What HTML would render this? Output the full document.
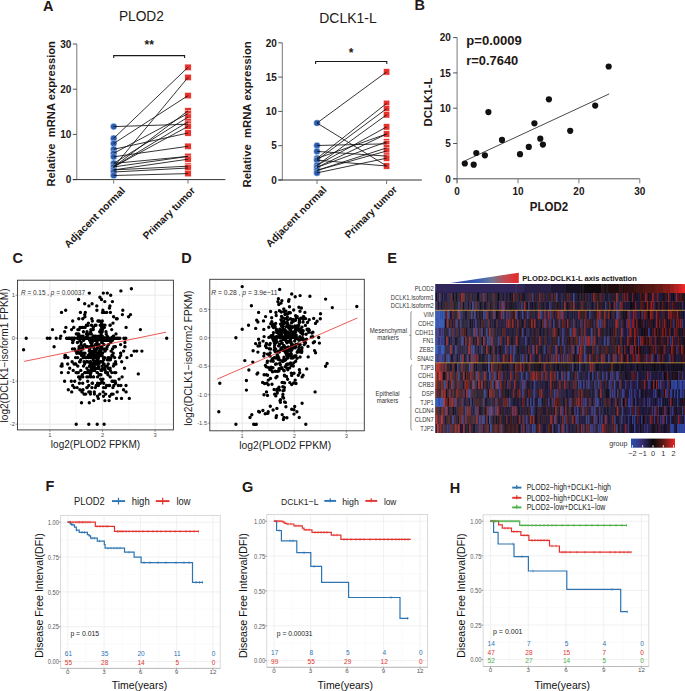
<!DOCTYPE html><html><head><meta charset="utf-8"><style>html,body{margin:0;padding:0;background:#fff;}svg{display:block;font-family:"Liberation Sans",sans-serif;}</style></head><body><svg width="685" height="691" viewBox="0 0 685 691" fill="#231815"><text x="42.9" y="10.6" font-size="14.5" font-weight="bold">A</text><text x="414.5" y="9.7" font-size="14.5" font-weight="bold">B</text><text x="12.6" y="262.6" font-size="14.5" font-weight="bold">C</text><text x="181.3" y="262.5" font-size="14.5" font-weight="bold">D</text><text x="387.2" y="262.5" font-size="14.5" font-weight="bold">E</text><text x="45.4" y="491.3" font-size="14.5" font-weight="bold">F</text><text x="242" y="492.4" font-size="14.5" font-weight="bold">G</text><text x="449.8" y="492.8" font-size="14.5" font-weight="bold">H</text><text x="141.4" y="21.2" font-size="15" text-anchor="middle" textLength="45" lengthAdjust="spacingAndGlyphs">PLOD2</text><line x1="76.8" y1="44" x2="76.8" y2="179.6" stroke="#777" stroke-width="1"/><line x1="72.8" y1="179.6" x2="76.8" y2="179.6" stroke="#555" stroke-width="1"/><text x="71.3" y="183.3" font-size="10" font-weight="bold" text-anchor="end">0</text><line x1="72.8" y1="134.4" x2="76.8" y2="134.4" stroke="#555" stroke-width="1"/><text x="71.3" y="138.1" font-size="10" font-weight="bold" text-anchor="end">10</text><line x1="72.8" y1="89.2" x2="76.8" y2="89.2" stroke="#555" stroke-width="1"/><text x="71.3" y="92.9" font-size="10" font-weight="bold" text-anchor="end">20</text><line x1="72.8" y1="44" x2="76.8" y2="44" stroke="#555" stroke-width="1"/><text x="71.3" y="47.7" font-size="10" font-weight="bold" text-anchor="end">30</text><line x1="72.8" y1="179.6" x2="225.4" y2="179.6" stroke="#333" stroke-width="1"/><line x1="113.7" y1="179.6" x2="113.7" y2="183.6" stroke="#777" stroke-width="1"/><line x1="188" y1="179.6" x2="188" y2="183.6" stroke="#777" stroke-width="1"/><text x="54.6" y="113.8" font-size="11.3" font-weight="bold" text-anchor="middle" textLength="145.5" lengthAdjust="spacingAndGlyphs" transform="rotate(-90 54.6 113.8)">Relative&#160;&#160;mRNA expression</text><path d="M113.7 58.1V55.6H184.6V58.1" fill="none" stroke="#1a1a1a" stroke-width="1.1"/><text x="149.2" y="49.3" font-size="12" font-weight="bold" text-anchor="middle">**</text><circle cx="113.7" cy="126.6" r="3.3" fill="#2a5db0" stroke="#fff" stroke-width="0.4"/><circle cx="113.7" cy="138.4" r="3.3" fill="#2a5db0" stroke="#fff" stroke-width="0.4"/><circle cx="113.7" cy="143.5" r="3.3" fill="#2a5db0" stroke="#fff" stroke-width="0.4"/><circle cx="113.7" cy="149.3" r="3.3" fill="#2a5db0" stroke="#fff" stroke-width="0.4"/><circle cx="113.7" cy="153.3" r="3.3" fill="#2a5db0" stroke="#fff" stroke-width="0.4"/><circle cx="113.7" cy="156.8" r="3.3" fill="#2a5db0" stroke="#fff" stroke-width="0.4"/><circle cx="113.7" cy="163.4" r="3.3" fill="#2a5db0" stroke="#fff" stroke-width="0.4"/><circle cx="113.7" cy="166.9" r="3.3" fill="#2a5db0" stroke="#fff" stroke-width="0.4"/><circle cx="113.7" cy="169.9" r="3.3" fill="#2a5db0" stroke="#fff" stroke-width="0.4"/><circle cx="113.7" cy="172" r="3.3" fill="#2a5db0" stroke="#fff" stroke-width="0.4"/><circle cx="113.7" cy="175.5" r="3.3" fill="#2a5db0" stroke="#fff" stroke-width="0.4"/><rect x="184.8" y="64.1" width="6.4" height="6.4" fill="#e8322c" stroke="#fff" stroke-width="0.5"/><rect x="184.8" y="74.2" width="6.4" height="6.4" fill="#e8322c" stroke="#fff" stroke-width="0.5"/><rect x="184.8" y="92.4" width="6.4" height="6.4" fill="#e8322c" stroke="#fff" stroke-width="0.5"/><rect x="184.8" y="107.6" width="6.4" height="6.4" fill="#e8322c" stroke="#fff" stroke-width="0.5"/><rect x="184.8" y="110.4" width="6.4" height="6.4" fill="#e8322c" stroke="#fff" stroke-width="0.5"/><rect x="184.8" y="113.9" width="6.4" height="6.4" fill="#e8322c" stroke="#fff" stroke-width="0.5"/><rect x="184.8" y="118.6" width="6.4" height="6.4" fill="#e8322c" stroke="#fff" stroke-width="0.5"/><rect x="184.8" y="121" width="6.4" height="6.4" fill="#e8322c" stroke="#fff" stroke-width="0.5"/><rect x="184.8" y="123.2" width="6.4" height="6.4" fill="#e8322c" stroke="#fff" stroke-width="0.5"/><rect x="184.8" y="129.8" width="6.4" height="6.4" fill="#e8322c" stroke="#fff" stroke-width="0.5"/><rect x="184.8" y="143.1" width="6.4" height="6.4" fill="#e8322c" stroke="#fff" stroke-width="0.5"/><rect x="184.8" y="153.2" width="6.4" height="6.4" fill="#e8322c" stroke="#fff" stroke-width="0.5"/><rect x="184.8" y="156" width="6.4" height="6.4" fill="#e8322c" stroke="#fff" stroke-width="0.5"/><rect x="184.8" y="163" width="6.4" height="6.4" fill="#e8322c" stroke="#fff" stroke-width="0.5"/><rect x="184.8" y="164.8" width="6.4" height="6.4" fill="#e8322c" stroke="#fff" stroke-width="0.5"/><rect x="184.8" y="170.4" width="6.4" height="6.4" fill="#e8322c" stroke="#fff" stroke-width="0.5"/><line x1="113.7" y1="126.6" x2="188" y2="124.2" stroke="#111" stroke-width="0.85"/><line x1="113.7" y1="138.4" x2="188" y2="67.3" stroke="#111" stroke-width="0.85"/><line x1="113.7" y1="143.5" x2="188" y2="95.6" stroke="#111" stroke-width="0.85"/><line x1="113.7" y1="149.3" x2="188" y2="133" stroke="#111" stroke-width="0.85"/><line x1="113.7" y1="153.3" x2="188" y2="113.6" stroke="#111" stroke-width="0.85"/><line x1="113.7" y1="156.8" x2="188" y2="146.3" stroke="#111" stroke-width="0.85"/><line x1="113.7" y1="163.4" x2="188" y2="117.1" stroke="#111" stroke-width="0.85"/><line x1="113.7" y1="166.9" x2="188" y2="77.4" stroke="#111" stroke-width="0.85"/><line x1="113.7" y1="166.9" x2="188" y2="110.8" stroke="#111" stroke-width="0.85"/><line x1="113.7" y1="166.9" x2="188" y2="121.8" stroke="#111" stroke-width="0.85"/><line x1="113.7" y1="166.9" x2="188" y2="126.4" stroke="#111" stroke-width="0.85"/><line x1="113.7" y1="166.9" x2="188" y2="156.4" stroke="#111" stroke-width="0.85"/><line x1="113.7" y1="169.9" x2="188" y2="159.2" stroke="#111" stroke-width="0.85"/><line x1="113.7" y1="169.9" x2="188" y2="166.2" stroke="#111" stroke-width="0.85"/><line x1="113.7" y1="172" x2="188" y2="168" stroke="#111" stroke-width="0.85"/><line x1="113.7" y1="175.5" x2="188" y2="173.6" stroke="#111" stroke-width="0.85"/><line x1="113.7" y1="163.4" x2="188" y2="156.4" stroke="#111" stroke-width="0.85"/><text x="68.6" y="248.4" font-size="10.3" font-weight="bold" textLength="81" lengthAdjust="spacingAndGlyphs" transform="rotate(-45 68.6 248.4)">Adjacent normal</text><text x="147.1" y="240.1" font-size="10.3" font-weight="bold" textLength="69" lengthAdjust="spacingAndGlyphs" transform="rotate(-45 147.1 240.1)">Primary tumor</text><text x="348" y="23.1" font-size="15" text-anchor="middle" textLength="57.5" lengthAdjust="spacingAndGlyphs">DCLK1-L</text><line x1="282.3" y1="42.8" x2="282.3" y2="180" stroke="#777" stroke-width="1"/><line x1="278.3" y1="180" x2="282.3" y2="180" stroke="#555" stroke-width="1"/><text x="276.8" y="183.7" font-size="10" font-weight="bold" text-anchor="end">0</text><line x1="278.3" y1="145.7" x2="282.3" y2="145.7" stroke="#555" stroke-width="1"/><text x="276.8" y="149.4" font-size="10" font-weight="bold" text-anchor="end">5</text><line x1="278.3" y1="111.4" x2="282.3" y2="111.4" stroke="#555" stroke-width="1"/><text x="276.8" y="115.1" font-size="10" font-weight="bold" text-anchor="end">10</text><line x1="278.3" y1="77.1" x2="282.3" y2="77.1" stroke="#555" stroke-width="1"/><text x="276.8" y="80.8" font-size="10" font-weight="bold" text-anchor="end">15</text><line x1="278.3" y1="42.8" x2="282.3" y2="42.8" stroke="#555" stroke-width="1"/><text x="276.8" y="46.5" font-size="10" font-weight="bold" text-anchor="end">20</text><line x1="278.3" y1="180" x2="421.8" y2="180" stroke="#333" stroke-width="1"/><line x1="317" y1="180" x2="317" y2="184" stroke="#777" stroke-width="1"/><line x1="386.6" y1="180" x2="386.6" y2="184" stroke="#777" stroke-width="1"/><text x="251.5" y="114.4" font-size="11.3" font-weight="bold" text-anchor="middle" textLength="146.2" lengthAdjust="spacingAndGlyphs" transform="rotate(-90 251.5 114.4)">Relative&#160;&#160;mRNA expression</text><path d="M315.6 64V61.5H386.8V64" fill="none" stroke="#1a1a1a" stroke-width="1.1"/><text x="351.2" y="57" font-size="12" font-weight="bold" text-anchor="middle">*</text><circle cx="317" cy="123" r="3.3" fill="#2a5db0" stroke="#fff" stroke-width="0.4"/><circle cx="317" cy="145.5" r="3.3" fill="#2a5db0" stroke="#fff" stroke-width="0.4"/><circle cx="317" cy="151.4" r="3.3" fill="#2a5db0" stroke="#fff" stroke-width="0.4"/><circle cx="317" cy="158.4" r="3.3" fill="#2a5db0" stroke="#fff" stroke-width="0.4"/><circle cx="317" cy="160.2" r="3.3" fill="#2a5db0" stroke="#fff" stroke-width="0.4"/><circle cx="317" cy="165.3" r="3.3" fill="#2a5db0" stroke="#fff" stroke-width="0.4"/><circle cx="317" cy="167.4" r="3.3" fill="#2a5db0" stroke="#fff" stroke-width="0.4"/><circle cx="317" cy="170.4" r="3.3" fill="#2a5db0" stroke="#fff" stroke-width="0.4"/><circle cx="317" cy="172.9" r="3.3" fill="#2a5db0" stroke="#fff" stroke-width="0.4"/><rect x="383.4" y="68.7" width="6.4" height="6.4" fill="#e8322c" stroke="#fff" stroke-width="0.5"/><rect x="383.4" y="100.2" width="6.4" height="6.4" fill="#e8322c" stroke="#fff" stroke-width="0.5"/><rect x="383.4" y="105.5" width="6.4" height="6.4" fill="#e8322c" stroke="#fff" stroke-width="0.5"/><rect x="383.4" y="111.6" width="6.4" height="6.4" fill="#e8322c" stroke="#fff" stroke-width="0.5"/><rect x="383.4" y="123.7" width="6.4" height="6.4" fill="#e8322c" stroke="#fff" stroke-width="0.5"/><rect x="383.4" y="130.8" width="6.4" height="6.4" fill="#e8322c" stroke="#fff" stroke-width="0.5"/><rect x="383.4" y="138.6" width="6.4" height="6.4" fill="#e8322c" stroke="#fff" stroke-width="0.5"/><rect x="383.4" y="140.6" width="6.4" height="6.4" fill="#e8322c" stroke="#fff" stroke-width="0.5"/><rect x="383.4" y="144.7" width="6.4" height="6.4" fill="#e8322c" stroke="#fff" stroke-width="0.5"/><rect x="383.4" y="147.8" width="6.4" height="6.4" fill="#e8322c" stroke="#fff" stroke-width="0.5"/><rect x="383.4" y="152.9" width="6.4" height="6.4" fill="#e8322c" stroke="#fff" stroke-width="0.5"/><rect x="383.4" y="155" width="6.4" height="6.4" fill="#e8322c" stroke="#fff" stroke-width="0.5"/><rect x="383.4" y="162.8" width="6.4" height="6.4" fill="#e8322c" stroke="#fff" stroke-width="0.5"/><line x1="317" y1="123" x2="386.6" y2="71.9" stroke="#111" stroke-width="0.85"/><line x1="317" y1="123" x2="386.6" y2="166" stroke="#111" stroke-width="0.85"/><line x1="317" y1="145.5" x2="386.6" y2="143.8" stroke="#111" stroke-width="0.85"/><line x1="317" y1="151.4" x2="386.6" y2="156.1" stroke="#111" stroke-width="0.85"/><line x1="317" y1="158.4" x2="386.6" y2="103.4" stroke="#111" stroke-width="0.85"/><line x1="317" y1="160.2" x2="386.6" y2="108.7" stroke="#111" stroke-width="0.85"/><line x1="317" y1="165.3" x2="386.6" y2="114.8" stroke="#111" stroke-width="0.85"/><line x1="317" y1="165.3" x2="386.6" y2="126.9" stroke="#111" stroke-width="0.85"/><line x1="317" y1="167.4" x2="386.6" y2="134" stroke="#111" stroke-width="0.85"/><line x1="317" y1="167.4" x2="386.6" y2="141.8" stroke="#111" stroke-width="0.85"/><line x1="317" y1="170.4" x2="386.6" y2="147.9" stroke="#111" stroke-width="0.85"/><line x1="317" y1="170.4" x2="386.6" y2="151" stroke="#111" stroke-width="0.85"/><line x1="317" y1="172.9" x2="386.6" y2="158.2" stroke="#111" stroke-width="0.85"/><line x1="317" y1="158.4" x2="386.6" y2="134" stroke="#111" stroke-width="0.85"/><line x1="317" y1="160.2" x2="386.6" y2="166" stroke="#111" stroke-width="0.85"/><text x="269.9" y="247.8" font-size="10.3" font-weight="bold" textLength="81" lengthAdjust="spacingAndGlyphs" transform="rotate(-45 269.9 247.8)">Adjacent normal</text><text x="348.9" y="239" font-size="10.3" font-weight="bold" textLength="69" lengthAdjust="spacingAndGlyphs" transform="rotate(-45 348.9 239)">Primary tumor</text><line x1="457.1" y1="37.6" x2="457.1" y2="183.3" stroke="#777" stroke-width="1"/><line x1="453.1" y1="178.8" x2="639.8" y2="178.8" stroke="#555" stroke-width="1"/><line x1="453.1" y1="178.8" x2="457.1" y2="178.8" stroke="#555" stroke-width="1"/><text x="450.8" y="182.5" font-size="10" font-weight="bold" text-anchor="end">0</text><line x1="453.1" y1="143.5" x2="457.1" y2="143.5" stroke="#555" stroke-width="1"/><text x="450.8" y="147.2" font-size="10" font-weight="bold" text-anchor="end">5</text><line x1="453.1" y1="108.2" x2="457.1" y2="108.2" stroke="#555" stroke-width="1"/><text x="450.8" y="111.9" font-size="10" font-weight="bold" text-anchor="end">10</text><line x1="453.1" y1="72.9" x2="457.1" y2="72.9" stroke="#555" stroke-width="1"/><text x="450.8" y="76.6" font-size="10" font-weight="bold" text-anchor="end">15</text><line x1="453.1" y1="37.6" x2="457.1" y2="37.6" stroke="#555" stroke-width="1"/><text x="450.8" y="41.3" font-size="10" font-weight="bold" text-anchor="end">20</text><line x1="457.1" y1="178.8" x2="457.1" y2="183.3" stroke="#777" stroke-width="1"/><text x="457.1" y="195" font-size="10" font-weight="bold" text-anchor="middle">0</text><line x1="518" y1="178.8" x2="518" y2="183.3" stroke="#777" stroke-width="1"/><text x="518" y="195" font-size="10" font-weight="bold" text-anchor="middle">10</text><line x1="578.9" y1="178.8" x2="578.9" y2="183.3" stroke="#777" stroke-width="1"/><text x="578.9" y="195" font-size="10" font-weight="bold" text-anchor="middle">20</text><line x1="639.8" y1="178.8" x2="639.8" y2="183.3" stroke="#777" stroke-width="1"/><text x="639.8" y="195" font-size="10" font-weight="bold" text-anchor="middle">30</text><text x="549" y="211.4" font-size="12" font-weight="bold" text-anchor="middle" textLength="38.3" lengthAdjust="spacingAndGlyphs">PLOD2</text><text x="431.9" y="102" font-size="11.6" font-weight="bold" text-anchor="middle" textLength="48.8" lengthAdjust="spacingAndGlyphs" transform="rotate(-90 431.9 102)">DCLK1-L</text><text x="466.3" y="44.7" font-size="13" font-weight="bold" textLength="55.6" lengthAdjust="spacingAndGlyphs">p=0.0009</text><text x="466.3" y="65.4" font-size="13" font-weight="bold" textLength="52" lengthAdjust="spacingAndGlyphs">r=0.7640</text><line x1="464.8" y1="160.9" x2="609.2" y2="93.9" stroke="#333" stroke-width="0.9"/><circle cx="464.8" cy="163.5" r="3.1" fill="#111"/><circle cx="473.7" cy="164.7" r="3.1" fill="#111"/><circle cx="476.3" cy="153" r="3.1" fill="#111"/><circle cx="484.9" cy="155.3" r="3.1" fill="#111"/><circle cx="488.4" cy="112.1" r="3.1" fill="#111"/><circle cx="502" cy="139.9" r="3.1" fill="#111"/><circle cx="520" cy="154.2" r="3.1" fill="#111"/><circle cx="528.8" cy="146.9" r="3.1" fill="#111"/><circle cx="534.4" cy="123.3" r="3.1" fill="#111"/><circle cx="540.3" cy="138.7" r="3.1" fill="#111"/><circle cx="542.9" cy="144.6" r="3.1" fill="#111"/><circle cx="548.9" cy="99.3" r="3.1" fill="#111"/><circle cx="570.2" cy="130.8" r="3.1" fill="#111"/><circle cx="595.2" cy="105.6" r="3.1" fill="#111"/><circle cx="608.7" cy="66.5" r="3.1" fill="#111"/><rect x="17.5" y="280.2" width="155.9" height="149.7" fill="#fff"/><line x1="23.6" y1="280.2" x2="23.6" y2="429.9" stroke="#f2f2f2" stroke-width="0.6"/><line x1="76.2" y1="280.2" x2="76.2" y2="429.9" stroke="#f2f2f2" stroke-width="0.6"/><line x1="128.8" y1="280.2" x2="128.8" y2="429.9" stroke="#f2f2f2" stroke-width="0.6"/><line x1="17.5" y1="316.7" x2="173.4" y2="316.7" stroke="#f2f2f2" stroke-width="0.6"/><line x1="17.5" y1="359.7" x2="173.4" y2="359.7" stroke="#f2f2f2" stroke-width="0.6"/><line x1="17.5" y1="402.7" x2="173.4" y2="402.7" stroke="#f2f2f2" stroke-width="0.6"/><line x1="49.9" y1="280.2" x2="49.9" y2="429.9" stroke="#e6e6e6" stroke-width="0.9"/><line x1="102.5" y1="280.2" x2="102.5" y2="429.9" stroke="#e6e6e6" stroke-width="0.9"/><line x1="155.1" y1="280.2" x2="155.1" y2="429.9" stroke="#e6e6e6" stroke-width="0.9"/><line x1="17.5" y1="295.2" x2="173.4" y2="295.2" stroke="#e6e6e6" stroke-width="0.9"/><line x1="17.5" y1="338.2" x2="173.4" y2="338.2" stroke="#e6e6e6" stroke-width="0.9"/><line x1="17.5" y1="381.2" x2="173.4" y2="381.2" stroke="#e6e6e6" stroke-width="0.9"/><line x1="17.5" y1="424.2" x2="173.4" y2="424.2" stroke="#e6e6e6" stroke-width="0.9"/><line x1="15.5" y1="295.2" x2="17.5" y2="295.2" stroke="#555" stroke-width="0.6"/><text x="14.9" y="297.3" font-size="5.8" text-anchor="end" fill="#4d4d4d">1</text><line x1="15.5" y1="338.2" x2="17.5" y2="338.2" stroke="#555" stroke-width="0.6"/><text x="14.9" y="340.3" font-size="5.8" text-anchor="end" fill="#4d4d4d">0</text><line x1="15.5" y1="381.2" x2="17.5" y2="381.2" stroke="#555" stroke-width="0.6"/><text x="14.9" y="383.3" font-size="5.8" text-anchor="end" fill="#4d4d4d">-1</text><line x1="15.5" y1="424.2" x2="17.5" y2="424.2" stroke="#555" stroke-width="0.6"/><text x="14.9" y="426.3" font-size="5.8" text-anchor="end" fill="#4d4d4d">-2</text><line x1="49.9" y1="429.9" x2="49.9" y2="431.9" stroke="#555" stroke-width="0.6"/><text x="49.9" y="436.6" font-size="5.8" text-anchor="middle" fill="#4d4d4d">1</text><line x1="102.5" y1="429.9" x2="102.5" y2="431.9" stroke="#555" stroke-width="0.6"/><text x="102.5" y="436.6" font-size="5.8" text-anchor="middle" fill="#4d4d4d">2</text><line x1="155.1" y1="429.9" x2="155.1" y2="431.9" stroke="#555" stroke-width="0.6"/><text x="155.1" y="436.6" font-size="5.8" text-anchor="middle" fill="#4d4d4d">3</text><path d="M77.8 366.1h0M100.5 361.8h0M90.4 374.8h0M76.8 353.2h0M101 348.9h0M134.1 351.1h0M105.6 387.6h0M112.5 348.9h0M99 338.2h0M80.2 361.8h0M98.6 364h0M86.9 368.3h0M94.4 348.9h0M106.8 348.9h0M80.8 370.4h0M121.7 361.8h0M102.9 310.2h0M90.7 342.5h0M98.5 336.1h0M101.8 342.5h0M103 340.3h0M118.7 338.2h0M80.7 359.7h0M94.3 391.9h0M87.7 346.8h0M106.1 340.3h0M85.3 312.4h0M107.5 372.6h0M104.9 351.1h0M96.9 368.3h0M100.7 346.8h0M96 325.3h0M60.8 336.1h0M69.7 368.3h0M112.7 381.2h0M120.7 353.2h0M61.5 312.4h0M86.1 346.8h0M97.6 383.3h0M92.1 355.4h0M84.6 338.2h0M115.4 346.8h0M113.2 353.2h0M93.3 329.6h0M101.2 333.9h0M104.3 327.4h0M105 348.9h0M88.4 357.6h0M126.1 327.4h0M98.6 366.1h0M82.8 376.9h0M100.8 351.1h0M92.6 346.8h0M64.7 331.8h0M82.2 336.1h0M112.5 340.3h0M67.7 364h0M85.3 357.6h0M91.5 325.3h0M111.8 372.6h0M93.4 376.9h0M98.3 398.4h0M90.1 364h0M97.9 321h0M104.7 357.6h0M88.4 323.1h0M110.1 368.3h0M122.1 376.9h0M90.4 361.8h0M106 372.6h0M65.6 355.4h0M102.2 331.8h0M71.6 329.6h0M93.7 340.3h0M93.6 338.2h0M83.5 366.1h0M116.5 398.4h0M98.3 398.4h0M96.8 357.6h0M92.1 383.3h0M96 325.3h0M101 370.4h0M80 327.4h0M91.3 364h0M96 348.9h0M93.1 364h0M82.7 327.4h0M77.2 372.6h0M103.2 391.9h0M115.9 364h0M76.1 372.6h0M100.9 325.3h0M77.7 366.1h0M89.5 338.2h0M87.3 346.8h0M102.1 327.4h0M124.8 346.8h0M83.1 336.1h0M91.7 344.6h0M72.1 361.8h0M120.6 344.6h0M97.8 361.8h0M97 361.8h0M72.5 348.9h0M92.8 364h0M100.9 353.2h0M83.5 353.2h0M93.2 338.2h0M80 379.1h0M113.8 385.5h0M117.2 391.9h0M86.6 357.6h0M75.8 351.1h0M111.9 355.4h0M100.9 374.8h0M93.2 357.6h0M64.6 381.2h0M113.5 336.1h0M106 331.8h0M82.9 348.9h0M71.3 381.2h0M95.7 355.4h0M98.2 321h0M90.3 391.9h0M90.6 351.1h0M104.6 368.3h0M100.5 361.8h0M93.6 370.4h0M80.3 336.1h0M79.4 383.3h0M93.6 376.9h0M69.3 338.2h0M90.5 333.9h0M102.1 381.2h0M103 340.3h0M82.2 391.9h0M77.4 333.9h0M101.7 327.4h0M115.6 383.3h0M94.3 355.4h0M86.7 346.8h0M97.6 376.9h0M93.4 346.8h0M103.9 325.3h0M100.8 355.4h0M110.2 376.9h0M90.4 370.4h0M93.7 400.6h0M86.8 387.6h0M72.8 342.5h0M98 340.3h0M125 346.8h0M98 353.2h0M79.3 336.1h0M120.7 355.4h0M115 338.2h0M82.7 318.8h0M77.4 342.5h0M76.3 333.9h0M86.4 333.9h0M82.7 383.3h0M111.1 351.1h0M84.2 327.4h0M81.3 353.2h0M92.2 342.5h0M98.2 344.6h0M94.8 355.4h0M97.8 357.6h0M99.7 331.8h0M85.1 327.4h0M91.4 353.2h0M97.2 357.6h0M95.4 387.6h0M90.8 340.3h0M109.7 396.2h0M109.1 357.6h0M84.1 361.8h0M84.9 372.6h0M92.7 366.1h0M95.3 344.6h0M95.5 344.6h0M92.7 368.3h0M62.1 366.1h0M90.2 338.2h0M89.5 366.1h0M90.9 329.6h0M100.7 379.1h0M102.5 353.2h0M113.8 346.8h0M77.9 329.6h0M94.1 366.1h0M114.6 372.6h0M79.6 361.8h0M78.3 372.6h0M77.5 351.1h0M100 348.9h0M77.4 338.2h0M89.8 353.2h0M87.1 372.6h0M79.1 346.8h0M107.8 338.2h0M101.5 353.2h0M98.4 385.5h0M85.4 372.6h0M100.2 325.3h0M87 331.8h0M111.1 357.6h0M99.8 394.1h0M111 338.2h0M90.4 394.1h0M84.1 355.4h0M90.1 355.4h0M73.5 340.3h0M105.6 372.6h0M111.7 329.6h0M124.5 368.3h0M78.6 376.9h0M89.2 333.9h0M108.2 364h0M105.5 366.1h0M103.7 383.3h0M85.2 338.2h0M79.5 348.9h0M65.9 327.4h0M97.5 396.2h0M79.9 340.3h0M111.6 394.1h0M102.1 355.4h0M64.8 357.6h0M89.2 351.1h0M95.4 361.8h0M105.2 370.4h0M75.6 364h0M126.9 357.6h0M73.2 370.4h0M104.8 340.3h0M76.5 333.9h0M114.7 357.6h0M88.8 385.5h0M88.1 325.3h0M99 344.6h0M103.5 364h0M131.4 355.4h0M101.7 342.5h0M97.3 344.6h0M68.3 372.6h0M102.2 342.5h0M99.7 336.1h0M95.7 368.3h0M101.8 370.4h0M119.1 379.1h0M61.1 366.1h0M96 340.3h0M99.6 374.8h0M93.9 370.4h0M97.5 346.8h0M88.6 357.6h0M90.3 361.8h0M105 325.3h0M93.3 327.4h0M95.2 336.1h0M94.4 394.1h0M92.3 321h0M102.7 368.3h0M85.7 394.1h0M99.6 361.8h0M86.9 376.9h0M93.8 336.1h0M100.7 355.4h0M82 391.9h0M82.7 338.2h0M104.9 400.6h0M79.1 329.6h0M80.7 359.7h0M120.6 353.2h0M86.4 361.8h0M83.6 355.4h0M78.7 333.9h0M102.3 321h0M74.1 364h0M98 359.7h0M112.9 387.6h0M107.1 338.2h0M78.9 348.9h0M103.3 357.6h0M98.2 368.3h0M74.7 338.2h0M93.6 361.8h0M107.9 374.8h0M108 340.3h0M84.7 372.6h0M88.8 391.9h0M106.5 385.5h0M93.7 355.4h0M108.3 359.7h0M115.5 361.8h0M95.1 325.3h0M72.7 385.5h0M92.9 353.2h0M97 342.5h0M75.7 364h0M107.3 359.7h0M122.4 314.6h0M77.6 357.6h0M92.3 338.2h0M126.1 391.9h0M100.4 383.3h0M84.7 344.6h0M87.2 346.8h0M96.8 305.9h0M92.4 366.1h0M74.7 381.2h0M81.1 344.6h0M110.3 370.4h0M107.2 366.1h0M93.8 364h0M112.8 355.4h0M88.2 355.4h0M80.8 348.9h0M97.9 344.6h0M99.2 374.8h0M102.5 361.8h0M80.2 376.9h0M92.8 357.6h0M65 355.4h0M95.3 368.3h0M101.8 346.8h0M80.9 351.1h0M89.2 372.6h0M90.2 333.9h0M123.6 351.1h0M108.2 368.3h0M98.6 357.6h0M85.7 394.1h0M97.1 359.7h0M95.6 351.1h0M91.3 333.9h0M115.8 372.6h0M83.4 331.8h0M124.9 342.5h0M62 364h0M95.5 364h0M126 385.5h0M102.1 366.1h0M108.9 385.5h0M120.9 385.5h0M98.5 355.4h0M93.3 336.1h0M83 389.8h0M84 394.1h0M104 344.6h0M92.8 364h0M97.1 372.6h0M116 333.9h0M86.5 357.6h0M114 364h0M91.2 368.3h0M90.4 357.6h0M94.3 353.2h0M105.7 394.1h0M86.4 325.3h0M92.4 383.3h0M100.8 329.6h0M87.9 376.9h0M88.1 370.4h0M74.3 387.6h0M94.2 361.8h0M103.5 387.6h0M92.5 383.3h0M72.4 340.3h0M104.1 364h0M95.8 355.4h0M95.2 357.6h0M77.1 387.6h0M96.7 348.9h0M81.1 342.5h0M96.8 357.6h0M89.9 346.8h0M85 353.2h0M99 368.3h0M83.2 357.6h0M91.9 387.6h0M94.9 338.2h0M103.5 396.2h0M83.7 340.3h0M99.2 351.1h0M72.6 342.5h0M96.9 310.2h0M90.7 331.8h0M105.2 351.1h0M113.1 394.1h0M103 379.1h0M129.3 398.4h0M78.3 336.1h0M83 355.4h0M113.4 366.1h0M73.8 327.4h0M97.1 364h0M102.4 329.6h0M98 338.2h0M89.6 348.9h0M109.6 385.5h0M91 372.6h0M98.8 338.2h0M96.2 385.5h0M115.2 381.2h0M89.9 372.6h0M101.4 346.8h0M97.5 353.2h0M90.7 376.9h0M99.1 361.8h0M108.5 344.6h0M103 348.9h0M107.2 346.8h0M87.7 381.2h0M93 351.1h0M100.9 340.3h0M91.8 370.4h0M101.9 361.8h0M89.6 340.3h0M114.9 346.8h0M109.1 400.6h0M79.9 389.8h0M87.3 336.1h0M75.6 357.6h0M90.6 355.4h0M98.3 361.8h0M109.8 340.3h0M107.2 336.1h0M113.3 336.1h0M102.3 336.1h0M110.4 359.7h0M94.2 355.4h0M91.8 346.8h0M110.8 342.5h0M82.8 346.8h0M108.1 357.6h0M97.1 357.6h0M87.2 387.6h0M71.7 391.9h0M79.5 353.2h0M84.5 364h0M90.8 372.6h0M121.5 398.4h0M106.2 333.9h0M81.5 355.4h0M74.6 348.9h0M82.2 327.4h0M82.3 374.8h0M119.5 357.6h0M73.7 327.4h0M98.9 364h0M87.7 361.8h0M103.7 359.7h0M96 336.1h0M102.6 329.6h0M100.1 348.9h0M93.2 359.7h0M97.4 372.6h0M114.3 381.2h0M94.7 370.4h0M112 381.2h0M92.4 368.3h0M96.7 357.6h0M67.9 357.6h0M78.6 299.5h0M102.5 312.4h0M92.1 303.8h0M101.1 325.3h0M109.9 305.9h0M84.7 303.8h0M80.4 312.4h0M110.7 295.2h0M104.8 301.6h0M99.5 321h0M112.4 301.6h0M103.3 293.1h0M110.2 325.3h0M109.5 308.1h0M84.7 314.6h0M101.5 299.5h0M106.7 312.4h0M88.9 305.9h0M104.2 312.4h0M72.7 321h0M91.8 318.8h0M128.6 316.7h0M122.8 310.2h0M110 325.3h0M109.4 308.1h0M113.6 316.7h0M117.2 318.8h0M84.9 316.7h0M101.6 323.1h0M130.5 314.6h0M113 323.1h0M107.3 293.1h0M116.4 318.8h0M106.8 338.2h0M81.2 338.2h0M70 338.2h0M109.2 338.2h0M90.3 338.2h0M97.9 338.2h0M72.7 338.2h0M87.4 338.2h0M85.5 338.2h0M85.7 338.2h0M123.9 338.2h0M82.8 338.2h0M111.7 338.2h0M94 338.2h0M107.3 338.2h0M72.7 338.2h0M96.3 338.2h0M97.9 338.2h0M98.5 338.2h0M101.5 338.2h0M107.9 338.2h0M101.3 338.2h0M94.9 338.2h0M81 338.2h0M92.3 338.2h0M94.4 338.2h0M104.5 338.2h0M113.9 338.2h0M95.9 338.2h0M104.9 338.2h0M68.6 338.2h0M93.2 338.2h0M78.7 338.2h0M104.3 338.2h0M66.6 338.2h0M99.7 338.2h0M125.8 338.2h0M117.5 338.2h0M74.5 338.2h0M108.8 338.2h0M94.5 338.2h0M115.1 338.2h0M97.7 338.2h0M96.8 338.2h0M110.1 338.2h0M78.9 338.2h0M111.5 338.2h0M100.2 338.2h0M80.7 338.2h0M85.1 338.2h0M83.4 338.2h0M88.4 338.2h0M91.6 338.2h0M100.9 338.2h0M81.4 338.2h0M117 338.2h0M100.9 338.2h0M119.9 338.2h0M71.8 338.2h0M87.8 338.2h0M97.9 338.2h0M101.3 338.2h0M103.7 338.2h0M106.1 338.2h0M92.6 338.2h0M95.5 338.2h0M78.6 338.2h0M94.4 338.2h0M86.1 338.2h0M112.3 338.2h0M104.8 338.2h0M91.5 338.2h0M104.8 338.2h0M85.1 338.2h0M94.8 338.2h0M87.1 338.2h0M111.3 338.2h0M93.3 338.2h0M105.4 338.2h0M92 338.2h0M73.9 338.2h0M108.1 338.2h0M100.1 338.2h0M105.9 338.2h0M77.7 338.2h0M60.2 338.2h0M23.6 349.8h0M26.2 338.2h0M47.3 338.2h0M49.9 338.2h0M56.2 338.2h0M54.1 346.8h0M52.5 329.6h0M166.7 338.2h0M140.4 329.6h0M138.3 373.9h0M120.9 290.9h0M131.4 288.8h0M99.9 297.3h0M65.7 310.2h0M72 338.2h0M78.8 318.8h0M89.3 293.1h0M110.4 312.4h0M141.9 351.1h0M136.7 351.1h0M76.2 424.2h0M88.8 424.2h0M97.2 424.2h0M104.1 424.2h0M68.3 389.8h0M118.3 385.5h0M123.5 389.8h0M89.3 402.7h0M81.5 402.7h0M61.5 372.6h0" stroke="#000" stroke-width="3.4" stroke-linecap="round" fill="none"/><line x1="24.2" y1="361.4" x2="166" y2="332.2" stroke="#e8302a" stroke-width="0.8"/><text x="21" y="295.1" font-size="7" fill="#333" textLength="64" lengthAdjust="spacingAndGlyphs"><tspan font-style="italic">R</tspan> = 0.15 , <tspan font-style="italic">p</tspan> = 0.00037</text><rect x="17.5" y="280.2" width="155.9" height="149.7" fill="none" stroke="#333" stroke-width="0.9"/><text x="7.6" y="355.5" font-size="10" text-anchor="middle" fill="#1a1a1a" textLength="134" lengthAdjust="spacingAndGlyphs" transform="rotate(-90 7.6 355.5)">log2(DCLK1&#8722;isoform1 FPKM)</text><text x="95.5" y="447.6" font-size="10" text-anchor="middle" fill="#1a1a1a" textLength="89.3" lengthAdjust="spacingAndGlyphs">log2(PLOD2 FPKM)</text><rect x="209.8" y="279.3" width="154.5" height="151.5" fill="#fff"/><line x1="216.1" y1="279.3" x2="216.1" y2="430.8" stroke="#f2f2f2" stroke-width="0.6"/><line x1="268.2" y1="279.3" x2="268.2" y2="430.8" stroke="#f2f2f2" stroke-width="0.6"/><line x1="320.4" y1="279.3" x2="320.4" y2="430.8" stroke="#f2f2f2" stroke-width="0.6"/><line x1="209.8" y1="295.1" x2="364.3" y2="295.1" stroke="#f2f2f2" stroke-width="0.6"/><line x1="209.8" y1="323.6" x2="364.3" y2="323.6" stroke="#f2f2f2" stroke-width="0.6"/><line x1="209.8" y1="352" x2="364.3" y2="352" stroke="#f2f2f2" stroke-width="0.6"/><line x1="209.8" y1="380.5" x2="364.3" y2="380.5" stroke="#f2f2f2" stroke-width="0.6"/><line x1="209.8" y1="408.9" x2="364.3" y2="408.9" stroke="#f2f2f2" stroke-width="0.6"/><line x1="242.2" y1="279.3" x2="242.2" y2="430.8" stroke="#e6e6e6" stroke-width="0.9"/><line x1="294.3" y1="279.3" x2="294.3" y2="430.8" stroke="#e6e6e6" stroke-width="0.9"/><line x1="346.4" y1="279.3" x2="346.4" y2="430.8" stroke="#e6e6e6" stroke-width="0.9"/><line x1="209.8" y1="309.4" x2="364.3" y2="309.4" stroke="#e6e6e6" stroke-width="0.9"/><line x1="209.8" y1="337.8" x2="364.3" y2="337.8" stroke="#e6e6e6" stroke-width="0.9"/><line x1="209.8" y1="366.2" x2="364.3" y2="366.2" stroke="#e6e6e6" stroke-width="0.9"/><line x1="209.8" y1="394.7" x2="364.3" y2="394.7" stroke="#e6e6e6" stroke-width="0.9"/><line x1="209.8" y1="423.1" x2="364.3" y2="423.1" stroke="#e6e6e6" stroke-width="0.9"/><line x1="207.8" y1="309.4" x2="209.8" y2="309.4" stroke="#555" stroke-width="0.6"/><text x="207.2" y="311.5" font-size="5.8" text-anchor="end" fill="#4d4d4d">0.5</text><line x1="207.8" y1="337.8" x2="209.8" y2="337.8" stroke="#555" stroke-width="0.6"/><text x="207.2" y="339.9" font-size="5.8" text-anchor="end" fill="#4d4d4d">0.0</text><line x1="207.8" y1="366.2" x2="209.8" y2="366.2" stroke="#555" stroke-width="0.6"/><text x="207.2" y="368.4" font-size="5.8" text-anchor="end" fill="#4d4d4d">-0.5</text><line x1="207.8" y1="394.7" x2="209.8" y2="394.7" stroke="#555" stroke-width="0.6"/><text x="207.2" y="396.8" font-size="5.8" text-anchor="end" fill="#4d4d4d">-1.0</text><line x1="207.8" y1="423.1" x2="209.8" y2="423.1" stroke="#555" stroke-width="0.6"/><text x="207.2" y="425.2" font-size="5.8" text-anchor="end" fill="#4d4d4d">-1.5</text><line x1="242.2" y1="430.8" x2="242.2" y2="432.8" stroke="#555" stroke-width="0.6"/><text x="242.2" y="437.5" font-size="5.8" text-anchor="middle" fill="#4d4d4d">1</text><line x1="294.3" y1="430.8" x2="294.3" y2="432.8" stroke="#555" stroke-width="0.6"/><text x="294.3" y="437.5" font-size="5.8" text-anchor="middle" fill="#4d4d4d">2</text><line x1="346.4" y1="430.8" x2="346.4" y2="432.8" stroke="#555" stroke-width="0.6"/><text x="346.4" y="437.5" font-size="5.8" text-anchor="middle" fill="#4d4d4d">3</text><path d="M271.1 367.2h0M295.2 380.1h0M284.6 382.9h0M300.8 332.8h0M304.2 344.6h0M291.7 344.7h0M276.9 341.7h0M270.1 353h0M295.6 337.2h0M281.1 303.1h0M287.2 351.7h0M288.6 350.1h0M281.5 349.2h0M312.9 332.2h0M288.8 328.2h0M312.8 336.7h0M278.4 298.8h0M267.5 354.1h0M295.2 296.8h0M274.1 389.5h0M295.1 347.9h0M281.4 334.5h0M289.4 335h0M280.9 319.6h0M306.1 334.2h0M280.6 329.8h0M292.7 358.1h0M280.5 324.1h0M285.2 347.6h0M289.3 340.9h0M286.5 376.4h0M309.3 330.1h0M275.1 327.1h0M290.5 339.6h0M300.1 295.6h0M293.7 310h0M314.6 350.6h0M279.7 329.3h0M264.2 353.4h0M303.3 316.7h0M294 373.3h0M317.1 321.2h0M296.5 328.9h0M264.1 374.7h0M270.6 311.5h0M275.7 349.2h0M283.2 331.9h0M293 334.2h0M288.7 335.6h0M302.5 337.8h0M278.5 336.4h0M266.2 366.8h0M273.4 340.3h0M313.7 318.4h0M301.4 332h0M290.1 348.2h0M282.8 386.7h0M270.8 369.8h0M297.4 325.6h0M301.4 308h0M282.5 323.3h0M312 333h0M300.6 339.6h0M265.5 345.9h0M275.8 342.7h0M280.5 337.4h0M258.6 312.4h0M304.2 341.8h0M274.6 345h0M295.3 330.6h0M291.7 375.4h0M271.8 321.6h0M289.6 367.9h0M275.2 371.3h0M273.2 324.1h0M283.6 321.6h0M289 368.1h0M277.9 301.7h0M276.4 363.9h0M302.8 334.2h0M286.4 314.1h0M263.1 341.1h0M272.5 371.8h0M275.7 323.4h0M284.6 375.9h0M271.7 317.7h0M300.1 357h0M318.7 337.5h0M270.6 349h0M298.9 307.2h0M300.2 344.7h0M279 370.8h0M285.5 352.6h0M289.7 363.7h0M279.6 359.9h0M270.5 368.5h0M272.9 367.7h0M294.1 336.9h0M268.9 337.4h0M290.3 312.8h0M283.9 346h0M277.3 341.9h0M293.1 335.8h0M283.1 331.8h0M287.7 336.2h0M274 341.4h0M273.2 361.3h0M288.6 301.3h0M299.8 336.8h0M284.1 323.6h0M304.9 312.4h0M284 338.5h0M282.1 348h0M275.1 349.6h0M257.8 372.9h0M292.2 356.6h0M293.7 362.9h0M281.6 335.5h0M272.7 359h0M319.4 343.1h0M277.1 355h0M286.9 341.6h0M299.6 322.2h0M281.1 349.6h0M267.6 375.3h0M276.6 330.8h0M288.1 325.7h0M299 340.2h0M314.5 341.8h0M278.2 351.9h0M301.6 338.8h0M276.6 336.4h0M301.6 338.4h0M283.1 322.1h0M299.6 319.3h0M276.3 339.3h0M291.3 373.1h0M302.5 334.1h0M281.9 300.6h0M288.4 354h0M285.6 331h0M297.3 338.7h0M275 358h0M275.6 364.3h0M286.2 350.4h0M287.2 356.3h0M275 348.4h0M281.8 321.3h0M274.5 341.3h0M285.9 365.7h0M296.2 334.9h0M258.6 339.2h0M299 351.9h0M309 330.9h0M271.2 335.8h0M281.7 367.7h0M258 346h0M276.7 332.4h0M291.6 349.2h0M279.4 310.7h0M309.2 319.8h0M281.8 361h0M281.3 312h0M292.6 344.6h0M270.2 343.4h0M274.8 344.8h0M296.3 318.1h0M288.3 346.9h0M289.5 306.8h0M291.5 365.5h0M307.1 329.8h0M285.2 347.1h0M291.5 350.3h0M266.9 383.2h0M284.8 351.3h0M278.8 304.5h0M297 317.6h0M279.9 337.8h0M283.7 345.9h0M296.4 326.8h0M290.5 337.2h0M267.4 361.1h0M291.5 346.3h0M276.2 338h0M274.3 357.6h0M298.2 344h0M305.4 325.4h0M297.2 316.8h0M257.9 352.1h0M269.4 355.4h0M285.1 318.7h0M285.9 311.1h0M279.5 344.5h0M287.7 323.4h0M285.8 352.8h0M282.1 368.5h0M303.1 322h0M292.1 334.3h0M278.5 351.3h0M297.2 352.3h0M276.2 315.5h0M307.1 329.1h0M293.5 335.5h0M305.3 343.2h0M287.6 331.9h0M305.5 339.6h0M289.6 349.2h0M277.9 356.1h0M287.6 324.5h0M277.4 355.2h0M281.2 336.5h0M295.7 361.2h0M291.1 358h0M295.9 355.8h0M272.3 358.9h0M285.7 359.7h0M289.3 337.6h0M287.6 335.9h0M297.9 350.8h0M286.5 341.7h0M259.6 342.9h0M276.4 357.7h0M280.7 341.3h0M290.8 330.9h0M277.4 331.4h0M292 346.6h0M286.2 326.6h0M292.1 326.6h0M287.9 320h0M315.5 323.4h0M265.6 316.6h0M279 368.8h0M255.6 343.6h0M300.8 318.3h0M281.5 316.5h0M285.5 352.3h0M287.4 337h0M287.1 333.7h0M257.9 322h0M279.1 331.8h0M276.1 341.7h0M284.2 370.8h0M291.5 328h0M272 384.2h0M278.1 359.3h0M287.9 341.1h0M307.5 322.5h0M283.1 339.4h0M248.9 370h0M274.5 347.2h0M290.6 336h0M298.7 349.8h0M290.5 342.3h0M286.7 335.3h0M282.8 338.6h0M286 322.7h0M285 336.1h0M320.3 318.8h0M293.2 319.4h0M273.4 332.6h0M296.2 330h0M299.2 322.8h0M302 347.8h0M292.1 349.3h0M302.6 333.5h0M269.6 344.7h0M273.5 327.6h0M282.1 382.4h0M281.4 324.3h0M290.8 351.3h0M294.9 328h0M305.6 318.6h0M291.3 353.9h0M290.2 334.5h0M286.7 333.5h0M271.1 335.9h0M286.6 334.7h0M285.2 347.1h0M289.8 325.9h0M282.3 336.7h0M276.6 336.9h0M286.7 364.3h0M301.6 352.4h0M287.5 364.6h0M264.1 336.6h0M268.3 384.7h0M283.7 370.2h0M283.8 309h0M281.4 336.4h0M293.7 334.4h0M284.9 314.5h0M285.4 335.1h0M287.9 363.9h0M290.6 338.9h0M294.9 326h0M306.7 368.9h0M279.3 352.1h0M275.3 337.4h0M285.5 339h0M265.4 365.4h0M285.6 349.6h0M278.6 345.9h0M282.9 361.5h0M308 346.4h0M294.9 327.7h0M298.9 347.4h0M273.6 337.5h0M289.8 382.6h0M252.8 362.1h0M281.5 347.7h0M291.8 356.9h0M320.5 313.8h0M303.2 330.8h0M259.7 345.7h0M279.4 335.6h0M285 329.7h0M275.2 351.5h0M286.6 354.7h0M280.6 332.1h0M311.3 336.9h0M297.1 358.2h0M280.6 337.2h0M293.9 357.2h0M294.2 336.1h0M303.3 318.9h0M293.5 346h0M289.8 355.5h0M275.9 377.8h0M269.8 369.5h0M285.2 339.8h0M269.2 348.7h0M291.6 322.9h0M285.2 337.7h0M281.6 326.3h0M266.4 343.5h0M256.7 320.3h0M298.3 375.2h0M279.7 368.8h0M263.8 356.1h0M275.1 326.4h0M279.7 363.4h0M285.4 334.4h0M296.9 328.9h0M267.2 362.4h0M284 357.2h0M295.9 344.4h0M285.4 348.4h0M286.9 368.2h0M313.3 342.8h0M277 376.4h0M285.2 366.6h0M290.5 318.7h0M294.1 346.9h0M302.6 339.6h0M285.7 340.6h0M280.2 336h0M270.5 378.5h0M301.7 349.7h0M281.8 337.1h0M280.3 364.7h0M283.8 359.3h0M293.3 347.2h0M283 328.9h0M266.5 374.7h0M295.6 315.8h0M287.4 353.8h0M302 327.1h0M299.4 369.7h0M284.6 360.6h0M272.2 335.8h0M295.6 346.9h0M283.1 318h0M294.7 341h0M292.8 337.4h0M270.1 356.1h0M289.9 329.3h0M270.9 361h0M278.8 371.1h0M300.4 328.8h0M303.1 375.2h0M275.9 312.4h0M268.3 380.1h0M289.1 312.5h0M294.5 356h0M293.4 331.9h0M289.7 333.5h0M296.9 317.3h0M303.8 316.7h0M284.4 375.3h0M293.3 366.1h0M315.5 352.7h0M262.6 382.4h0M291.3 334.5h0M294.6 333.7h0M276.3 330.2h0M277.4 371.4h0M297.9 328.2h0M274.3 350h0M299.5 320.4h0M272.6 326.2h0M253.1 350.8h0M291.2 342h0M287.8 369.8h0M284.6 333.1h0M274.4 342.9h0M284.2 382.6h0M278.5 333.6h0M266.4 347.6h0M290.6 363h0M283.1 326.5h0M295.6 356.2h0M299.4 331.1h0M288 313.8h0M295.8 331.7h0M298.7 325.4h0M302.7 338.1h0M263.5 320.9h0M296.7 328.5h0M287 342.8h0M287.7 358h0M296.3 336.6h0M274.1 340.6h0M282.2 343.2h0M272.7 338.5h0M295.5 330.7h0M305.5 342.8h0M282.2 342.9h0M268.8 327.3h0M270.5 336.7h0M301.8 351.3h0M284.2 345.7h0M308.6 329.3h0M263.8 329.4h0M299.7 372.8h0M251.4 305.8h0M287.6 379.2h0M300 311.3h0M255.7 328.4h0M295.6 338.7h0M277.4 337.3h0M276 341.8h0M283.1 350.4h0M293.5 321.3h0M297.9 329.5h0M308.2 356.9h0M287.3 337.6h0M302.1 376.9h0M280.8 348.8h0M289 299.6h0M289.5 342h0M292 321.7h0M284.2 311.6h0M270.8 323.8h0M295.6 320.3h0M306.5 339.1h0M291.8 334.7h0M278.7 357.6h0M276.4 329.3h0M257 374.1h0M287.4 317.3h0M285.1 318.9h0M285.7 351.2h0M266.3 344.5h0M308.8 332.3h0M273 335.1h0M268.7 367.7h0M300.9 329.1h0M294.7 406.5h0M283.4 419.5h0M274.7 394.2h0M296 383.5h0M266.5 391.9h0M293.7 383h0M265.2 413.7h0M285.4 402.4h0M277.1 391h0M264.5 383.5h0M276.9 408.4h0M251.8 414.8h0M270.3 406.3h0M259.5 412h0M280.4 402.2h0M285.9 406.7h0M282.2 414.6h0M291.7 409.3h0M277.2 389.1h0M279 387.3h0M267.5 395.4h0M262.9 410.5h0M293.9 409.8h0M291.7 384.6h0M267.9 413.3h0M283 390.8h0M283.6 398h0M284.4 387.5h0M280 400.6h0M282.8 396.9h0M276.5 415.6h0M275.8 395.9h0M258.6 411.5h0M286.9 417.8h0M277.3 393.1h0M284.6 402h0M282.9 394.5h0M299.2 417.5h0M264 394.7h0M284.1 390.3h0M273.1 410h0M279.5 390.1h0M280.5 399.8h0M294 414.1h0M218.8 411.8h0M235.9 424.3h0M235.9 337.8h0M242.2 286.6h0M219.8 383.3h0M242.2 329.3h0M244.8 360.6h0M246.4 380.5h0M246.4 390.1h0M250 417.5h0M253.7 424.3h0M256.3 424.3h0M248.5 325.3h0M279.7 289.4h0M291.7 294h0M356.8 306.5h0M332.3 307.6h0M325.6 299.1h0M309.9 296.3h0M327.1 363.4h0M325.6 366.2h0M315.1 391.9h0M305.8 424.3h0M302.1 403.2h0M296.9 411.8h0M283.9 417.5h0M276.1 417.5h0M268.2 411.8h0" stroke="#000" stroke-width="3.4" stroke-linecap="round" fill="none"/><line x1="217.1" y1="379.2" x2="357.3" y2="318" stroke="#e8302a" stroke-width="0.8"/><text x="211.2" y="294.9" font-size="7" fill="#333" textLength="66.4" lengthAdjust="spacingAndGlyphs"><tspan font-style="italic">R</tspan> = 0.28 , <tspan font-style="italic">p</tspan> = 3.9e&#8722;11</text><rect x="209.8" y="279.3" width="154.5" height="151.5" fill="none" stroke="#333" stroke-width="0.9"/><text x="192.2" y="358.2" font-size="10" text-anchor="middle" fill="#1a1a1a" textLength="135.3" lengthAdjust="spacingAndGlyphs" transform="rotate(-90 192.2 358.2)">log2(DCLK1&#8722;isoform2 FPKM)</text><text x="285.2" y="448.6" font-size="10" text-anchor="middle" fill="#1a1a1a" textLength="92" lengthAdjust="spacingAndGlyphs">log2(PLOD2 FPKM)</text><path d="M435.2 284.1h80.2v9h-80.2zM516.1 284.1h7.3v9h-7.3zM451.2 292.8h1.3v9h-1.3zM466.2 292.8h1.3v9h-1.3zM499.1 292.8h1.3v9h-1.3zM504.1 292.8h1.3v9h-1.3zM561.1 292.8h2.3v9h-2.3zM617.1 292.8h1.3v9h-1.3zM626 292.8h1.3v9h-1.3zM670 292.8h1.3v9h-1.3zM675 292.8h1.3v9h-1.3zM436.2 301.6h1.3v9h-1.3zM504.1 301.6h1.3v9h-1.3zM519.1 301.6h1.3v9h-1.3zM544.1 301.6h1.3v9h-1.3zM551.1 301.6h1.3v9h-1.3zM594.1 301.6h1.3v9h-1.3zM619.1 301.6h1.3v9h-1.3zM654 301.6h1.3v9h-1.3zM670 301.6h1.3v9h-1.3zM461.2 310.3h1.3v9h-1.3zM529.1 310.3h1.3v9h-1.3zM541.1 310.3h1.3v9h-1.3zM545.1 310.3h1.3v9h-1.3zM573.1 310.3h1.3v9h-1.3zM606.1 310.3h1.3v9h-1.3zM618.1 310.3h1.3v9h-1.3zM669 310.3h1.3v9h-1.3zM684 310.3h1.3v9h-1.3zM446.2 319.1h1.3v9h-1.3zM468.2 319.1h1.3v9h-1.3zM484.2 319.1h2.3v9h-2.3zM515.1 319.1h1.3v9h-1.3zM594.1 319.1h1.3v9h-1.3zM621.1 319.1h1.3v9h-1.3zM646 319.1h1.3v9h-1.3zM443.2 327.8h1.3v9h-1.3zM454.2 327.8h2.3v9h-2.3zM460.2 327.8h1.3v9h-1.3zM492.2 327.8h1.3v9h-1.3zM526.1 327.8h1.3v9h-1.3zM528.1 327.8h1.3v9h-1.3zM545.1 327.8h1.3v9h-1.3zM553.1 327.8h1.3v9h-1.3zM563.1 327.8h1.3v9h-1.3zM569.1 327.8h1.3v9h-1.3zM575.1 327.8h1.3v9h-1.3zM599.1 327.8h1.3v9h-1.3zM608.1 327.8h1.3v9h-1.3zM649 327.8h1.3v9h-1.3zM670 327.8h1.3v9h-1.3zM447.2 336.6h1.3v9h-1.3zM452.2 336.6h1.3v9h-1.3zM504.1 336.6h1.3v9h-1.3zM510.1 336.6h1.3v9h-1.3zM546.1 336.6h1.3v9h-1.3zM592.1 336.6h1.3v9h-1.3zM641 336.6h1.3v9h-1.3zM449.2 345.3h1.3v9h-1.3zM451.2 345.3h1.3v9h-1.3zM457.2 345.3h2.3v9h-2.3zM463.2 345.3h1.3v9h-1.3zM465.2 345.3h1.3v9h-1.3zM476.2 345.3h1.3v9h-1.3zM507.1 345.3h1.3v9h-1.3zM542.1 345.3h1.3v9h-1.3zM547.1 345.3h1.3v9h-1.3zM568.1 345.3h1.3v9h-1.3zM596.1 345.3h1.3v9h-1.3zM677 345.3h1.3v9h-1.3zM447.2 354.1h1.3v9h-1.3zM454.2 354.1h1.3v9h-1.3zM498.1 354.1h1.3v9h-1.3zM502.1 354.1h1.3v9h-1.3zM533.1 354.1h1.3v9h-1.3zM549.1 354.1h1.3v9h-1.3zM604.1 354.1h1.3v9h-1.3zM616.1 354.1h1.3v9h-1.3zM619.1 354.1h1.3v9h-1.3zM630 354.1h1.3v9h-1.3zM650 354.1h1.3v9h-1.3zM658 354.1h1.3v9h-1.3zM668 354.1h1.3v9h-1.3zM673 354.1h1.3v9h-1.3zM510.1 362.8h1.3v9h-1.3zM594.1 362.8h1.3v9h-1.3zM635 362.8h1.3v9h-1.3zM512.1 371.6h1.3v9h-1.3zM525.1 371.6h1.3v9h-1.3zM542.1 371.6h1.3v9h-1.3zM582.1 371.6h1.3v9h-1.3zM632 371.6h1.3v9h-1.3zM520.1 380.3h1.3v9h-1.3zM530.1 380.3h1.3v9h-1.3zM533.1 380.3h1.3v9h-1.3zM596.1 380.3h1.3v9h-1.3zM631 380.3h1.3v9h-1.3zM663 380.3h1.3v9h-1.3zM478.2 389.1h1.3v9h-1.3zM494.2 389.1h1.3v9h-1.3zM509.1 389.1h1.3v9h-1.3zM523.1 389.1h1.3v9h-1.3zM552.1 389.1h1.3v9h-1.3zM560.1 389.1h1.3v9h-1.3zM591.1 389.1h1.3v9h-1.3zM609.1 389.1h1.3v9h-1.3zM620.1 389.1h1.3v9h-1.3zM624 389.1h1.3v9h-1.3zM635 389.1h1.3v9h-1.3zM644 389.1h1.3v9h-1.3zM662 389.1h1.3v9h-1.3zM456.2 397.8h1.3v9h-1.3zM462.2 397.8h1.3v9h-1.3zM491.2 397.8h1.3v9h-1.3zM496.2 397.8h1.3v9h-1.3zM590.1 397.8h1.3v9h-1.3zM598.1 397.8h1.3v9h-1.3zM601.1 397.8h1.3v9h-1.3zM603.1 397.8h1.3v9h-1.3zM619.1 397.8h1.3v9h-1.3zM630 397.8h1.3v9h-1.3zM632 397.8h1.3v9h-1.3zM643 397.8h1.3v9h-1.3zM652 397.8h1.3v9h-1.3zM668 397.8h1.3v9h-1.3zM673 397.8h1.3v9h-1.3zM514.1 406.6h1.3v9h-1.3zM570.1 406.6h1.3v9h-1.3zM602.1 406.6h1.3v9h-1.3zM647 406.6h1.3v9h-1.3zM453.2 415.3h1.3v9h-1.3zM481.2 415.3h1.3v9h-1.3zM595.1 415.3h1.3v9h-1.3zM606.1 415.3h1.3v9h-1.3zM624 415.3h1.3v9h-1.3zM645 415.3h1.3v9h-1.3zM658 415.3h1.3v9h-1.3zM452.2 424.1h1.3v9h-1.3zM485.2 424.1h1.3v9h-1.3zM559.1 424.1h1.3v9h-1.3zM591.1 424.1h1.3v9h-1.3zM620.1 424.1h1.3v9h-1.3zM624 424.1h1.3v9h-1.3zM627 424.1h1.3v9h-1.3zM639 424.1h1.3v9h-1.3zM646 424.1h1.3v9h-1.3zM649 424.1h1.3v9h-1.3zM658 424.1h1.3v9h-1.3z" fill="rgb(48, 38, 89)"/><path d="M515.1 284.1h1.3v9h-1.3zM523.1 284.1h27.3v9h-27.3zM437.2 292.8h1.3v9h-1.3zM443.2 292.8h4.3v9h-4.3zM448.2 292.8h1.3v9h-1.3zM454.2 292.8h1.3v9h-1.3zM458.2 292.8h1.3v9h-1.3zM471.2 292.8h2.3v9h-2.3zM475.2 292.8h1.3v9h-1.3zM480.2 292.8h1.3v9h-1.3zM482.2 292.8h1.3v9h-1.3zM485.2 292.8h1.3v9h-1.3zM492.2 292.8h1.3v9h-1.3zM501.1 292.8h1.3v9h-1.3zM508.1 292.8h1.3v9h-1.3zM515.1 292.8h1.3v9h-1.3zM517.1 292.8h1.3v9h-1.3zM526.1 292.8h1.3v9h-1.3zM528.1 292.8h1.3v9h-1.3zM530.1 292.8h1.3v9h-1.3zM537.1 292.8h2.3v9h-2.3zM541.1 292.8h1.3v9h-1.3zM546.1 292.8h2.3v9h-2.3zM552.1 292.8h1.3v9h-1.3zM564.1 292.8h1.3v9h-1.3zM569.1 292.8h2.3v9h-2.3zM580.1 292.8h1.3v9h-1.3zM582.1 292.8h1.3v9h-1.3zM585.1 292.8h1.3v9h-1.3zM588.1 292.8h1.3v9h-1.3zM591.1 292.8h1.3v9h-1.3zM599.1 292.8h1.3v9h-1.3zM603.1 292.8h1.3v9h-1.3zM608.1 292.8h1.3v9h-1.3zM623 292.8h1.3v9h-1.3zM638 292.8h1.3v9h-1.3zM644 292.8h1.3v9h-1.3zM647 292.8h1.3v9h-1.3zM655 292.8h2.3v9h-2.3zM658 292.8h1.3v9h-1.3zM660 292.8h1.3v9h-1.3zM666 292.8h1.3v9h-1.3zM674 292.8h1.3v9h-1.3zM681 292.8h1.3v9h-1.3zM435.2 301.6h1.3v9h-1.3zM439.2 301.6h1.3v9h-1.3zM445.2 301.6h1.3v9h-1.3zM448.2 301.6h1.3v9h-1.3zM460.2 301.6h1.3v9h-1.3zM464.2 301.6h1.3v9h-1.3zM466.2 301.6h1.3v9h-1.3zM469.2 301.6h1.3v9h-1.3zM473.2 301.6h1.3v9h-1.3zM477.2 301.6h1.3v9h-1.3zM482.2 301.6h1.3v9h-1.3zM494.2 301.6h1.3v9h-1.3zM517.1 301.6h1.3v9h-1.3zM522.1 301.6h1.3v9h-1.3zM533.1 301.6h1.3v9h-1.3zM537.1 301.6h1.3v9h-1.3zM540.1 301.6h1.3v9h-1.3zM555.1 301.6h1.3v9h-1.3zM561.1 301.6h1.3v9h-1.3zM565.1 301.6h1.3v9h-1.3zM571.1 301.6h1.3v9h-1.3zM574.1 301.6h1.3v9h-1.3zM580.1 301.6h1.3v9h-1.3zM587.1 301.6h1.3v9h-1.3zM589.1 301.6h1.3v9h-1.3zM613.1 301.6h1.3v9h-1.3zM618.1 301.6h1.3v9h-1.3zM621.1 301.6h1.3v9h-1.3zM624 301.6h2.3v9h-2.3zM629 301.6h1.3v9h-1.3zM649 301.6h1.3v9h-1.3zM659 301.6h1.3v9h-1.3zM674 301.6h1.3v9h-1.3zM677 301.6h1.3v9h-1.3zM445.2 310.3h1.3v9h-1.3zM462.2 310.3h1.3v9h-1.3zM467.2 310.3h1.3v9h-1.3zM485.2 310.3h1.3v9h-1.3zM487.2 310.3h1.3v9h-1.3zM492.2 310.3h1.3v9h-1.3zM500.1 310.3h1.3v9h-1.3zM502.1 310.3h1.3v9h-1.3zM514.1 310.3h1.3v9h-1.3zM520.1 310.3h2.3v9h-2.3zM532.1 310.3h1.3v9h-1.3zM534.1 310.3h1.3v9h-1.3zM537.1 310.3h1.3v9h-1.3zM542.1 310.3h1.3v9h-1.3zM547.1 310.3h1.3v9h-1.3zM555.1 310.3h1.3v9h-1.3zM559.1 310.3h1.3v9h-1.3zM563.1 310.3h1.3v9h-1.3zM565.1 310.3h1.3v9h-1.3zM569.1 310.3h2.3v9h-2.3zM575.1 310.3h3.3v9h-3.3zM582.1 310.3h1.3v9h-1.3zM591.1 310.3h2.3v9h-2.3zM598.1 310.3h1.3v9h-1.3zM613.1 310.3h1.3v9h-1.3zM624 310.3h1.3v9h-1.3zM630 310.3h3.3v9h-3.3zM634 310.3h1.3v9h-1.3zM636 310.3h4.3v9h-4.3zM643 310.3h1.3v9h-1.3zM653 310.3h1.3v9h-1.3zM655 310.3h1.3v9h-1.3zM657 310.3h1.3v9h-1.3zM660 310.3h3.3v9h-3.3zM664 310.3h1.3v9h-1.3zM676 310.3h1.3v9h-1.3zM680 310.3h1.3v9h-1.3zM453.2 319.1h2.3v9h-2.3zM457.2 319.1h1.3v9h-1.3zM464.2 319.1h1.3v9h-1.3zM467.2 319.1h1.3v9h-1.3zM473.2 319.1h2.3v9h-2.3zM476.2 319.1h2.3v9h-2.3zM487.2 319.1h1.3v9h-1.3zM491.2 319.1h2.3v9h-2.3zM497.2 319.1h2.3v9h-2.3zM500.1 319.1h3.3v9h-3.3zM504.1 319.1h1.3v9h-1.3zM507.1 319.1h1.3v9h-1.3zM509.1 319.1h1.3v9h-1.3zM518.1 319.1h1.3v9h-1.3zM520.1 319.1h1.3v9h-1.3zM525.1 319.1h2.3v9h-2.3zM539.1 319.1h1.3v9h-1.3zM543.1 319.1h1.3v9h-1.3zM546.1 319.1h1.3v9h-1.3zM548.1 319.1h1.3v9h-1.3zM564.1 319.1h1.3v9h-1.3zM571.1 319.1h1.3v9h-1.3zM577.1 319.1h1.3v9h-1.3zM582.1 319.1h2.3v9h-2.3zM585.1 319.1h1.3v9h-1.3zM593.1 319.1h1.3v9h-1.3zM603.1 319.1h1.3v9h-1.3zM608.1 319.1h3.3v9h-3.3zM613.1 319.1h1.3v9h-1.3zM618.1 319.1h1.3v9h-1.3zM620.1 319.1h1.3v9h-1.3zM631 319.1h1.3v9h-1.3zM637 319.1h1.3v9h-1.3zM644 319.1h1.3v9h-1.3zM655 319.1h1.3v9h-1.3zM657 319.1h1.3v9h-1.3zM666 319.1h1.3v9h-1.3zM668 319.1h1.3v9h-1.3zM672 319.1h1.3v9h-1.3zM674 319.1h1.3v9h-1.3zM681 319.1h1.3v9h-1.3zM684 319.1h1.3v9h-1.3zM448.2 327.8h1.3v9h-1.3zM451.2 327.8h1.3v9h-1.3zM458.2 327.8h2.3v9h-2.3zM467.2 327.8h1.3v9h-1.3zM469.2 327.8h1.3v9h-1.3zM477.2 327.8h2.3v9h-2.3zM491.2 327.8h1.3v9h-1.3zM496.2 327.8h2.3v9h-2.3zM499.1 327.8h1.3v9h-1.3zM505.1 327.8h3.3v9h-3.3zM509.1 327.8h2.3v9h-2.3zM514.1 327.8h2.3v9h-2.3zM517.1 327.8h1.3v9h-1.3zM527.1 327.8h1.3v9h-1.3zM532.1 327.8h1.3v9h-1.3zM538.1 327.8h1.3v9h-1.3zM541.1 327.8h1.3v9h-1.3zM548.1 327.8h1.3v9h-1.3zM550.1 327.8h1.3v9h-1.3zM560.1 327.8h2.3v9h-2.3zM564.1 327.8h2.3v9h-2.3zM571.1 327.8h1.3v9h-1.3zM576.1 327.8h1.3v9h-1.3zM580.1 327.8h1.3v9h-1.3zM582.1 327.8h1.3v9h-1.3zM585.1 327.8h2.3v9h-2.3zM590.1 327.8h1.3v9h-1.3zM604.1 327.8h1.3v9h-1.3zM616.1 327.8h1.3v9h-1.3zM618.1 327.8h2.3v9h-2.3zM622.1 327.8h2.3v9h-2.3zM643 327.8h1.3v9h-1.3zM655 327.8h1.3v9h-1.3zM675 327.8h1.3v9h-1.3zM443.2 336.6h1.3v9h-1.3zM450.2 336.6h2.3v9h-2.3zM453.2 336.6h1.3v9h-1.3zM459.2 336.6h1.3v9h-1.3zM468.2 336.6h1.3v9h-1.3zM479.2 336.6h1.3v9h-1.3zM484.2 336.6h1.3v9h-1.3zM490.2 336.6h1.3v9h-1.3zM492.2 336.6h1.3v9h-1.3zM495.2 336.6h1.3v9h-1.3zM497.2 336.6h1.3v9h-1.3zM501.1 336.6h1.3v9h-1.3zM505.1 336.6h1.3v9h-1.3zM513.1 336.6h1.3v9h-1.3zM520.1 336.6h1.3v9h-1.3zM522.1 336.6h3.3v9h-3.3zM526.1 336.6h1.3v9h-1.3zM530.1 336.6h1.3v9h-1.3zM536.1 336.6h3.3v9h-3.3zM541.1 336.6h2.3v9h-2.3zM548.1 336.6h1.3v9h-1.3zM550.1 336.6h1.3v9h-1.3zM557.1 336.6h1.3v9h-1.3zM561.1 336.6h1.3v9h-1.3zM563.1 336.6h1.3v9h-1.3zM565.1 336.6h1.3v9h-1.3zM570.1 336.6h1.3v9h-1.3zM578.1 336.6h1.3v9h-1.3zM582.1 336.6h1.3v9h-1.3zM584.1 336.6h1.3v9h-1.3zM590.1 336.6h1.3v9h-1.3zM598.1 336.6h1.3v9h-1.3zM600.1 336.6h1.3v9h-1.3zM603.1 336.6h1.3v9h-1.3zM605.1 336.6h1.3v9h-1.3zM611.1 336.6h1.3v9h-1.3zM616.1 336.6h1.3v9h-1.3zM624 336.6h1.3v9h-1.3zM629 336.6h1.3v9h-1.3zM631 336.6h1.3v9h-1.3zM650 336.6h1.3v9h-1.3zM653 336.6h2.3v9h-2.3zM662 336.6h1.3v9h-1.3zM668 336.6h1.3v9h-1.3zM671 336.6h1.3v9h-1.3zM674 336.6h2.3v9h-2.3zM680 336.6h1.3v9h-1.3zM445.2 345.3h1.3v9h-1.3zM447.2 345.3h1.3v9h-1.3zM452.2 345.3h2.3v9h-2.3zM461.2 345.3h1.3v9h-1.3zM472.2 345.3h1.3v9h-1.3zM479.2 345.3h1.3v9h-1.3zM492.2 345.3h1.3v9h-1.3zM497.2 345.3h1.3v9h-1.3zM501.1 345.3h2.3v9h-2.3zM504.1 345.3h1.3v9h-1.3zM508.1 345.3h2.3v9h-2.3zM511.1 345.3h1.3v9h-1.3zM516.1 345.3h1.3v9h-1.3zM519.1 345.3h2.3v9h-2.3zM525.1 345.3h1.3v9h-1.3zM530.1 345.3h2.3v9h-2.3zM539.1 345.3h1.3v9h-1.3zM543.1 345.3h1.3v9h-1.3zM548.1 345.3h1.3v9h-1.3zM552.1 345.3h2.3v9h-2.3zM563.1 345.3h1.3v9h-1.3zM570.1 345.3h1.3v9h-1.3zM576.1 345.3h1.3v9h-1.3zM582.1 345.3h1.3v9h-1.3zM594.1 345.3h1.3v9h-1.3zM602.1 345.3h1.3v9h-1.3zM610.1 345.3h1.3v9h-1.3zM613.1 345.3h1.3v9h-1.3zM620.1 345.3h1.3v9h-1.3zM626 345.3h1.3v9h-1.3zM629 345.3h1.3v9h-1.3zM642 345.3h1.3v9h-1.3zM644 345.3h1.3v9h-1.3zM646 345.3h1.3v9h-1.3zM650 345.3h1.3v9h-1.3zM652 345.3h1.3v9h-1.3zM656 345.3h1.3v9h-1.3zM665 345.3h1.3v9h-1.3zM667 345.3h2.3v9h-2.3zM443.2 354.1h1.3v9h-1.3zM449.2 354.1h1.3v9h-1.3zM453.2 354.1h1.3v9h-1.3zM455.2 354.1h1.3v9h-1.3zM458.2 354.1h1.3v9h-1.3zM466.2 354.1h1.3v9h-1.3zM470.2 354.1h1.3v9h-1.3zM472.2 354.1h1.3v9h-1.3zM477.2 354.1h1.3v9h-1.3zM485.2 354.1h1.3v9h-1.3zM490.2 354.1h1.3v9h-1.3zM495.2 354.1h1.3v9h-1.3zM499.1 354.1h1.3v9h-1.3zM507.1 354.1h1.3v9h-1.3zM515.1 354.1h2.3v9h-2.3zM518.1 354.1h1.3v9h-1.3zM523.1 354.1h1.3v9h-1.3zM529.1 354.1h1.3v9h-1.3zM532.1 354.1h1.3v9h-1.3zM538.1 354.1h1.3v9h-1.3zM540.1 354.1h1.3v9h-1.3zM543.1 354.1h3.3v9h-3.3zM559.1 354.1h2.3v9h-2.3zM566.1 354.1h1.3v9h-1.3zM582.1 354.1h1.3v9h-1.3zM590.1 354.1h1.3v9h-1.3zM598.1 354.1h1.3v9h-1.3zM600.1 354.1h1.3v9h-1.3zM602.1 354.1h1.3v9h-1.3zM612.1 354.1h1.3v9h-1.3zM626 354.1h1.3v9h-1.3zM628 354.1h1.3v9h-1.3zM645 354.1h1.3v9h-1.3zM649 354.1h1.3v9h-1.3zM663 354.1h1.3v9h-1.3zM676 354.1h2.3v9h-2.3zM679 354.1h1.3v9h-1.3zM682 354.1h1.3v9h-1.3zM444.2 362.8h1.3v9h-1.3zM459.2 362.8h1.3v9h-1.3zM462.2 362.8h1.3v9h-1.3zM464.2 362.8h1.3v9h-1.3zM468.2 362.8h1.3v9h-1.3zM472.2 362.8h1.3v9h-1.3zM477.2 362.8h1.3v9h-1.3zM511.1 362.8h1.3v9h-1.3zM528.1 362.8h1.3v9h-1.3zM555.1 362.8h1.3v9h-1.3zM570.1 362.8h1.3v9h-1.3zM586.1 362.8h1.3v9h-1.3zM589.1 362.8h1.3v9h-1.3zM612.1 362.8h1.3v9h-1.3zM624 362.8h1.3v9h-1.3zM644 362.8h1.3v9h-1.3zM649 362.8h1.3v9h-1.3zM659 362.8h1.3v9h-1.3zM446.2 371.6h1.3v9h-1.3zM449.2 371.6h1.3v9h-1.3zM471.2 371.6h1.3v9h-1.3zM480.2 371.6h1.3v9h-1.3zM482.2 371.6h1.3v9h-1.3zM486.2 371.6h3.3v9h-3.3zM491.2 371.6h1.3v9h-1.3zM495.2 371.6h1.3v9h-1.3zM502.1 371.6h3.3v9h-3.3zM508.1 371.6h1.3v9h-1.3zM511.1 371.6h1.3v9h-1.3zM518.1 371.6h1.3v9h-1.3zM520.1 371.6h1.3v9h-1.3zM523.1 371.6h1.3v9h-1.3zM528.1 371.6h1.3v9h-1.3zM531.1 371.6h1.3v9h-1.3zM540.1 371.6h1.3v9h-1.3zM543.1 371.6h1.3v9h-1.3zM547.1 371.6h1.3v9h-1.3zM549.1 371.6h1.3v9h-1.3zM555.1 371.6h1.3v9h-1.3zM569.1 371.6h1.3v9h-1.3zM571.1 371.6h1.3v9h-1.3zM574.1 371.6h1.3v9h-1.3zM579.1 371.6h2.3v9h-2.3zM584.1 371.6h3.3v9h-3.3zM595.1 371.6h1.3v9h-1.3zM599.1 371.6h1.3v9h-1.3zM604.1 371.6h1.3v9h-1.3zM614.1 371.6h2.3v9h-2.3zM618.1 371.6h2.3v9h-2.3zM623 371.6h2.3v9h-2.3zM642 371.6h1.3v9h-1.3zM644 371.6h2.3v9h-2.3zM648 371.6h2.3v9h-2.3zM654 371.6h1.3v9h-1.3zM657 371.6h2.3v9h-2.3zM660 371.6h1.3v9h-1.3zM670 371.6h1.3v9h-1.3zM673 371.6h1.3v9h-1.3zM445.2 380.3h1.3v9h-1.3zM456.2 380.3h1.3v9h-1.3zM458.2 380.3h1.3v9h-1.3zM461.2 380.3h1.3v9h-1.3zM469.2 380.3h1.3v9h-1.3zM474.2 380.3h1.3v9h-1.3zM479.2 380.3h1.3v9h-1.3zM488.2 380.3h2.3v9h-2.3zM510.1 380.3h1.3v9h-1.3zM512.1 380.3h2.3v9h-2.3zM519.1 380.3h1.3v9h-1.3zM521.1 380.3h1.3v9h-1.3zM536.1 380.3h2.3v9h-2.3zM539.1 380.3h2.3v9h-2.3zM543.1 380.3h1.3v9h-1.3zM548.1 380.3h1.3v9h-1.3zM557.1 380.3h1.3v9h-1.3zM560.1 380.3h1.3v9h-1.3zM562.1 380.3h2.3v9h-2.3zM566.1 380.3h1.3v9h-1.3zM570.1 380.3h1.3v9h-1.3zM572.1 380.3h1.3v9h-1.3zM574.1 380.3h1.3v9h-1.3zM576.1 380.3h1.3v9h-1.3zM587.1 380.3h1.3v9h-1.3zM589.1 380.3h1.3v9h-1.3zM591.1 380.3h1.3v9h-1.3zM595.1 380.3h1.3v9h-1.3zM601.1 380.3h2.3v9h-2.3zM608.1 380.3h1.3v9h-1.3zM611.1 380.3h1.3v9h-1.3zM623 380.3h1.3v9h-1.3zM627 380.3h2.3v9h-2.3zM632 380.3h1.3v9h-1.3zM634 380.3h3.3v9h-3.3zM643 380.3h1.3v9h-1.3zM650 380.3h1.3v9h-1.3zM662 380.3h1.3v9h-1.3zM664 380.3h1.3v9h-1.3zM666 380.3h1.3v9h-1.3zM669 380.3h1.3v9h-1.3zM682 380.3h1.3v9h-1.3zM437.2 389.1h1.3v9h-1.3zM443.2 389.1h1.3v9h-1.3zM447.2 389.1h1.3v9h-1.3zM450.2 389.1h1.3v9h-1.3zM453.2 389.1h1.3v9h-1.3zM462.2 389.1h1.3v9h-1.3zM467.2 389.1h1.3v9h-1.3zM473.2 389.1h1.3v9h-1.3zM475.2 389.1h1.3v9h-1.3zM483.2 389.1h1.3v9h-1.3zM485.2 389.1h1.3v9h-1.3zM496.2 389.1h1.3v9h-1.3zM498.1 389.1h1.3v9h-1.3zM500.1 389.1h1.3v9h-1.3zM504.1 389.1h1.3v9h-1.3zM512.1 389.1h1.3v9h-1.3zM520.1 389.1h1.3v9h-1.3zM531.1 389.1h1.3v9h-1.3zM536.1 389.1h1.3v9h-1.3zM543.1 389.1h2.3v9h-2.3zM548.1 389.1h2.3v9h-2.3zM555.1 389.1h1.3v9h-1.3zM558.1 389.1h1.3v9h-1.3zM562.1 389.1h1.3v9h-1.3zM564.1 389.1h1.3v9h-1.3zM568.1 389.1h3.3v9h-3.3zM575.1 389.1h1.3v9h-1.3zM577.1 389.1h1.3v9h-1.3zM582.1 389.1h1.3v9h-1.3zM594.1 389.1h1.3v9h-1.3zM601.1 389.1h1.3v9h-1.3zM603.1 389.1h1.3v9h-1.3zM627 389.1h1.3v9h-1.3zM630 389.1h1.3v9h-1.3zM636 389.1h1.3v9h-1.3zM640 389.1h1.3v9h-1.3zM648 389.1h1.3v9h-1.3zM654 389.1h1.3v9h-1.3zM656 389.1h1.3v9h-1.3zM660 389.1h2.3v9h-2.3zM663 389.1h1.3v9h-1.3zM679 389.1h1.3v9h-1.3zM682 389.1h1.3v9h-1.3zM450.2 397.8h1.3v9h-1.3zM459.2 397.8h1.3v9h-1.3zM463.2 397.8h3.3v9h-3.3zM473.2 397.8h1.3v9h-1.3zM481.2 397.8h1.3v9h-1.3zM488.2 397.8h1.3v9h-1.3zM490.2 397.8h1.3v9h-1.3zM493.2 397.8h2.3v9h-2.3zM497.2 397.8h1.3v9h-1.3zM500.1 397.8h1.3v9h-1.3zM502.1 397.8h1.3v9h-1.3zM506.1 397.8h1.3v9h-1.3zM511.1 397.8h1.3v9h-1.3zM519.1 397.8h1.3v9h-1.3zM526.1 397.8h1.3v9h-1.3zM539.1 397.8h1.3v9h-1.3zM543.1 397.8h1.3v9h-1.3zM546.1 397.8h2.3v9h-2.3zM551.1 397.8h1.3v9h-1.3zM560.1 397.8h1.3v9h-1.3zM562.1 397.8h1.3v9h-1.3zM568.1 397.8h1.3v9h-1.3zM575.1 397.8h1.3v9h-1.3zM579.1 397.8h2.3v9h-2.3zM584.1 397.8h1.3v9h-1.3zM586.1 397.8h2.3v9h-2.3zM593.1 397.8h1.3v9h-1.3zM605.1 397.8h1.3v9h-1.3zM608.1 397.8h1.3v9h-1.3zM613.1 397.8h2.3v9h-2.3zM624 397.8h1.3v9h-1.3zM626 397.8h1.3v9h-1.3zM638 397.8h3.3v9h-3.3zM642 397.8h1.3v9h-1.3zM648 397.8h1.3v9h-1.3zM650 397.8h1.3v9h-1.3zM654 397.8h1.3v9h-1.3zM656 397.8h2.3v9h-2.3zM659 397.8h2.3v9h-2.3zM664 397.8h1.3v9h-1.3zM666 397.8h1.3v9h-1.3zM671 397.8h1.3v9h-1.3zM675 397.8h1.3v9h-1.3zM679 397.8h1.3v9h-1.3zM438.2 406.6h1.3v9h-1.3zM456.2 406.6h1.3v9h-1.3zM470.2 406.6h1.3v9h-1.3zM472.2 406.6h2.3v9h-2.3zM476.2 406.6h1.3v9h-1.3zM483.2 406.6h1.3v9h-1.3zM486.2 406.6h1.3v9h-1.3zM488.2 406.6h1.3v9h-1.3zM492.2 406.6h1.3v9h-1.3zM496.2 406.6h1.3v9h-1.3zM504.1 406.6h2.3v9h-2.3zM508.1 406.6h2.3v9h-2.3zM520.1 406.6h1.3v9h-1.3zM522.1 406.6h1.3v9h-1.3zM525.1 406.6h1.3v9h-1.3zM530.1 406.6h1.3v9h-1.3zM534.1 406.6h1.3v9h-1.3zM537.1 406.6h1.3v9h-1.3zM547.1 406.6h1.3v9h-1.3zM552.1 406.6h1.3v9h-1.3zM557.1 406.6h1.3v9h-1.3zM568.1 406.6h1.3v9h-1.3zM575.1 406.6h2.3v9h-2.3zM585.1 406.6h1.3v9h-1.3zM588.1 406.6h3.3v9h-3.3zM595.1 406.6h1.3v9h-1.3zM606.1 406.6h1.3v9h-1.3zM609.1 406.6h2.3v9h-2.3zM613.1 406.6h1.3v9h-1.3zM621.1 406.6h1.3v9h-1.3zM624 406.6h1.3v9h-1.3zM626 406.6h4.3v9h-4.3zM634 406.6h1.3v9h-1.3zM636 406.6h1.3v9h-1.3zM640 406.6h1.3v9h-1.3zM645 406.6h1.3v9h-1.3zM650 406.6h1.3v9h-1.3zM667 406.6h1.3v9h-1.3zM669 406.6h1.3v9h-1.3zM671 406.6h1.3v9h-1.3zM673 406.6h1.3v9h-1.3zM677 406.6h2.3v9h-2.3zM438.2 415.3h1.3v9h-1.3zM440.2 415.3h1.3v9h-1.3zM443.2 415.3h1.3v9h-1.3zM455.2 415.3h1.3v9h-1.3zM463.2 415.3h1.3v9h-1.3zM466.2 415.3h1.3v9h-1.3zM472.2 415.3h1.3v9h-1.3zM474.2 415.3h1.3v9h-1.3zM477.2 415.3h1.3v9h-1.3zM484.2 415.3h2.3v9h-2.3zM491.2 415.3h1.3v9h-1.3zM512.1 415.3h1.3v9h-1.3zM514.1 415.3h1.3v9h-1.3zM525.1 415.3h1.3v9h-1.3zM529.1 415.3h1.3v9h-1.3zM532.1 415.3h1.3v9h-1.3zM541.1 415.3h1.3v9h-1.3zM545.1 415.3h1.3v9h-1.3zM547.1 415.3h3.3v9h-3.3zM556.1 415.3h1.3v9h-1.3zM560.1 415.3h1.3v9h-1.3zM565.1 415.3h1.3v9h-1.3zM569.1 415.3h1.3v9h-1.3zM571.1 415.3h1.3v9h-1.3zM578.1 415.3h1.3v9h-1.3zM580.1 415.3h4.3v9h-4.3zM585.1 415.3h1.3v9h-1.3zM604.1 415.3h1.3v9h-1.3zM610.1 415.3h2.3v9h-2.3zM619.1 415.3h1.3v9h-1.3zM623 415.3h1.3v9h-1.3zM625 415.3h1.3v9h-1.3zM639 415.3h1.3v9h-1.3zM646 415.3h1.3v9h-1.3zM648 415.3h2.3v9h-2.3zM651 415.3h1.3v9h-1.3zM661 415.3h1.3v9h-1.3zM664 415.3h1.3v9h-1.3zM676 415.3h2.3v9h-2.3zM679 415.3h3.3v9h-3.3zM435.2 424.1h1.3v9h-1.3zM438.2 424.1h1.3v9h-1.3zM442.2 424.1h1.3v9h-1.3zM445.2 424.1h1.3v9h-1.3zM475.2 424.1h1.3v9h-1.3zM477.2 424.1h1.3v9h-1.3zM480.2 424.1h1.3v9h-1.3zM482.2 424.1h2.3v9h-2.3zM491.2 424.1h1.3v9h-1.3zM493.2 424.1h1.3v9h-1.3zM498.1 424.1h1.3v9h-1.3zM508.1 424.1h1.3v9h-1.3zM524.1 424.1h1.3v9h-1.3zM527.1 424.1h1.3v9h-1.3zM530.1 424.1h1.3v9h-1.3zM533.1 424.1h1.3v9h-1.3zM535.1 424.1h1.3v9h-1.3zM538.1 424.1h1.3v9h-1.3zM541.1 424.1h1.3v9h-1.3zM546.1 424.1h1.3v9h-1.3zM555.1 424.1h2.3v9h-2.3zM567.1 424.1h1.3v9h-1.3zM570.1 424.1h1.3v9h-1.3zM574.1 424.1h1.3v9h-1.3zM578.1 424.1h1.3v9h-1.3zM587.1 424.1h1.3v9h-1.3zM596.1 424.1h1.3v9h-1.3zM599.1 424.1h1.3v9h-1.3zM605.1 424.1h2.3v9h-2.3zM609.1 424.1h1.3v9h-1.3zM611.1 424.1h1.3v9h-1.3zM617.1 424.1h1.3v9h-1.3zM626 424.1h1.3v9h-1.3zM635 424.1h1.3v9h-1.3zM638 424.1h1.3v9h-1.3zM641 424.1h2.3v9h-2.3zM645 424.1h1.3v9h-1.3zM650 424.1h1.3v9h-1.3zM655 424.1h2.3v9h-2.3zM660 424.1h1.3v9h-1.3zM662 424.1h1.3v9h-1.3zM667 424.1h1.3v9h-1.3zM669 424.1h1.3v9h-1.3zM675 424.1h1.3v9h-1.3z" fill="rgb(39, 31, 70)"/><path d="M550.1 284.1h15.3v9h-15.3zM441.2 292.8h2.3v9h-2.3zM447.2 292.8h1.3v9h-1.3zM449.2 292.8h1.3v9h-1.3zM457.2 292.8h1.3v9h-1.3zM462.2 292.8h1.3v9h-1.3zM464.2 292.8h1.3v9h-1.3zM468.2 292.8h1.3v9h-1.3zM473.2 292.8h1.3v9h-1.3zM479.2 292.8h1.3v9h-1.3zM481.2 292.8h1.3v9h-1.3zM484.2 292.8h1.3v9h-1.3zM486.2 292.8h2.3v9h-2.3zM489.2 292.8h1.3v9h-1.3zM491.2 292.8h1.3v9h-1.3zM495.2 292.8h1.3v9h-1.3zM500.1 292.8h1.3v9h-1.3zM502.1 292.8h2.3v9h-2.3zM505.1 292.8h1.3v9h-1.3zM507.1 292.8h1.3v9h-1.3zM511.1 292.8h1.3v9h-1.3zM514.1 292.8h1.3v9h-1.3zM518.1 292.8h1.3v9h-1.3zM521.1 292.8h2.3v9h-2.3zM525.1 292.8h1.3v9h-1.3zM527.1 292.8h1.3v9h-1.3zM531.1 292.8h1.3v9h-1.3zM533.1 292.8h2.3v9h-2.3zM540.1 292.8h1.3v9h-1.3zM542.1 292.8h1.3v9h-1.3zM545.1 292.8h1.3v9h-1.3zM548.1 292.8h1.3v9h-1.3zM550.1 292.8h1.3v9h-1.3zM555.1 292.8h1.3v9h-1.3zM557.1 292.8h2.3v9h-2.3zM560.1 292.8h1.3v9h-1.3zM566.1 292.8h1.3v9h-1.3zM571.1 292.8h2.3v9h-2.3zM574.1 292.8h1.3v9h-1.3zM576.1 292.8h1.3v9h-1.3zM579.1 292.8h1.3v9h-1.3zM586.1 292.8h2.3v9h-2.3zM589.1 292.8h2.3v9h-2.3zM597.1 292.8h1.3v9h-1.3zM601.1 292.8h1.3v9h-1.3zM604.1 292.8h4.3v9h-4.3zM609.1 292.8h1.3v9h-1.3zM611.1 292.8h2.3v9h-2.3zM618.1 292.8h1.3v9h-1.3zM620.1 292.8h1.3v9h-1.3zM625 292.8h1.3v9h-1.3zM629 292.8h1.3v9h-1.3zM631 292.8h1.3v9h-1.3zM634 292.8h1.3v9h-1.3zM636 292.8h1.3v9h-1.3zM639 292.8h1.3v9h-1.3zM641 292.8h1.3v9h-1.3zM650 292.8h2.3v9h-2.3zM654 292.8h1.3v9h-1.3zM659 292.8h1.3v9h-1.3zM661 292.8h2.3v9h-2.3zM664 292.8h1.3v9h-1.3zM669 292.8h1.3v9h-1.3zM672 292.8h1.3v9h-1.3zM677 292.8h1.3v9h-1.3zM679 292.8h1.3v9h-1.3zM437.2 301.6h2.3v9h-2.3zM440.2 301.6h2.3v9h-2.3zM443.2 301.6h1.3v9h-1.3zM447.2 301.6h1.3v9h-1.3zM449.2 301.6h1.3v9h-1.3zM451.2 301.6h1.3v9h-1.3zM453.2 301.6h1.3v9h-1.3zM456.2 301.6h1.3v9h-1.3zM459.2 301.6h1.3v9h-1.3zM465.2 301.6h1.3v9h-1.3zM467.2 301.6h2.3v9h-2.3zM470.2 301.6h2.3v9h-2.3zM474.2 301.6h1.3v9h-1.3zM476.2 301.6h1.3v9h-1.3zM478.2 301.6h1.3v9h-1.3zM483.2 301.6h3.3v9h-3.3zM487.2 301.6h1.3v9h-1.3zM489.2 301.6h2.3v9h-2.3zM492.2 301.6h1.3v9h-1.3zM496.2 301.6h3.3v9h-3.3zM505.1 301.6h2.3v9h-2.3zM508.1 301.6h3.3v9h-3.3zM512.1 301.6h1.3v9h-1.3zM514.1 301.6h1.3v9h-1.3zM516.1 301.6h1.3v9h-1.3zM518.1 301.6h1.3v9h-1.3zM520.1 301.6h1.3v9h-1.3zM523.1 301.6h1.3v9h-1.3zM529.1 301.6h2.3v9h-2.3zM536.1 301.6h1.3v9h-1.3zM539.1 301.6h1.3v9h-1.3zM542.1 301.6h1.3v9h-1.3zM545.1 301.6h4.3v9h-4.3zM550.1 301.6h1.3v9h-1.3zM553.1 301.6h1.3v9h-1.3zM559.1 301.6h2.3v9h-2.3zM562.1 301.6h1.3v9h-1.3zM569.1 301.6h1.3v9h-1.3zM576.1 301.6h3.3v9h-3.3zM584.1 301.6h1.3v9h-1.3zM586.1 301.6h1.3v9h-1.3zM588.1 301.6h1.3v9h-1.3zM590.1 301.6h1.3v9h-1.3zM593.1 301.6h1.3v9h-1.3zM595.1 301.6h2.3v9h-2.3zM602.1 301.6h3.3v9h-3.3zM607.1 301.6h2.3v9h-2.3zM617.1 301.6h1.3v9h-1.3zM626 301.6h3.3v9h-3.3zM632 301.6h1.3v9h-1.3zM634 301.6h1.3v9h-1.3zM636 301.6h4.3v9h-4.3zM643 301.6h2.3v9h-2.3zM652 301.6h1.3v9h-1.3zM655 301.6h1.3v9h-1.3zM657 301.6h1.3v9h-1.3zM661 301.6h1.3v9h-1.3zM664 301.6h2.3v9h-2.3zM671 301.6h1.3v9h-1.3zM676 301.6h1.3v9h-1.3zM681 301.6h1.3v9h-1.3zM444.2 310.3h1.3v9h-1.3zM446.2 310.3h1.3v9h-1.3zM449.2 310.3h3.3v9h-3.3zM454.2 310.3h1.3v9h-1.3zM456.2 310.3h1.3v9h-1.3zM460.2 310.3h1.3v9h-1.3zM464.2 310.3h3.3v9h-3.3zM468.2 310.3h1.3v9h-1.3zM470.2 310.3h1.3v9h-1.3zM473.2 310.3h1.3v9h-1.3zM475.2 310.3h2.3v9h-2.3zM478.2 310.3h2.3v9h-2.3zM481.2 310.3h2.3v9h-2.3zM488.2 310.3h2.3v9h-2.3zM491.2 310.3h1.3v9h-1.3zM499.1 310.3h1.3v9h-1.3zM505.1 310.3h1.3v9h-1.3zM508.1 310.3h1.3v9h-1.3zM510.1 310.3h1.3v9h-1.3zM517.1 310.3h3.3v9h-3.3zM523.1 310.3h2.3v9h-2.3zM526.1 310.3h1.3v9h-1.3zM528.1 310.3h1.3v9h-1.3zM531.1 310.3h1.3v9h-1.3zM533.1 310.3h1.3v9h-1.3zM536.1 310.3h1.3v9h-1.3zM543.1 310.3h1.3v9h-1.3zM546.1 310.3h1.3v9h-1.3zM549.1 310.3h1.3v9h-1.3zM551.1 310.3h1.3v9h-1.3zM553.1 310.3h2.3v9h-2.3zM564.1 310.3h1.3v9h-1.3zM566.1 310.3h3.3v9h-3.3zM571.1 310.3h2.3v9h-2.3zM584.1 310.3h1.3v9h-1.3zM586.1 310.3h3.3v9h-3.3zM590.1 310.3h1.3v9h-1.3zM593.1 310.3h2.3v9h-2.3zM601.1 310.3h1.3v9h-1.3zM603.1 310.3h1.3v9h-1.3zM611.1 310.3h1.3v9h-1.3zM614.1 310.3h2.3v9h-2.3zM621.1 310.3h1.3v9h-1.3zM647 310.3h1.3v9h-1.3zM649 310.3h1.3v9h-1.3zM654 310.3h1.3v9h-1.3zM659 310.3h1.3v9h-1.3zM666 310.3h2.3v9h-2.3zM672 310.3h1.3v9h-1.3zM681 310.3h2.3v9h-2.3zM451.2 319.1h2.3v9h-2.3zM459.2 319.1h1.3v9h-1.3zM462.2 319.1h1.3v9h-1.3zM465.2 319.1h1.3v9h-1.3zM471.2 319.1h2.3v9h-2.3zM479.2 319.1h2.3v9h-2.3zM486.2 319.1h1.3v9h-1.3zM489.2 319.1h2.3v9h-2.3zM493.2 319.1h3.3v9h-3.3zM499.1 319.1h1.3v9h-1.3zM503.1 319.1h1.3v9h-1.3zM505.1 319.1h1.3v9h-1.3zM513.1 319.1h1.3v9h-1.3zM523.1 319.1h1.3v9h-1.3zM527.1 319.1h1.3v9h-1.3zM535.1 319.1h2.3v9h-2.3zM538.1 319.1h1.3v9h-1.3zM551.1 319.1h2.3v9h-2.3zM554.1 319.1h1.3v9h-1.3zM556.1 319.1h1.3v9h-1.3zM561.1 319.1h1.3v9h-1.3zM565.1 319.1h2.3v9h-2.3zM570.1 319.1h1.3v9h-1.3zM572.1 319.1h1.3v9h-1.3zM575.1 319.1h2.3v9h-2.3zM578.1 319.1h1.3v9h-1.3zM586.1 319.1h1.3v9h-1.3zM588.1 319.1h1.3v9h-1.3zM591.1 319.1h2.3v9h-2.3zM595.1 319.1h1.3v9h-1.3zM599.1 319.1h1.3v9h-1.3zM601.1 319.1h1.3v9h-1.3zM605.1 319.1h3.3v9h-3.3zM611.1 319.1h2.3v9h-2.3zM619.1 319.1h1.3v9h-1.3zM622.1 319.1h1.3v9h-1.3zM625 319.1h1.3v9h-1.3zM634 319.1h1.3v9h-1.3zM641 319.1h2.3v9h-2.3zM647 319.1h1.3v9h-1.3zM649 319.1h1.3v9h-1.3zM651 319.1h2.3v9h-2.3zM654 319.1h1.3v9h-1.3zM660 319.1h2.3v9h-2.3zM663 319.1h1.3v9h-1.3zM679 319.1h1.3v9h-1.3zM445.2 327.8h1.3v9h-1.3zM447.2 327.8h1.3v9h-1.3zM450.2 327.8h1.3v9h-1.3zM453.2 327.8h1.3v9h-1.3zM457.2 327.8h1.3v9h-1.3zM462.2 327.8h1.3v9h-1.3zM468.2 327.8h1.3v9h-1.3zM470.2 327.8h1.3v9h-1.3zM472.2 327.8h1.3v9h-1.3zM475.2 327.8h1.3v9h-1.3zM480.2 327.8h1.3v9h-1.3zM482.2 327.8h2.3v9h-2.3zM485.2 327.8h1.3v9h-1.3zM488.2 327.8h1.3v9h-1.3zM490.2 327.8h1.3v9h-1.3zM498.1 327.8h1.3v9h-1.3zM500.1 327.8h1.3v9h-1.3zM503.1 327.8h1.3v9h-1.3zM511.1 327.8h1.3v9h-1.3zM513.1 327.8h1.3v9h-1.3zM518.1 327.8h2.3v9h-2.3zM523.1 327.8h3.3v9h-3.3zM529.1 327.8h1.3v9h-1.3zM531.1 327.8h1.3v9h-1.3zM533.1 327.8h2.3v9h-2.3zM537.1 327.8h1.3v9h-1.3zM542.1 327.8h2.3v9h-2.3zM546.1 327.8h1.3v9h-1.3zM551.1 327.8h1.3v9h-1.3zM559.1 327.8h1.3v9h-1.3zM568.1 327.8h1.3v9h-1.3zM577.1 327.8h1.3v9h-1.3zM583.1 327.8h1.3v9h-1.3zM588.1 327.8h2.3v9h-2.3zM592.1 327.8h1.3v9h-1.3zM595.1 327.8h1.3v9h-1.3zM597.1 327.8h1.3v9h-1.3zM601.1 327.8h1.3v9h-1.3zM603.1 327.8h1.3v9h-1.3zM605.1 327.8h2.3v9h-2.3zM611.1 327.8h2.3v9h-2.3zM620.1 327.8h1.3v9h-1.3zM624 327.8h3.3v9h-3.3zM628 327.8h1.3v9h-1.3zM632 327.8h2.3v9h-2.3zM636 327.8h1.3v9h-1.3zM638 327.8h3.3v9h-3.3zM650 327.8h1.3v9h-1.3zM653 327.8h1.3v9h-1.3zM658 327.8h1.3v9h-1.3zM661 327.8h1.3v9h-1.3zM666 327.8h2.3v9h-2.3zM672 327.8h2.3v9h-2.3zM678 327.8h1.3v9h-1.3zM680 327.8h2.3v9h-2.3zM684 327.8h1.3v9h-1.3zM444.2 336.6h2.3v9h-2.3zM448.2 336.6h2.3v9h-2.3zM454.2 336.6h3.3v9h-3.3zM458.2 336.6h1.3v9h-1.3zM460.2 336.6h1.3v9h-1.3zM463.2 336.6h2.3v9h-2.3zM467.2 336.6h1.3v9h-1.3zM470.2 336.6h1.3v9h-1.3zM472.2 336.6h2.3v9h-2.3zM475.2 336.6h2.3v9h-2.3zM480.2 336.6h1.3v9h-1.3zM485.2 336.6h1.3v9h-1.3zM488.2 336.6h1.3v9h-1.3zM493.2 336.6h1.3v9h-1.3zM499.1 336.6h1.3v9h-1.3zM502.1 336.6h1.3v9h-1.3zM514.1 336.6h1.3v9h-1.3zM517.1 336.6h2.3v9h-2.3zM521.1 336.6h1.3v9h-1.3zM527.1 336.6h3.3v9h-3.3zM531.1 336.6h1.3v9h-1.3zM533.1 336.6h1.3v9h-1.3zM545.1 336.6h1.3v9h-1.3zM549.1 336.6h1.3v9h-1.3zM551.1 336.6h1.3v9h-1.3zM564.1 336.6h1.3v9h-1.3zM566.1 336.6h2.3v9h-2.3zM572.1 336.6h1.3v9h-1.3zM575.1 336.6h1.3v9h-1.3zM580.1 336.6h1.3v9h-1.3zM596.1 336.6h2.3v9h-2.3zM599.1 336.6h1.3v9h-1.3zM601.1 336.6h2.3v9h-2.3zM609.1 336.6h1.3v9h-1.3zM613.1 336.6h1.3v9h-1.3zM617.1 336.6h2.3v9h-2.3zM621.1 336.6h1.3v9h-1.3zM623 336.6h1.3v9h-1.3zM625 336.6h2.3v9h-2.3zM632 336.6h1.3v9h-1.3zM636 336.6h2.3v9h-2.3zM647 336.6h1.3v9h-1.3zM656 336.6h1.3v9h-1.3zM658 336.6h1.3v9h-1.3zM660 336.6h1.3v9h-1.3zM664 336.6h2.3v9h-2.3zM669 336.6h1.3v9h-1.3zM676 336.6h1.3v9h-1.3zM681 336.6h2.3v9h-2.3zM444.2 345.3h1.3v9h-1.3zM446.2 345.3h1.3v9h-1.3zM448.2 345.3h1.3v9h-1.3zM456.2 345.3h1.3v9h-1.3zM460.2 345.3h1.3v9h-1.3zM464.2 345.3h1.3v9h-1.3zM466.2 345.3h1.3v9h-1.3zM470.2 345.3h1.3v9h-1.3zM474.2 345.3h1.3v9h-1.3zM477.2 345.3h2.3v9h-2.3zM484.2 345.3h2.3v9h-2.3zM488.2 345.3h1.3v9h-1.3zM491.2 345.3h1.3v9h-1.3zM494.2 345.3h3.3v9h-3.3zM498.1 345.3h2.3v9h-2.3zM503.1 345.3h1.3v9h-1.3zM515.1 345.3h1.3v9h-1.3zM522.1 345.3h1.3v9h-1.3zM524.1 345.3h1.3v9h-1.3zM526.1 345.3h2.3v9h-2.3zM529.1 345.3h1.3v9h-1.3zM534.1 345.3h1.3v9h-1.3zM537.1 345.3h1.3v9h-1.3zM545.1 345.3h2.3v9h-2.3zM554.1 345.3h1.3v9h-1.3zM557.1 345.3h3.3v9h-3.3zM562.1 345.3h1.3v9h-1.3zM566.1 345.3h1.3v9h-1.3zM569.1 345.3h1.3v9h-1.3zM586.1 345.3h1.3v9h-1.3zM589.1 345.3h3.3v9h-3.3zM595.1 345.3h1.3v9h-1.3zM603.1 345.3h1.3v9h-1.3zM605.1 345.3h1.3v9h-1.3zM608.1 345.3h1.3v9h-1.3zM611.1 345.3h1.3v9h-1.3zM614.1 345.3h1.3v9h-1.3zM619.1 345.3h1.3v9h-1.3zM622.1 345.3h1.3v9h-1.3zM625 345.3h1.3v9h-1.3zM627 345.3h1.3v9h-1.3zM633 345.3h1.3v9h-1.3zM641 345.3h1.3v9h-1.3zM645 345.3h1.3v9h-1.3zM647 345.3h1.3v9h-1.3zM657 345.3h1.3v9h-1.3zM659 345.3h1.3v9h-1.3zM662 345.3h1.3v9h-1.3zM666 345.3h1.3v9h-1.3zM669 345.3h1.3v9h-1.3zM679 345.3h1.3v9h-1.3zM683 345.3h1.3v9h-1.3zM444.2 354.1h1.3v9h-1.3zM450.2 354.1h3.3v9h-3.3zM456.2 354.1h2.3v9h-2.3zM461.2 354.1h1.3v9h-1.3zM463.2 354.1h2.3v9h-2.3zM468.2 354.1h2.3v9h-2.3zM478.2 354.1h2.3v9h-2.3zM481.2 354.1h3.3v9h-3.3zM486.2 354.1h1.3v9h-1.3zM489.2 354.1h1.3v9h-1.3zM491.2 354.1h1.3v9h-1.3zM494.2 354.1h1.3v9h-1.3zM501.1 354.1h1.3v9h-1.3zM508.1 354.1h2.3v9h-2.3zM512.1 354.1h1.3v9h-1.3zM514.1 354.1h1.3v9h-1.3zM525.1 354.1h1.3v9h-1.3zM531.1 354.1h1.3v9h-1.3zM534.1 354.1h3.3v9h-3.3zM541.1 354.1h2.3v9h-2.3zM547.1 354.1h2.3v9h-2.3zM550.1 354.1h1.3v9h-1.3zM552.1 354.1h1.3v9h-1.3zM554.1 354.1h1.3v9h-1.3zM570.1 354.1h1.3v9h-1.3zM572.1 354.1h1.3v9h-1.3zM575.1 354.1h1.3v9h-1.3zM577.1 354.1h2.3v9h-2.3zM581.1 354.1h1.3v9h-1.3zM583.1 354.1h1.3v9h-1.3zM588.1 354.1h1.3v9h-1.3zM591.1 354.1h1.3v9h-1.3zM594.1 354.1h1.3v9h-1.3zM597.1 354.1h1.3v9h-1.3zM605.1 354.1h3.3v9h-3.3zM610.1 354.1h2.3v9h-2.3zM622.1 354.1h2.3v9h-2.3zM631 354.1h1.3v9h-1.3zM634 354.1h1.3v9h-1.3zM641 354.1h2.3v9h-2.3zM654 354.1h1.3v9h-1.3zM656 354.1h1.3v9h-1.3zM660 354.1h1.3v9h-1.3zM664 354.1h4.3v9h-4.3zM671 354.1h1.3v9h-1.3zM675 354.1h1.3v9h-1.3zM678 354.1h1.3v9h-1.3zM680 354.1h1.3v9h-1.3zM684 354.1h1.3v9h-1.3zM443.2 362.8h1.3v9h-1.3zM449.2 362.8h3.3v9h-3.3zM460.2 362.8h1.3v9h-1.3zM473.2 362.8h2.3v9h-2.3zM479.2 362.8h1.3v9h-1.3zM481.2 362.8h5.3v9h-5.3zM489.2 362.8h2.3v9h-2.3zM495.2 362.8h1.3v9h-1.3zM497.2 362.8h1.3v9h-1.3zM501.1 362.8h2.3v9h-2.3zM504.1 362.8h2.3v9h-2.3zM508.1 362.8h1.3v9h-1.3zM512.1 362.8h1.3v9h-1.3zM516.1 362.8h1.3v9h-1.3zM521.1 362.8h2.3v9h-2.3zM527.1 362.8h1.3v9h-1.3zM531.1 362.8h1.3v9h-1.3zM533.1 362.8h1.3v9h-1.3zM541.1 362.8h2.3v9h-2.3zM546.1 362.8h1.3v9h-1.3zM548.1 362.8h1.3v9h-1.3zM552.1 362.8h1.3v9h-1.3zM559.1 362.8h1.3v9h-1.3zM561.1 362.8h2.3v9h-2.3zM564.1 362.8h2.3v9h-2.3zM568.1 362.8h1.3v9h-1.3zM576.1 362.8h1.3v9h-1.3zM581.1 362.8h3.3v9h-3.3zM585.1 362.8h1.3v9h-1.3zM588.1 362.8h1.3v9h-1.3zM593.1 362.8h1.3v9h-1.3zM599.1 362.8h2.3v9h-2.3zM602.1 362.8h6.3v9h-6.3zM619.1 362.8h1.3v9h-1.3zM626 362.8h4.3v9h-4.3zM632 362.8h3.3v9h-3.3zM636 362.8h1.3v9h-1.3zM638 362.8h3.3v9h-3.3zM642 362.8h1.3v9h-1.3zM645 362.8h1.3v9h-1.3zM647 362.8h1.3v9h-1.3zM651 362.8h1.3v9h-1.3zM656 362.8h1.3v9h-1.3zM660 362.8h1.3v9h-1.3zM662 362.8h1.3v9h-1.3zM665 362.8h3.3v9h-3.3zM669 362.8h2.3v9h-2.3zM672 362.8h1.3v9h-1.3zM674 362.8h1.3v9h-1.3zM682 362.8h3.3v9h-3.3zM437.2 371.6h1.3v9h-1.3zM448.2 371.6h1.3v9h-1.3zM452.2 371.6h1.3v9h-1.3zM454.2 371.6h1.3v9h-1.3zM457.2 371.6h1.3v9h-1.3zM459.2 371.6h1.3v9h-1.3zM462.2 371.6h1.3v9h-1.3zM469.2 371.6h1.3v9h-1.3zM473.2 371.6h1.3v9h-1.3zM481.2 371.6h1.3v9h-1.3zM485.2 371.6h1.3v9h-1.3zM490.2 371.6h1.3v9h-1.3zM496.2 371.6h2.3v9h-2.3zM506.1 371.6h2.3v9h-2.3zM513.1 371.6h2.3v9h-2.3zM516.1 371.6h1.3v9h-1.3zM519.1 371.6h1.3v9h-1.3zM522.1 371.6h1.3v9h-1.3zM527.1 371.6h1.3v9h-1.3zM529.1 371.6h1.3v9h-1.3zM535.1 371.6h1.3v9h-1.3zM537.1 371.6h1.3v9h-1.3zM539.1 371.6h1.3v9h-1.3zM544.1 371.6h1.3v9h-1.3zM548.1 371.6h1.3v9h-1.3zM553.1 371.6h1.3v9h-1.3zM556.1 371.6h1.3v9h-1.3zM558.1 371.6h2.3v9h-2.3zM565.1 371.6h1.3v9h-1.3zM572.1 371.6h1.3v9h-1.3zM576.1 371.6h1.3v9h-1.3zM578.1 371.6h1.3v9h-1.3zM583.1 371.6h1.3v9h-1.3zM589.1 371.6h3.3v9h-3.3zM594.1 371.6h1.3v9h-1.3zM596.1 371.6h1.3v9h-1.3zM600.1 371.6h2.3v9h-2.3zM603.1 371.6h1.3v9h-1.3zM605.1 371.6h1.3v9h-1.3zM607.1 371.6h3.3v9h-3.3zM613.1 371.6h1.3v9h-1.3zM622.1 371.6h1.3v9h-1.3zM627 371.6h4.3v9h-4.3zM634 371.6h1.3v9h-1.3zM636 371.6h1.3v9h-1.3zM638 371.6h4.3v9h-4.3zM643 371.6h1.3v9h-1.3zM646 371.6h1.3v9h-1.3zM651 371.6h3.3v9h-3.3zM655 371.6h2.3v9h-2.3zM659 371.6h1.3v9h-1.3zM661 371.6h1.3v9h-1.3zM663 371.6h1.3v9h-1.3zM666 371.6h1.3v9h-1.3zM669 371.6h1.3v9h-1.3zM671 371.6h1.3v9h-1.3zM676 371.6h1.3v9h-1.3zM679 371.6h1.3v9h-1.3zM681 371.6h1.3v9h-1.3zM683 371.6h2.3v9h-2.3zM438.2 380.3h1.3v9h-1.3zM442.2 380.3h1.3v9h-1.3zM447.2 380.3h2.3v9h-2.3zM450.2 380.3h1.3v9h-1.3zM454.2 380.3h1.3v9h-1.3zM460.2 380.3h1.3v9h-1.3zM462.2 380.3h2.3v9h-2.3zM471.2 380.3h1.3v9h-1.3zM476.2 380.3h2.3v9h-2.3zM482.2 380.3h2.3v9h-2.3zM486.2 380.3h2.3v9h-2.3zM493.2 380.3h2.3v9h-2.3zM503.1 380.3h1.3v9h-1.3zM505.1 380.3h2.3v9h-2.3zM508.1 380.3h1.3v9h-1.3zM515.1 380.3h1.3v9h-1.3zM517.1 380.3h1.3v9h-1.3zM526.1 380.3h3.3v9h-3.3zM531.1 380.3h2.3v9h-2.3zM538.1 380.3h1.3v9h-1.3zM541.1 380.3h1.3v9h-1.3zM544.1 380.3h4.3v9h-4.3zM549.1 380.3h1.3v9h-1.3zM551.1 380.3h2.3v9h-2.3zM555.1 380.3h2.3v9h-2.3zM558.1 380.3h1.3v9h-1.3zM565.1 380.3h1.3v9h-1.3zM568.1 380.3h2.3v9h-2.3zM571.1 380.3h1.3v9h-1.3zM579.1 380.3h1.3v9h-1.3zM581.1 380.3h2.3v9h-2.3zM584.1 380.3h1.3v9h-1.3zM590.1 380.3h1.3v9h-1.3zM592.1 380.3h1.3v9h-1.3zM597.1 380.3h1.3v9h-1.3zM599.1 380.3h1.3v9h-1.3zM603.1 380.3h2.3v9h-2.3zM606.1 380.3h2.3v9h-2.3zM612.1 380.3h1.3v9h-1.3zM616.1 380.3h3.3v9h-3.3zM621.1 380.3h2.3v9h-2.3zM624 380.3h1.3v9h-1.3zM629 380.3h1.3v9h-1.3zM633 380.3h1.3v9h-1.3zM639 380.3h2.3v9h-2.3zM642 380.3h1.3v9h-1.3zM645 380.3h3.3v9h-3.3zM654 380.3h1.3v9h-1.3zM659 380.3h1.3v9h-1.3zM665 380.3h1.3v9h-1.3zM677 380.3h1.3v9h-1.3zM440.2 389.1h1.3v9h-1.3zM448.2 389.1h1.3v9h-1.3zM455.2 389.1h1.3v9h-1.3zM459.2 389.1h1.3v9h-1.3zM461.2 389.1h1.3v9h-1.3zM464.2 389.1h2.3v9h-2.3zM470.2 389.1h1.3v9h-1.3zM472.2 389.1h1.3v9h-1.3zM476.2 389.1h1.3v9h-1.3zM480.2 389.1h1.3v9h-1.3zM482.2 389.1h1.3v9h-1.3zM486.2 389.1h1.3v9h-1.3zM490.2 389.1h1.3v9h-1.3zM503.1 389.1h1.3v9h-1.3zM506.1 389.1h1.3v9h-1.3zM511.1 389.1h1.3v9h-1.3zM515.1 389.1h2.3v9h-2.3zM518.1 389.1h1.3v9h-1.3zM521.1 389.1h1.3v9h-1.3zM526.1 389.1h2.3v9h-2.3zM530.1 389.1h1.3v9h-1.3zM532.1 389.1h1.3v9h-1.3zM537.1 389.1h1.3v9h-1.3zM540.1 389.1h1.3v9h-1.3zM546.1 389.1h2.3v9h-2.3zM551.1 389.1h1.3v9h-1.3zM553.1 389.1h1.3v9h-1.3zM561.1 389.1h1.3v9h-1.3zM563.1 389.1h1.3v9h-1.3zM565.1 389.1h3.3v9h-3.3zM571.1 389.1h3.3v9h-3.3zM576.1 389.1h1.3v9h-1.3zM583.1 389.1h1.3v9h-1.3zM586.1 389.1h1.3v9h-1.3zM588.1 389.1h1.3v9h-1.3zM590.1 389.1h1.3v9h-1.3zM593.1 389.1h1.3v9h-1.3zM597.1 389.1h1.3v9h-1.3zM602.1 389.1h1.3v9h-1.3zM604.1 389.1h1.3v9h-1.3zM613.1 389.1h1.3v9h-1.3zM621.1 389.1h1.3v9h-1.3zM625 389.1h1.3v9h-1.3zM628 389.1h1.3v9h-1.3zM632 389.1h2.3v9h-2.3zM637 389.1h2.3v9h-2.3zM643 389.1h1.3v9h-1.3zM646 389.1h2.3v9h-2.3zM649 389.1h4.3v9h-4.3zM657 389.1h1.3v9h-1.3zM669 389.1h1.3v9h-1.3zM672 389.1h1.3v9h-1.3zM675 389.1h2.3v9h-2.3zM446.2 397.8h1.3v9h-1.3zM458.2 397.8h1.3v9h-1.3zM460.2 397.8h1.3v9h-1.3zM466.2 397.8h1.3v9h-1.3zM468.2 397.8h2.3v9h-2.3zM471.2 397.8h2.3v9h-2.3zM474.2 397.8h1.3v9h-1.3zM478.2 397.8h1.3v9h-1.3zM484.2 397.8h3.3v9h-3.3zM501.1 397.8h1.3v9h-1.3zM508.1 397.8h1.3v9h-1.3zM510.1 397.8h1.3v9h-1.3zM512.1 397.8h3.3v9h-3.3zM516.1 397.8h3.3v9h-3.3zM520.1 397.8h2.3v9h-2.3zM524.1 397.8h1.3v9h-1.3zM528.1 397.8h1.3v9h-1.3zM531.1 397.8h2.3v9h-2.3zM534.1 397.8h3.3v9h-3.3zM549.1 397.8h2.3v9h-2.3zM559.1 397.8h1.3v9h-1.3zM561.1 397.8h1.3v9h-1.3zM564.1 397.8h1.3v9h-1.3zM566.1 397.8h1.3v9h-1.3zM577.1 397.8h1.3v9h-1.3zM582.1 397.8h1.3v9h-1.3zM588.1 397.8h1.3v9h-1.3zM591.1 397.8h2.3v9h-2.3zM599.1 397.8h2.3v9h-2.3zM607.1 397.8h1.3v9h-1.3zM610.1 397.8h3.3v9h-3.3zM616.1 397.8h2.3v9h-2.3zM622.1 397.8h1.3v9h-1.3zM627 397.8h1.3v9h-1.3zM636 397.8h1.3v9h-1.3zM641 397.8h1.3v9h-1.3zM646 397.8h1.3v9h-1.3zM651 397.8h1.3v9h-1.3zM653 397.8h1.3v9h-1.3zM663 397.8h1.3v9h-1.3zM669 397.8h1.3v9h-1.3zM674 397.8h1.3v9h-1.3zM681 397.8h1.3v9h-1.3zM684 397.8h1.3v9h-1.3zM439.2 406.6h1.3v9h-1.3zM447.2 406.6h2.3v9h-2.3zM451.2 406.6h1.3v9h-1.3zM454.2 406.6h2.3v9h-2.3zM460.2 406.6h1.3v9h-1.3zM464.2 406.6h1.3v9h-1.3zM474.2 406.6h1.3v9h-1.3zM478.2 406.6h3.3v9h-3.3zM482.2 406.6h1.3v9h-1.3zM499.1 406.6h2.3v9h-2.3zM503.1 406.6h1.3v9h-1.3zM506.1 406.6h1.3v9h-1.3zM510.1 406.6h1.3v9h-1.3zM517.1 406.6h3.3v9h-3.3zM523.1 406.6h1.3v9h-1.3zM526.1 406.6h1.3v9h-1.3zM529.1 406.6h1.3v9h-1.3zM533.1 406.6h1.3v9h-1.3zM538.1 406.6h1.3v9h-1.3zM540.1 406.6h1.3v9h-1.3zM542.1 406.6h4.3v9h-4.3zM550.1 406.6h1.3v9h-1.3zM553.1 406.6h1.3v9h-1.3zM558.1 406.6h1.3v9h-1.3zM563.1 406.6h2.3v9h-2.3zM566.1 406.6h1.3v9h-1.3zM578.1 406.6h2.3v9h-2.3zM581.1 406.6h1.3v9h-1.3zM584.1 406.6h1.3v9h-1.3zM593.1 406.6h1.3v9h-1.3zM598.1 406.6h1.3v9h-1.3zM601.1 406.6h1.3v9h-1.3zM603.1 406.6h3.3v9h-3.3zM608.1 406.6h1.3v9h-1.3zM611.1 406.6h1.3v9h-1.3zM614.1 406.6h2.3v9h-2.3zM619.1 406.6h1.3v9h-1.3zM623 406.6h1.3v9h-1.3zM625 406.6h1.3v9h-1.3zM631 406.6h1.3v9h-1.3zM639 406.6h1.3v9h-1.3zM641 406.6h4.3v9h-4.3zM646 406.6h1.3v9h-1.3zM648 406.6h2.3v9h-2.3zM657 406.6h1.3v9h-1.3zM660 406.6h1.3v9h-1.3zM663 406.6h1.3v9h-1.3zM666 406.6h1.3v9h-1.3zM675 406.6h1.3v9h-1.3zM679 406.6h2.3v9h-2.3zM683 406.6h1.3v9h-1.3zM437.2 415.3h1.3v9h-1.3zM444.2 415.3h2.3v9h-2.3zM447.2 415.3h1.3v9h-1.3zM449.2 415.3h1.3v9h-1.3zM451.2 415.3h1.3v9h-1.3zM457.2 415.3h2.3v9h-2.3zM464.2 415.3h1.3v9h-1.3zM467.2 415.3h1.3v9h-1.3zM470.2 415.3h1.3v9h-1.3zM475.2 415.3h1.3v9h-1.3zM478.2 415.3h1.3v9h-1.3zM492.2 415.3h2.3v9h-2.3zM497.2 415.3h1.3v9h-1.3zM502.1 415.3h1.3v9h-1.3zM504.1 415.3h2.3v9h-2.3zM507.1 415.3h3.3v9h-3.3zM516.1 415.3h2.3v9h-2.3zM520.1 415.3h1.3v9h-1.3zM524.1 415.3h1.3v9h-1.3zM537.1 415.3h1.3v9h-1.3zM539.1 415.3h2.3v9h-2.3zM552.1 415.3h1.3v9h-1.3zM557.1 415.3h3.3v9h-3.3zM563.1 415.3h1.3v9h-1.3zM567.1 415.3h1.3v9h-1.3zM570.1 415.3h1.3v9h-1.3zM573.1 415.3h2.3v9h-2.3zM591.1 415.3h2.3v9h-2.3zM602.1 415.3h2.3v9h-2.3zM607.1 415.3h3.3v9h-3.3zM615.1 415.3h4.3v9h-4.3zM620.1 415.3h1.3v9h-1.3zM622.1 415.3h1.3v9h-1.3zM626 415.3h2.3v9h-2.3zM629 415.3h2.3v9h-2.3zM633 415.3h1.3v9h-1.3zM635 415.3h2.3v9h-2.3zM638 415.3h1.3v9h-1.3zM642 415.3h1.3v9h-1.3zM647 415.3h1.3v9h-1.3zM653 415.3h1.3v9h-1.3zM656 415.3h1.3v9h-1.3zM659 415.3h1.3v9h-1.3zM668 415.3h2.3v9h-2.3zM672 415.3h1.3v9h-1.3zM675 415.3h1.3v9h-1.3zM682 415.3h2.3v9h-2.3zM444.2 424.1h1.3v9h-1.3zM446.2 424.1h1.3v9h-1.3zM449.2 424.1h1.3v9h-1.3zM453.2 424.1h1.3v9h-1.3zM456.2 424.1h1.3v9h-1.3zM459.2 424.1h4.3v9h-4.3zM464.2 424.1h2.3v9h-2.3zM467.2 424.1h2.3v9h-2.3zM472.2 424.1h3.3v9h-3.3zM476.2 424.1h1.3v9h-1.3zM488.2 424.1h2.3v9h-2.3zM502.1 424.1h1.3v9h-1.3zM506.1 424.1h1.3v9h-1.3zM513.1 424.1h1.3v9h-1.3zM517.1 424.1h1.3v9h-1.3zM522.1 424.1h1.3v9h-1.3zM529.1 424.1h1.3v9h-1.3zM531.1 424.1h1.3v9h-1.3zM542.1 424.1h4.3v9h-4.3zM547.1 424.1h1.3v9h-1.3zM557.1 424.1h1.3v9h-1.3zM564.1 424.1h1.3v9h-1.3zM568.1 424.1h2.3v9h-2.3zM571.1 424.1h1.3v9h-1.3zM573.1 424.1h1.3v9h-1.3zM575.1 424.1h2.3v9h-2.3zM579.1 424.1h1.3v9h-1.3zM585.1 424.1h1.3v9h-1.3zM589.1 424.1h1.3v9h-1.3zM593.1 424.1h1.3v9h-1.3zM597.1 424.1h1.3v9h-1.3zM601.1 424.1h1.3v9h-1.3zM610.1 424.1h1.3v9h-1.3zM613.1 424.1h1.3v9h-1.3zM615.1 424.1h1.3v9h-1.3zM619.1 424.1h1.3v9h-1.3zM621.1 424.1h3.3v9h-3.3zM630 424.1h1.3v9h-1.3zM632 424.1h1.3v9h-1.3zM636 424.1h2.3v9h-2.3zM643 424.1h1.3v9h-1.3zM648 424.1h1.3v9h-1.3zM651 424.1h1.3v9h-1.3zM661 424.1h1.3v9h-1.3zM663 424.1h1.3v9h-1.3zM666 424.1h1.3v9h-1.3z" fill="rgb(31, 24, 52)"/><path d="M565.1 284.1h15.3v9h-15.3zM582.1 284.1h1.3v9h-1.3zM435.2 292.8h2.3v9h-2.3zM438.2 292.8h1.3v9h-1.3zM440.2 292.8h1.3v9h-1.3zM452.2 292.8h2.3v9h-2.3zM455.2 292.8h2.3v9h-2.3zM460.2 292.8h1.3v9h-1.3zM465.2 292.8h1.3v9h-1.3zM467.2 292.8h1.3v9h-1.3zM469.2 292.8h1.3v9h-1.3zM474.2 292.8h1.3v9h-1.3zM476.2 292.8h3.3v9h-3.3zM488.2 292.8h1.3v9h-1.3zM490.2 292.8h1.3v9h-1.3zM494.2 292.8h1.3v9h-1.3zM496.2 292.8h1.3v9h-1.3zM506.1 292.8h1.3v9h-1.3zM509.1 292.8h2.3v9h-2.3zM519.1 292.8h1.3v9h-1.3zM524.1 292.8h1.3v9h-1.3zM536.1 292.8h1.3v9h-1.3zM544.1 292.8h1.3v9h-1.3zM553.1 292.8h1.3v9h-1.3zM559.1 292.8h1.3v9h-1.3zM563.1 292.8h1.3v9h-1.3zM565.1 292.8h1.3v9h-1.3zM575.1 292.8h1.3v9h-1.3zM577.1 292.8h2.3v9h-2.3zM592.1 292.8h1.3v9h-1.3zM610.1 292.8h1.3v9h-1.3zM615.1 292.8h1.3v9h-1.3zM619.1 292.8h1.3v9h-1.3zM621.1 292.8h1.3v9h-1.3zM628 292.8h1.3v9h-1.3zM630 292.8h1.3v9h-1.3zM633 292.8h1.3v9h-1.3zM635 292.8h1.3v9h-1.3zM637 292.8h1.3v9h-1.3zM648 292.8h1.3v9h-1.3zM663 292.8h1.3v9h-1.3zM671 292.8h1.3v9h-1.3zM684 292.8h1.3v9h-1.3zM442.2 301.6h1.3v9h-1.3zM455.2 301.6h1.3v9h-1.3zM457.2 301.6h1.3v9h-1.3zM462.2 301.6h2.3v9h-2.3zM479.2 301.6h2.3v9h-2.3zM486.2 301.6h1.3v9h-1.3zM491.2 301.6h1.3v9h-1.3zM495.2 301.6h1.3v9h-1.3zM500.1 301.6h1.3v9h-1.3zM513.1 301.6h1.3v9h-1.3zM515.1 301.6h1.3v9h-1.3zM526.1 301.6h2.3v9h-2.3zM531.1 301.6h2.3v9h-2.3zM534.1 301.6h1.3v9h-1.3zM541.1 301.6h1.3v9h-1.3zM552.1 301.6h1.3v9h-1.3zM554.1 301.6h1.3v9h-1.3zM558.1 301.6h1.3v9h-1.3zM563.1 301.6h1.3v9h-1.3zM566.1 301.6h2.3v9h-2.3zM572.1 301.6h1.3v9h-1.3zM575.1 301.6h1.3v9h-1.3zM579.1 301.6h1.3v9h-1.3zM585.1 301.6h1.3v9h-1.3zM591.1 301.6h2.3v9h-2.3zM599.1 301.6h1.3v9h-1.3zM601.1 301.6h1.3v9h-1.3zM606.1 301.6h1.3v9h-1.3zM610.1 301.6h3.3v9h-3.3zM615.1 301.6h1.3v9h-1.3zM623 301.6h1.3v9h-1.3zM633 301.6h1.3v9h-1.3zM645 301.6h1.3v9h-1.3zM656 301.6h1.3v9h-1.3zM660 301.6h1.3v9h-1.3zM666 301.6h2.3v9h-2.3zM678 301.6h1.3v9h-1.3zM680 301.6h1.3v9h-1.3zM683 301.6h2.3v9h-2.3zM453.2 310.3h1.3v9h-1.3zM455.2 310.3h1.3v9h-1.3zM463.2 310.3h1.3v9h-1.3zM472.2 310.3h1.3v9h-1.3zM490.2 310.3h1.3v9h-1.3zM495.2 310.3h3.3v9h-3.3zM504.1 310.3h1.3v9h-1.3zM535.1 310.3h1.3v9h-1.3zM574.1 310.3h1.3v9h-1.3zM580.1 310.3h1.3v9h-1.3zM602.1 310.3h1.3v9h-1.3zM605.1 310.3h1.3v9h-1.3zM609.1 310.3h2.3v9h-2.3zM620.1 310.3h1.3v9h-1.3zM622.1 310.3h2.3v9h-2.3zM625 310.3h2.3v9h-2.3zM640 310.3h1.3v9h-1.3zM678 310.3h1.3v9h-1.3zM683 310.3h1.3v9h-1.3zM444.2 319.1h2.3v9h-2.3zM448.2 319.1h1.3v9h-1.3zM458.2 319.1h1.3v9h-1.3zM461.2 319.1h1.3v9h-1.3zM463.2 319.1h1.3v9h-1.3zM466.2 319.1h1.3v9h-1.3zM469.2 319.1h2.3v9h-2.3zM478.2 319.1h1.3v9h-1.3zM482.2 319.1h1.3v9h-1.3zM514.1 319.1h1.3v9h-1.3zM516.1 319.1h1.3v9h-1.3zM519.1 319.1h1.3v9h-1.3zM521.1 319.1h2.3v9h-2.3zM528.1 319.1h1.3v9h-1.3zM533.1 319.1h1.3v9h-1.3zM537.1 319.1h1.3v9h-1.3zM540.1 319.1h2.3v9h-2.3zM555.1 319.1h1.3v9h-1.3zM568.1 319.1h1.3v9h-1.3zM579.1 319.1h1.3v9h-1.3zM614.1 319.1h1.3v9h-1.3zM624 319.1h1.3v9h-1.3zM635 319.1h1.3v9h-1.3zM638 319.1h2.3v9h-2.3zM645 319.1h1.3v9h-1.3zM658 319.1h1.3v9h-1.3zM667 319.1h1.3v9h-1.3zM669 319.1h1.3v9h-1.3zM683 319.1h1.3v9h-1.3zM444.2 327.8h1.3v9h-1.3zM446.2 327.8h1.3v9h-1.3zM465.2 327.8h2.3v9h-2.3zM471.2 327.8h1.3v9h-1.3zM484.2 327.8h1.3v9h-1.3zM495.2 327.8h1.3v9h-1.3zM501.1 327.8h1.3v9h-1.3zM508.1 327.8h1.3v9h-1.3zM512.1 327.8h1.3v9h-1.3zM530.1 327.8h1.3v9h-1.3zM539.1 327.8h2.3v9h-2.3zM547.1 327.8h1.3v9h-1.3zM555.1 327.8h1.3v9h-1.3zM557.1 327.8h2.3v9h-2.3zM567.1 327.8h1.3v9h-1.3zM579.1 327.8h1.3v9h-1.3zM587.1 327.8h1.3v9h-1.3zM596.1 327.8h1.3v9h-1.3zM607.1 327.8h1.3v9h-1.3zM609.1 327.8h2.3v9h-2.3zM617.1 327.8h1.3v9h-1.3zM641 327.8h1.3v9h-1.3zM647 327.8h1.3v9h-1.3zM651 327.8h1.3v9h-1.3zM659 327.8h1.3v9h-1.3zM679 327.8h1.3v9h-1.3zM682 327.8h1.3v9h-1.3zM457.2 336.6h1.3v9h-1.3zM466.2 336.6h1.3v9h-1.3zM474.2 336.6h1.3v9h-1.3zM481.2 336.6h2.3v9h-2.3zM486.2 336.6h1.3v9h-1.3zM494.2 336.6h1.3v9h-1.3zM496.2 336.6h1.3v9h-1.3zM503.1 336.6h1.3v9h-1.3zM506.1 336.6h1.3v9h-1.3zM509.1 336.6h1.3v9h-1.3zM512.1 336.6h1.3v9h-1.3zM519.1 336.6h1.3v9h-1.3zM534.1 336.6h1.3v9h-1.3zM543.1 336.6h1.3v9h-1.3zM547.1 336.6h1.3v9h-1.3zM552.1 336.6h1.3v9h-1.3zM554.1 336.6h1.3v9h-1.3zM556.1 336.6h1.3v9h-1.3zM559.1 336.6h1.3v9h-1.3zM573.1 336.6h1.3v9h-1.3zM595.1 336.6h1.3v9h-1.3zM606.1 336.6h1.3v9h-1.3zM615.1 336.6h1.3v9h-1.3zM619.1 336.6h1.3v9h-1.3zM622.1 336.6h1.3v9h-1.3zM639 336.6h1.3v9h-1.3zM648 336.6h1.3v9h-1.3zM652 336.6h1.3v9h-1.3zM657 336.6h1.3v9h-1.3zM666 336.6h1.3v9h-1.3zM673 336.6h1.3v9h-1.3zM679 336.6h1.3v9h-1.3zM454.2 345.3h1.3v9h-1.3zM459.2 345.3h1.3v9h-1.3zM462.2 345.3h1.3v9h-1.3zM467.2 345.3h1.3v9h-1.3zM475.2 345.3h1.3v9h-1.3zM480.2 345.3h1.3v9h-1.3zM483.2 345.3h1.3v9h-1.3zM489.2 345.3h2.3v9h-2.3zM517.1 345.3h2.3v9h-2.3zM521.1 345.3h1.3v9h-1.3zM535.1 345.3h1.3v9h-1.3zM538.1 345.3h1.3v9h-1.3zM540.1 345.3h1.3v9h-1.3zM551.1 345.3h1.3v9h-1.3zM565.1 345.3h1.3v9h-1.3zM574.1 345.3h2.3v9h-2.3zM579.1 345.3h1.3v9h-1.3zM587.1 345.3h1.3v9h-1.3zM598.1 345.3h1.3v9h-1.3zM600.1 345.3h1.3v9h-1.3zM609.1 345.3h1.3v9h-1.3zM623 345.3h1.3v9h-1.3zM634 345.3h1.3v9h-1.3zM636 345.3h1.3v9h-1.3zM639 345.3h1.3v9h-1.3zM643 345.3h1.3v9h-1.3zM649 345.3h1.3v9h-1.3zM654 345.3h1.3v9h-1.3zM661 345.3h1.3v9h-1.3zM670 345.3h1.3v9h-1.3zM674 345.3h1.3v9h-1.3zM680 345.3h1.3v9h-1.3zM445.2 354.1h1.3v9h-1.3zM484.2 354.1h1.3v9h-1.3zM487.2 354.1h1.3v9h-1.3zM492.2 354.1h1.3v9h-1.3zM496.2 354.1h1.3v9h-1.3zM500.1 354.1h1.3v9h-1.3zM505.1 354.1h1.3v9h-1.3zM517.1 354.1h1.3v9h-1.3zM519.1 354.1h1.3v9h-1.3zM521.1 354.1h1.3v9h-1.3zM527.1 354.1h2.3v9h-2.3zM537.1 354.1h1.3v9h-1.3zM557.1 354.1h1.3v9h-1.3zM562.1 354.1h1.3v9h-1.3zM564.1 354.1h1.3v9h-1.3zM573.1 354.1h2.3v9h-2.3zM587.1 354.1h1.3v9h-1.3zM593.1 354.1h1.3v9h-1.3zM599.1 354.1h1.3v9h-1.3zM617.1 354.1h1.3v9h-1.3zM624 354.1h1.3v9h-1.3zM629 354.1h1.3v9h-1.3zM441.2 362.8h1.3v9h-1.3zM446.2 362.8h1.3v9h-1.3zM448.2 362.8h1.3v9h-1.3zM454.2 362.8h3.3v9h-3.3zM458.2 362.8h1.3v9h-1.3zM465.2 362.8h1.3v9h-1.3zM467.2 362.8h1.3v9h-1.3zM475.2 362.8h2.3v9h-2.3zM478.2 362.8h1.3v9h-1.3zM480.2 362.8h1.3v9h-1.3zM486.2 362.8h2.3v9h-2.3zM494.2 362.8h1.3v9h-1.3zM506.1 362.8h2.3v9h-2.3zM513.1 362.8h2.3v9h-2.3zM519.1 362.8h1.3v9h-1.3zM525.1 362.8h1.3v9h-1.3zM530.1 362.8h1.3v9h-1.3zM532.1 362.8h1.3v9h-1.3zM535.1 362.8h1.3v9h-1.3zM538.1 362.8h3.3v9h-3.3zM545.1 362.8h1.3v9h-1.3zM547.1 362.8h1.3v9h-1.3zM549.1 362.8h1.3v9h-1.3zM551.1 362.8h1.3v9h-1.3zM553.1 362.8h2.3v9h-2.3zM556.1 362.8h3.3v9h-3.3zM560.1 362.8h1.3v9h-1.3zM563.1 362.8h1.3v9h-1.3zM569.1 362.8h1.3v9h-1.3zM571.1 362.8h1.3v9h-1.3zM573.1 362.8h3.3v9h-3.3zM577.1 362.8h2.3v9h-2.3zM580.1 362.8h1.3v9h-1.3zM587.1 362.8h1.3v9h-1.3zM591.1 362.8h1.3v9h-1.3zM595.1 362.8h4.3v9h-4.3zM601.1 362.8h1.3v9h-1.3zM609.1 362.8h1.3v9h-1.3zM614.1 362.8h5.3v9h-5.3zM620.1 362.8h4.3v9h-4.3zM625 362.8h1.3v9h-1.3zM630 362.8h2.3v9h-2.3zM641 362.8h1.3v9h-1.3zM646 362.8h1.3v9h-1.3zM648 362.8h1.3v9h-1.3zM650 362.8h1.3v9h-1.3zM652 362.8h2.3v9h-2.3zM655 362.8h1.3v9h-1.3zM657 362.8h2.3v9h-2.3zM664 362.8h1.3v9h-1.3zM668 362.8h1.3v9h-1.3zM671 362.8h1.3v9h-1.3zM675 362.8h6.3v9h-6.3zM442.2 371.6h3.3v9h-3.3zM455.2 371.6h1.3v9h-1.3zM461.2 371.6h1.3v9h-1.3zM464.2 371.6h2.3v9h-2.3zM474.2 371.6h1.3v9h-1.3zM479.2 371.6h1.3v9h-1.3zM509.1 371.6h1.3v9h-1.3zM524.1 371.6h1.3v9h-1.3zM560.1 371.6h1.3v9h-1.3zM563.1 371.6h1.3v9h-1.3zM570.1 371.6h1.3v9h-1.3zM573.1 371.6h1.3v9h-1.3zM581.1 371.6h1.3v9h-1.3zM587.1 371.6h1.3v9h-1.3zM593.1 371.6h1.3v9h-1.3zM621.1 371.6h1.3v9h-1.3zM625 371.6h2.3v9h-2.3zM665 371.6h1.3v9h-1.3zM668 371.6h1.3v9h-1.3zM675 371.6h1.3v9h-1.3zM455.2 380.3h1.3v9h-1.3zM502.1 380.3h1.3v9h-1.3zM511.1 380.3h1.3v9h-1.3zM516.1 380.3h1.3v9h-1.3zM518.1 380.3h1.3v9h-1.3zM529.1 380.3h1.3v9h-1.3zM535.1 380.3h1.3v9h-1.3zM542.1 380.3h1.3v9h-1.3zM577.1 380.3h1.3v9h-1.3zM585.1 380.3h1.3v9h-1.3zM593.1 380.3h1.3v9h-1.3zM615.1 380.3h1.3v9h-1.3zM638 380.3h1.3v9h-1.3zM651 380.3h2.3v9h-2.3zM657 380.3h1.3v9h-1.3zM670 380.3h1.3v9h-1.3zM439.2 389.1h1.3v9h-1.3zM451.2 389.1h1.3v9h-1.3zM479.2 389.1h1.3v9h-1.3zM487.2 389.1h2.3v9h-2.3zM495.2 389.1h1.3v9h-1.3zM507.1 389.1h2.3v9h-2.3zM510.1 389.1h1.3v9h-1.3zM514.1 389.1h1.3v9h-1.3zM525.1 389.1h1.3v9h-1.3zM535.1 389.1h1.3v9h-1.3zM538.1 389.1h1.3v9h-1.3zM542.1 389.1h1.3v9h-1.3zM545.1 389.1h1.3v9h-1.3zM580.1 389.1h1.3v9h-1.3zM584.1 389.1h1.3v9h-1.3zM589.1 389.1h1.3v9h-1.3zM592.1 389.1h1.3v9h-1.3zM599.1 389.1h1.3v9h-1.3zM605.1 389.1h4.3v9h-4.3zM611.1 389.1h1.3v9h-1.3zM615.1 389.1h1.3v9h-1.3zM619.1 389.1h1.3v9h-1.3zM641 389.1h2.3v9h-2.3zM645 389.1h1.3v9h-1.3zM658 389.1h2.3v9h-2.3zM664 389.1h1.3v9h-1.3zM673 389.1h1.3v9h-1.3zM678 389.1h1.3v9h-1.3zM684 389.1h1.3v9h-1.3zM453.2 397.8h1.3v9h-1.3zM457.2 397.8h1.3v9h-1.3zM476.2 397.8h1.3v9h-1.3zM480.2 397.8h1.3v9h-1.3zM487.2 397.8h1.3v9h-1.3zM489.2 397.8h1.3v9h-1.3zM492.2 397.8h1.3v9h-1.3zM499.1 397.8h1.3v9h-1.3zM515.1 397.8h1.3v9h-1.3zM525.1 397.8h1.3v9h-1.3zM537.1 397.8h1.3v9h-1.3zM541.1 397.8h1.3v9h-1.3zM555.1 397.8h1.3v9h-1.3zM567.1 397.8h1.3v9h-1.3zM602.1 397.8h1.3v9h-1.3zM618.1 397.8h1.3v9h-1.3zM634 397.8h1.3v9h-1.3zM637 397.8h1.3v9h-1.3zM655 397.8h1.3v9h-1.3zM665 397.8h1.3v9h-1.3zM667 397.8h1.3v9h-1.3zM676 397.8h1.3v9h-1.3zM678 397.8h1.3v9h-1.3zM680 397.8h1.3v9h-1.3zM682 397.8h1.3v9h-1.3zM440.2 406.6h1.3v9h-1.3zM443.2 406.6h1.3v9h-1.3zM449.2 406.6h1.3v9h-1.3zM452.2 406.6h2.3v9h-2.3zM463.2 406.6h1.3v9h-1.3zM468.2 406.6h1.3v9h-1.3zM471.2 406.6h1.3v9h-1.3zM494.2 406.6h1.3v9h-1.3zM502.1 406.6h1.3v9h-1.3zM521.1 406.6h1.3v9h-1.3zM535.1 406.6h2.3v9h-2.3zM548.1 406.6h1.3v9h-1.3zM551.1 406.6h1.3v9h-1.3zM559.1 406.6h1.3v9h-1.3zM567.1 406.6h1.3v9h-1.3zM571.1 406.6h1.3v9h-1.3zM573.1 406.6h1.3v9h-1.3zM587.1 406.6h1.3v9h-1.3zM597.1 406.6h1.3v9h-1.3zM600.1 406.6h1.3v9h-1.3zM612.1 406.6h1.3v9h-1.3zM618.1 406.6h1.3v9h-1.3zM620.1 406.6h1.3v9h-1.3zM653 406.6h1.3v9h-1.3zM661 406.6h1.3v9h-1.3zM676 406.6h1.3v9h-1.3zM456.2 415.3h1.3v9h-1.3zM487.2 415.3h2.3v9h-2.3zM490.2 415.3h1.3v9h-1.3zM495.2 415.3h2.3v9h-2.3zM498.1 415.3h1.3v9h-1.3zM501.1 415.3h1.3v9h-1.3zM503.1 415.3h1.3v9h-1.3zM513.1 415.3h1.3v9h-1.3zM521.1 415.3h1.3v9h-1.3zM528.1 415.3h1.3v9h-1.3zM534.1 415.3h3.3v9h-3.3zM542.1 415.3h1.3v9h-1.3zM544.1 415.3h1.3v9h-1.3zM561.1 415.3h1.3v9h-1.3zM579.1 415.3h1.3v9h-1.3zM584.1 415.3h1.3v9h-1.3zM587.1 415.3h1.3v9h-1.3zM590.1 415.3h1.3v9h-1.3zM597.1 415.3h2.3v9h-2.3zM600.1 415.3h1.3v9h-1.3zM613.1 415.3h1.3v9h-1.3zM631 415.3h1.3v9h-1.3zM640 415.3h1.3v9h-1.3zM655 415.3h1.3v9h-1.3zM665 415.3h1.3v9h-1.3zM671 415.3h1.3v9h-1.3zM673 415.3h1.3v9h-1.3zM441.2 424.1h1.3v9h-1.3zM466.2 424.1h1.3v9h-1.3zM471.2 424.1h1.3v9h-1.3zM504.1 424.1h1.3v9h-1.3zM511.1 424.1h1.3v9h-1.3zM515.1 424.1h1.3v9h-1.3zM518.1 424.1h2.3v9h-2.3zM540.1 424.1h1.3v9h-1.3zM553.1 424.1h2.3v9h-2.3zM560.1 424.1h1.3v9h-1.3zM565.1 424.1h1.3v9h-1.3zM572.1 424.1h1.3v9h-1.3zM580.1 424.1h1.3v9h-1.3zM582.1 424.1h1.3v9h-1.3zM595.1 424.1h1.3v9h-1.3zM629 424.1h1.3v9h-1.3zM631 424.1h1.3v9h-1.3zM633 424.1h1.3v9h-1.3zM640 424.1h1.3v9h-1.3zM652 424.1h2.3v9h-2.3zM657 424.1h1.3v9h-1.3zM664 424.1h2.3v9h-2.3zM674 424.1h1.3v9h-1.3zM676 424.1h1.3v9h-1.3z" fill="rgb(22, 17, 33)"/><path d="M580.1 284.1h2.3v9h-2.3zM583.1 284.1h18.3v9h-18.3zM602.1 284.1h1.3v9h-1.3zM606.1 284.1h1.3v9h-1.3zM497.2 292.8h2.3v9h-2.3zM512.1 292.8h1.3v9h-1.3zM523.1 292.8h1.3v9h-1.3zM581.1 292.8h1.3v9h-1.3zM673 292.8h1.3v9h-1.3zM454.2 301.6h1.3v9h-1.3zM481.2 301.6h1.3v9h-1.3zM511.1 301.6h1.3v9h-1.3zM535.1 301.6h1.3v9h-1.3zM543.1 301.6h1.3v9h-1.3zM583.1 301.6h1.3v9h-1.3zM598.1 301.6h1.3v9h-1.3zM630 301.6h2.3v9h-2.3zM648 301.6h1.3v9h-1.3zM480.2 310.3h1.3v9h-1.3zM513.1 310.3h1.3v9h-1.3zM648 310.3h1.3v9h-1.3zM449.2 319.1h1.3v9h-1.3zM530.1 319.1h1.3v9h-1.3zM520.1 327.8h1.3v9h-1.3zM642 327.8h1.3v9h-1.3zM644 327.8h1.3v9h-1.3zM511.1 336.6h1.3v9h-1.3zM500.1 345.3h1.3v9h-1.3zM541.1 345.3h1.3v9h-1.3zM637 345.3h1.3v9h-1.3zM480.2 354.1h1.3v9h-1.3zM492.2 362.8h1.3v9h-1.3zM503.1 362.8h1.3v9h-1.3zM524.1 362.8h1.3v9h-1.3zM526.1 362.8h1.3v9h-1.3zM534.1 362.8h1.3v9h-1.3zM537.1 362.8h1.3v9h-1.3zM566.1 362.8h1.3v9h-1.3zM584.1 362.8h1.3v9h-1.3zM608.1 362.8h1.3v9h-1.3zM610.1 362.8h1.3v9h-1.3zM613.1 362.8h1.3v9h-1.3zM637 362.8h1.3v9h-1.3zM643 362.8h1.3v9h-1.3zM654 362.8h1.3v9h-1.3zM661 362.8h1.3v9h-1.3zM663 362.8h1.3v9h-1.3zM673 362.8h1.3v9h-1.3zM681 362.8h1.3v9h-1.3zM664 371.6h1.3v9h-1.3zM677 371.6h1.3v9h-1.3zM440.2 380.3h1.3v9h-1.3zM485.2 380.3h1.3v9h-1.3zM554.1 380.3h1.3v9h-1.3zM655 380.3h1.3v9h-1.3zM477.2 389.1h1.3v9h-1.3zM505.1 389.1h1.3v9h-1.3zM616.1 389.1h1.3v9h-1.3zM529.1 397.8h1.3v9h-1.3zM542.1 397.8h1.3v9h-1.3zM563.1 397.8h1.3v9h-1.3zM623 397.8h1.3v9h-1.3zM662 397.8h1.3v9h-1.3zM481.2 406.6h1.3v9h-1.3zM554.1 406.6h1.3v9h-1.3zM572.1 406.6h1.3v9h-1.3zM607.1 406.6h1.3v9h-1.3zM659 406.6h1.3v9h-1.3zM668 406.6h1.3v9h-1.3zM643 415.3h1.3v9h-1.3zM525.1 424.1h1.3v9h-1.3zM618.1 424.1h1.3v9h-1.3z" fill="rgb(14, 10, 14)"/><path d="M601.1 284.1h1.3v9h-1.3zM603.1 284.1h3.3v9h-3.3zM607.1 284.1h12.3v9h-12.3zM622.1 284.1h2.3v9h-2.3zM596.1 292.8h1.3v9h-1.3zM598.1 292.8h1.3v9h-1.3zM614.1 292.8h1.3v9h-1.3zM525.1 301.6h1.3v9h-1.3zM568.1 301.6h1.3v9h-1.3zM595.1 310.3h1.3v9h-1.3zM511.1 319.1h1.3v9h-1.3zM560.1 319.1h1.3v9h-1.3zM640 319.1h1.3v9h-1.3zM653 319.1h1.3v9h-1.3zM487.2 327.8h1.3v9h-1.3zM494.2 327.8h1.3v9h-1.3zM602.1 327.8h1.3v9h-1.3zM656 327.8h1.3v9h-1.3zM664 327.8h1.3v9h-1.3zM671 327.8h1.3v9h-1.3zM560.1 336.6h1.3v9h-1.3zM610.1 336.6h1.3v9h-1.3zM633 336.6h1.3v9h-1.3zM645 336.6h1.3v9h-1.3zM683 336.6h2.3v9h-2.3zM482.2 345.3h1.3v9h-1.3zM487.2 345.3h1.3v9h-1.3zM523.1 345.3h1.3v9h-1.3zM588.1 345.3h1.3v9h-1.3zM628 345.3h1.3v9h-1.3zM640 345.3h1.3v9h-1.3zM684 345.3h1.3v9h-1.3zM459.2 354.1h1.3v9h-1.3zM465.2 354.1h1.3v9h-1.3zM655 354.1h1.3v9h-1.3zM674 354.1h1.3v9h-1.3zM447.2 362.8h1.3v9h-1.3zM466.2 362.8h1.3v9h-1.3zM470.2 362.8h1.3v9h-1.3zM498.1 362.8h1.3v9h-1.3zM536.1 362.8h1.3v9h-1.3zM567.1 362.8h1.3v9h-1.3zM460.2 371.6h1.3v9h-1.3zM468.2 371.6h1.3v9h-1.3zM672 371.6h1.3v9h-1.3zM470.2 380.3h1.3v9h-1.3zM480.2 380.3h1.3v9h-1.3zM445.2 389.1h2.3v9h-2.3zM454.2 389.1h1.3v9h-1.3zM481.2 389.1h1.3v9h-1.3zM492.2 389.1h1.3v9h-1.3zM598.1 389.1h1.3v9h-1.3zM544.1 397.8h1.3v9h-1.3zM572.1 397.8h1.3v9h-1.3zM645 397.8h1.3v9h-1.3zM672 397.8h1.3v9h-1.3zM507.1 406.6h1.3v9h-1.3zM527.1 406.6h1.3v9h-1.3zM450.2 415.3h1.3v9h-1.3zM546.1 415.3h1.3v9h-1.3zM667 415.3h1.3v9h-1.3zM436.2 424.1h1.3v9h-1.3zM505.1 424.1h1.3v9h-1.3zM536.1 424.1h1.3v9h-1.3zM608.1 424.1h1.3v9h-1.3zM654 424.1h1.3v9h-1.3z" fill="rgb(31, 13, 16)"/><path d="M619.1 284.1h3.3v9h-3.3zM624 284.1h10.3v9h-10.3zM635 284.1h1.3v9h-1.3zM459.2 292.8h1.3v9h-1.3zM549.1 292.8h1.3v9h-1.3zM583.1 292.8h2.3v9h-2.3zM602.1 292.8h1.3v9h-1.3zM613.1 292.8h1.3v9h-1.3zM642 292.8h2.3v9h-2.3zM649 292.8h1.3v9h-1.3zM667 292.8h1.3v9h-1.3zM682 292.8h2.3v9h-2.3zM444.2 301.6h1.3v9h-1.3zM446.2 301.6h1.3v9h-1.3zM507.1 301.6h1.3v9h-1.3zM556.1 301.6h2.3v9h-2.3zM600.1 301.6h1.3v9h-1.3zM663 301.6h1.3v9h-1.3zM669 301.6h1.3v9h-1.3zM673 301.6h1.3v9h-1.3zM675 301.6h1.3v9h-1.3zM477.2 310.3h1.3v9h-1.3zM498.1 310.3h1.3v9h-1.3zM512.1 310.3h1.3v9h-1.3zM530.1 310.3h1.3v9h-1.3zM556.1 310.3h1.3v9h-1.3zM581.1 310.3h1.3v9h-1.3zM583.1 310.3h1.3v9h-1.3zM596.1 310.3h1.3v9h-1.3zM607.1 310.3h1.3v9h-1.3zM665 310.3h1.3v9h-1.3zM679 310.3h1.3v9h-1.3zM483.2 319.1h1.3v9h-1.3zM529.1 319.1h1.3v9h-1.3zM557.1 319.1h1.3v9h-1.3zM569.1 319.1h1.3v9h-1.3zM665 319.1h1.3v9h-1.3zM675 319.1h1.3v9h-1.3zM535.1 327.8h1.3v9h-1.3zM544.1 327.8h1.3v9h-1.3zM566.1 327.8h1.3v9h-1.3zM578.1 327.8h1.3v9h-1.3zM593.1 327.8h1.3v9h-1.3zM600.1 327.8h1.3v9h-1.3zM645 327.8h2.3v9h-2.3zM668 327.8h1.3v9h-1.3zM478.2 336.6h1.3v9h-1.3zM532.1 336.6h1.3v9h-1.3zM535.1 336.6h1.3v9h-1.3zM540.1 336.6h1.3v9h-1.3zM568.1 336.6h2.3v9h-2.3zM614.1 336.6h1.3v9h-1.3zM630 336.6h1.3v9h-1.3zM644 336.6h1.3v9h-1.3zM659 336.6h1.3v9h-1.3zM561.1 345.3h1.3v9h-1.3zM567.1 345.3h1.3v9h-1.3zM585.1 345.3h1.3v9h-1.3zM599.1 345.3h1.3v9h-1.3zM607.1 345.3h1.3v9h-1.3zM612.1 345.3h1.3v9h-1.3zM616.1 345.3h2.3v9h-2.3zM648 345.3h1.3v9h-1.3zM660 345.3h1.3v9h-1.3zM675 345.3h1.3v9h-1.3zM576.1 354.1h1.3v9h-1.3zM595.1 354.1h1.3v9h-1.3zM625 354.1h1.3v9h-1.3zM640 354.1h1.3v9h-1.3zM661 354.1h1.3v9h-1.3zM681 354.1h1.3v9h-1.3zM453.2 362.8h1.3v9h-1.3zM463.2 362.8h1.3v9h-1.3zM496.2 362.8h1.3v9h-1.3zM500.1 362.8h1.3v9h-1.3zM509.1 362.8h1.3v9h-1.3zM445.2 371.6h1.3v9h-1.3zM566.1 371.6h1.3v9h-1.3zM620.1 371.6h1.3v9h-1.3zM674 371.6h1.3v9h-1.3zM449.2 380.3h1.3v9h-1.3zM468.2 380.3h1.3v9h-1.3zM561.1 380.3h1.3v9h-1.3zM474.2 389.1h1.3v9h-1.3zM497.2 389.1h1.3v9h-1.3zM502.1 389.1h1.3v9h-1.3zM585.1 389.1h1.3v9h-1.3zM587.1 389.1h1.3v9h-1.3zM618.1 389.1h1.3v9h-1.3zM626 389.1h1.3v9h-1.3zM447.2 397.8h2.3v9h-2.3zM467.2 397.8h1.3v9h-1.3zM479.2 397.8h1.3v9h-1.3zM545.1 397.8h1.3v9h-1.3zM573.1 397.8h1.3v9h-1.3zM606.1 397.8h1.3v9h-1.3zM620.1 397.8h1.3v9h-1.3zM633 397.8h1.3v9h-1.3zM683 397.8h1.3v9h-1.3zM457.2 406.6h1.3v9h-1.3zM466.2 406.6h1.3v9h-1.3zM484.2 406.6h2.3v9h-2.3zM524.1 406.6h1.3v9h-1.3zM541.1 406.6h1.3v9h-1.3zM549.1 406.6h1.3v9h-1.3zM596.1 406.6h1.3v9h-1.3zM674 406.6h1.3v9h-1.3zM681 406.6h1.3v9h-1.3zM446.2 415.3h1.3v9h-1.3zM460.2 415.3h1.3v9h-1.3zM469.2 415.3h1.3v9h-1.3zM494.2 415.3h1.3v9h-1.3zM515.1 415.3h1.3v9h-1.3zM518.1 415.3h1.3v9h-1.3zM531.1 415.3h1.3v9h-1.3zM553.1 415.3h1.3v9h-1.3zM568.1 415.3h1.3v9h-1.3zM589.1 415.3h1.3v9h-1.3zM644 415.3h1.3v9h-1.3zM470.2 424.1h1.3v9h-1.3zM484.2 424.1h1.3v9h-1.3zM492.2 424.1h1.3v9h-1.3zM497.2 424.1h1.3v9h-1.3zM507.1 424.1h1.3v9h-1.3zM514.1 424.1h1.3v9h-1.3zM520.1 424.1h1.3v9h-1.3zM584.1 424.1h1.3v9h-1.3z" fill="rgb(48, 16, 17)"/><path d="M634 284.1h1.3v9h-1.3zM636 284.1h7.3v9h-7.3zM644 284.1h1.3v9h-1.3zM470.2 292.8h1.3v9h-1.3zM516.1 292.8h1.3v9h-1.3zM520.1 292.8h1.3v9h-1.3zM535.1 292.8h1.3v9h-1.3zM665 292.8h1.3v9h-1.3zM452.2 301.6h1.3v9h-1.3zM488.2 301.6h1.3v9h-1.3zM493.2 301.6h1.3v9h-1.3zM570.1 301.6h1.3v9h-1.3zM646 301.6h1.3v9h-1.3zM679 301.6h1.3v9h-1.3zM469.2 310.3h1.3v9h-1.3zM511.1 310.3h1.3v9h-1.3zM525.1 310.3h1.3v9h-1.3zM600.1 310.3h1.3v9h-1.3zM612.1 310.3h1.3v9h-1.3zM658 310.3h1.3v9h-1.3zM674 310.3h2.3v9h-2.3zM450.2 319.1h1.3v9h-1.3zM481.2 319.1h1.3v9h-1.3zM496.2 319.1h1.3v9h-1.3zM532.1 319.1h1.3v9h-1.3zM547.1 319.1h1.3v9h-1.3zM574.1 319.1h1.3v9h-1.3zM589.1 319.1h2.3v9h-2.3zM623 319.1h1.3v9h-1.3zM648 319.1h1.3v9h-1.3zM650 319.1h1.3v9h-1.3zM671 319.1h1.3v9h-1.3zM677 319.1h1.3v9h-1.3zM456.2 327.8h1.3v9h-1.3zM493.2 327.8h1.3v9h-1.3zM521.1 327.8h1.3v9h-1.3zM536.1 327.8h1.3v9h-1.3zM549.1 327.8h1.3v9h-1.3zM556.1 327.8h1.3v9h-1.3zM613.1 327.8h2.3v9h-2.3zM660 327.8h1.3v9h-1.3zM677 327.8h1.3v9h-1.3zM553.1 336.6h1.3v9h-1.3zM555.1 336.6h1.3v9h-1.3zM574.1 336.6h1.3v9h-1.3zM577.1 336.6h1.3v9h-1.3zM612.1 336.6h1.3v9h-1.3zM643 336.6h1.3v9h-1.3zM663 336.6h1.3v9h-1.3zM677 336.6h1.3v9h-1.3zM512.1 345.3h1.3v9h-1.3zM550.1 345.3h1.3v9h-1.3zM560.1 345.3h1.3v9h-1.3zM583.1 345.3h1.3v9h-1.3zM593.1 345.3h1.3v9h-1.3zM601.1 345.3h1.3v9h-1.3zM604.1 345.3h1.3v9h-1.3zM651 345.3h1.3v9h-1.3zM658 345.3h1.3v9h-1.3zM673 345.3h1.3v9h-1.3zM568.1 354.1h1.3v9h-1.3zM592.1 354.1h1.3v9h-1.3zM609.1 354.1h1.3v9h-1.3zM618.1 354.1h1.3v9h-1.3zM643 354.1h1.3v9h-1.3zM653 354.1h1.3v9h-1.3zM683 354.1h1.3v9h-1.3zM435.2 362.8h1.3v9h-1.3zM493.2 362.8h1.3v9h-1.3zM543.1 362.8h1.3v9h-1.3zM453.2 371.6h1.3v9h-1.3zM483.2 371.6h1.3v9h-1.3zM499.1 371.6h1.3v9h-1.3zM505.1 371.6h1.3v9h-1.3zM517.1 371.6h1.3v9h-1.3zM551.1 371.6h1.3v9h-1.3zM598.1 371.6h1.3v9h-1.3zM611.1 371.6h1.3v9h-1.3zM680 371.6h1.3v9h-1.3zM437.2 380.3h1.3v9h-1.3zM464.2 380.3h1.3v9h-1.3zM484.2 380.3h1.3v9h-1.3zM501.1 380.3h1.3v9h-1.3zM504.1 380.3h1.3v9h-1.3zM525.1 380.3h1.3v9h-1.3zM553.1 380.3h1.3v9h-1.3zM605.1 380.3h1.3v9h-1.3zM613.1 380.3h1.3v9h-1.3zM626 380.3h1.3v9h-1.3zM641 380.3h1.3v9h-1.3zM436.2 389.1h1.3v9h-1.3zM438.2 389.1h1.3v9h-1.3zM457.2 389.1h1.3v9h-1.3zM460.2 389.1h1.3v9h-1.3zM501.1 389.1h1.3v9h-1.3zM559.1 389.1h1.3v9h-1.3zM574.1 389.1h1.3v9h-1.3zM579.1 389.1h1.3v9h-1.3zM668 389.1h1.3v9h-1.3zM475.2 397.8h1.3v9h-1.3zM477.2 397.8h1.3v9h-1.3zM482.2 397.8h1.3v9h-1.3zM498.1 397.8h1.3v9h-1.3zM574.1 397.8h1.3v9h-1.3zM436.2 406.6h1.3v9h-1.3zM450.2 406.6h1.3v9h-1.3zM458.2 406.6h1.3v9h-1.3zM501.1 406.6h1.3v9h-1.3zM511.1 406.6h1.3v9h-1.3zM516.1 406.6h1.3v9h-1.3zM528.1 406.6h1.3v9h-1.3zM539.1 406.6h1.3v9h-1.3zM546.1 406.6h1.3v9h-1.3zM580.1 406.6h1.3v9h-1.3zM616.1 406.6h1.3v9h-1.3zM651 406.6h1.3v9h-1.3zM662 406.6h1.3v9h-1.3zM454.2 415.3h1.3v9h-1.3zM468.2 415.3h1.3v9h-1.3zM471.2 415.3h1.3v9h-1.3zM480.2 415.3h1.3v9h-1.3zM499.1 415.3h1.3v9h-1.3zM510.1 415.3h2.3v9h-2.3zM527.1 415.3h1.3v9h-1.3zM538.1 415.3h1.3v9h-1.3zM543.1 415.3h1.3v9h-1.3zM674 415.3h1.3v9h-1.3zM451.2 424.1h1.3v9h-1.3zM486.2 424.1h1.3v9h-1.3zM494.2 424.1h1.3v9h-1.3zM496.2 424.1h1.3v9h-1.3zM503.1 424.1h1.3v9h-1.3zM509.1 424.1h2.3v9h-2.3zM512.1 424.1h1.3v9h-1.3zM537.1 424.1h1.3v9h-1.3zM549.1 424.1h3.3v9h-3.3zM607.1 424.1h1.3v9h-1.3zM612.1 424.1h1.3v9h-1.3zM668 424.1h1.3v9h-1.3z" fill="rgb(66, 20, 19)"/><path d="M643 284.1h1.3v9h-1.3zM645 284.1h10.3v9h-10.3zM450.2 292.8h1.3v9h-1.3zM493.2 292.8h1.3v9h-1.3zM529.1 292.8h1.3v9h-1.3zM543.1 292.8h1.3v9h-1.3zM551.1 292.8h1.3v9h-1.3zM554.1 292.8h1.3v9h-1.3zM567.1 292.8h2.3v9h-2.3zM594.1 292.8h2.3v9h-2.3zM600.1 292.8h1.3v9h-1.3zM622.1 292.8h1.3v9h-1.3zM640 292.8h1.3v9h-1.3zM678 292.8h1.3v9h-1.3zM680 292.8h1.3v9h-1.3zM450.2 301.6h1.3v9h-1.3zM538.1 301.6h1.3v9h-1.3zM581.1 301.6h1.3v9h-1.3zM622.1 301.6h1.3v9h-1.3zM640 301.6h3.3v9h-3.3zM658 301.6h1.3v9h-1.3zM452.2 310.3h1.3v9h-1.3zM552.1 310.3h1.3v9h-1.3zM579.1 310.3h1.3v9h-1.3zM646 310.3h1.3v9h-1.3zM663 310.3h1.3v9h-1.3zM673 310.3h1.3v9h-1.3zM510.1 319.1h1.3v9h-1.3zM550.1 319.1h1.3v9h-1.3zM558.1 319.1h1.3v9h-1.3zM581.1 319.1h1.3v9h-1.3zM587.1 319.1h1.3v9h-1.3zM596.1 319.1h1.3v9h-1.3zM643 319.1h1.3v9h-1.3zM461.2 327.8h1.3v9h-1.3zM463.2 327.8h2.3v9h-2.3zM479.2 327.8h1.3v9h-1.3zM504.1 327.8h1.3v9h-1.3zM516.1 327.8h1.3v9h-1.3zM572.1 327.8h1.3v9h-1.3zM594.1 327.8h1.3v9h-1.3zM631 327.8h1.3v9h-1.3zM652 327.8h1.3v9h-1.3zM657 327.8h1.3v9h-1.3zM663 327.8h1.3v9h-1.3zM683 327.8h1.3v9h-1.3zM471.2 336.6h1.3v9h-1.3zM515.1 336.6h1.3v9h-1.3zM544.1 336.6h1.3v9h-1.3zM571.1 336.6h1.3v9h-1.3zM635 336.6h1.3v9h-1.3zM646 336.6h1.3v9h-1.3zM661 336.6h1.3v9h-1.3zM506.1 345.3h1.3v9h-1.3zM549.1 345.3h1.3v9h-1.3zM581.1 345.3h1.3v9h-1.3zM606.1 345.3h1.3v9h-1.3zM615.1 345.3h1.3v9h-1.3zM621.1 345.3h1.3v9h-1.3zM663 345.3h1.3v9h-1.3zM678 345.3h1.3v9h-1.3zM474.2 354.1h1.3v9h-1.3zM504.1 354.1h1.3v9h-1.3zM506.1 354.1h1.3v9h-1.3zM511.1 354.1h1.3v9h-1.3zM524.1 354.1h1.3v9h-1.3zM546.1 354.1h1.3v9h-1.3zM586.1 354.1h1.3v9h-1.3zM614.1 354.1h1.3v9h-1.3zM620.1 354.1h1.3v9h-1.3zM632 354.1h1.3v9h-1.3zM635 354.1h1.3v9h-1.3zM644 354.1h1.3v9h-1.3zM647 354.1h2.3v9h-2.3zM437.2 362.8h1.3v9h-1.3zM499.1 362.8h1.3v9h-1.3zM517.1 362.8h2.3v9h-2.3zM550.1 362.8h1.3v9h-1.3zM466.2 371.6h2.3v9h-2.3zM472.2 371.6h1.3v9h-1.3zM475.2 371.6h1.3v9h-1.3zM492.2 371.6h1.3v9h-1.3zM538.1 371.6h1.3v9h-1.3zM546.1 371.6h1.3v9h-1.3zM552.1 371.6h1.3v9h-1.3zM631 371.6h1.3v9h-1.3zM635 371.6h1.3v9h-1.3zM439.2 380.3h1.3v9h-1.3zM443.2 380.3h1.3v9h-1.3zM453.2 380.3h1.3v9h-1.3zM459.2 380.3h1.3v9h-1.3zM475.2 380.3h1.3v9h-1.3zM491.2 380.3h1.3v9h-1.3zM499.1 380.3h1.3v9h-1.3zM567.1 380.3h1.3v9h-1.3zM452.2 389.1h1.3v9h-1.3zM458.2 389.1h1.3v9h-1.3zM471.2 389.1h1.3v9h-1.3zM517.1 389.1h1.3v9h-1.3zM524.1 389.1h1.3v9h-1.3zM528.1 389.1h2.3v9h-2.3zM504.1 397.8h1.3v9h-1.3zM553.1 397.8h1.3v9h-1.3zM556.1 397.8h3.3v9h-3.3zM571.1 397.8h1.3v9h-1.3zM594.1 397.8h1.3v9h-1.3zM604.1 397.8h1.3v9h-1.3zM609.1 397.8h1.3v9h-1.3zM437.2 406.6h1.3v9h-1.3zM459.2 406.6h1.3v9h-1.3zM462.2 406.6h1.3v9h-1.3zM493.2 406.6h1.3v9h-1.3zM498.1 406.6h1.3v9h-1.3zM556.1 406.6h1.3v9h-1.3zM569.1 406.6h1.3v9h-1.3zM586.1 406.6h1.3v9h-1.3zM632 406.6h2.3v9h-2.3zM637 406.6h2.3v9h-2.3zM656 406.6h1.3v9h-1.3zM684 406.6h1.3v9h-1.3zM442.2 415.3h1.3v9h-1.3zM448.2 415.3h1.3v9h-1.3zM473.2 415.3h1.3v9h-1.3zM652 415.3h1.3v9h-1.3zM439.2 424.1h1.3v9h-1.3zM454.2 424.1h1.3v9h-1.3zM457.2 424.1h1.3v9h-1.3zM478.2 424.1h1.3v9h-1.3zM516.1 424.1h1.3v9h-1.3zM548.1 424.1h1.3v9h-1.3zM659 424.1h1.3v9h-1.3z" fill="rgb(83, 23, 20)"/><path d="M655 284.1h8.3v9h-8.3zM646 292.8h1.3v9h-1.3zM461.2 301.6h1.3v9h-1.3zM475.2 301.6h1.3v9h-1.3zM582.1 301.6h1.3v9h-1.3zM609.1 301.6h1.3v9h-1.3zM650 301.6h1.3v9h-1.3zM662 301.6h1.3v9h-1.3zM668 301.6h1.3v9h-1.3zM672 301.6h1.3v9h-1.3zM457.2 310.3h1.3v9h-1.3zM507.1 310.3h1.3v9h-1.3zM557.1 310.3h1.3v9h-1.3zM585.1 310.3h1.3v9h-1.3zM619.1 310.3h1.3v9h-1.3zM627 310.3h1.3v9h-1.3zM641 310.3h1.3v9h-1.3zM645 310.3h1.3v9h-1.3zM652 310.3h1.3v9h-1.3zM455.2 319.1h1.3v9h-1.3zM488.2 319.1h1.3v9h-1.3zM524.1 319.1h1.3v9h-1.3zM542.1 319.1h1.3v9h-1.3zM562.1 319.1h2.3v9h-2.3zM602.1 319.1h1.3v9h-1.3zM617.1 319.1h1.3v9h-1.3zM662 319.1h1.3v9h-1.3zM670 319.1h1.3v9h-1.3zM452.2 327.8h1.3v9h-1.3zM502.1 327.8h1.3v9h-1.3zM552.1 327.8h1.3v9h-1.3zM581.1 327.8h1.3v9h-1.3zM615.1 327.8h1.3v9h-1.3zM635 327.8h1.3v9h-1.3zM637 327.8h1.3v9h-1.3zM669 327.8h1.3v9h-1.3zM676 327.8h1.3v9h-1.3zM508.1 336.6h1.3v9h-1.3zM576.1 336.6h1.3v9h-1.3zM586.1 336.6h1.3v9h-1.3zM593.1 336.6h1.3v9h-1.3zM620.1 336.6h1.3v9h-1.3zM628 336.6h1.3v9h-1.3zM651 336.6h1.3v9h-1.3zM678 336.6h1.3v9h-1.3zM493.2 345.3h1.3v9h-1.3zM528.1 345.3h1.3v9h-1.3zM571.1 345.3h1.3v9h-1.3zM592.1 345.3h1.3v9h-1.3zM653 345.3h1.3v9h-1.3zM672 345.3h1.3v9h-1.3zM682 345.3h1.3v9h-1.3zM555.1 354.1h1.3v9h-1.3zM561.1 354.1h1.3v9h-1.3zM565.1 354.1h1.3v9h-1.3zM569.1 354.1h1.3v9h-1.3zM571.1 354.1h1.3v9h-1.3zM596.1 354.1h1.3v9h-1.3zM638 354.1h2.3v9h-2.3zM659 354.1h1.3v9h-1.3zM662 354.1h1.3v9h-1.3zM670 354.1h1.3v9h-1.3zM672 354.1h1.3v9h-1.3zM439.2 362.8h1.3v9h-1.3zM452.2 362.8h1.3v9h-1.3zM523.1 362.8h1.3v9h-1.3zM529.1 362.8h1.3v9h-1.3zM611.1 362.8h1.3v9h-1.3zM436.2 371.6h1.3v9h-1.3zM451.2 371.6h1.3v9h-1.3zM456.2 371.6h1.3v9h-1.3zM477.2 371.6h1.3v9h-1.3zM493.2 371.6h1.3v9h-1.3zM500.1 371.6h1.3v9h-1.3zM515.1 371.6h1.3v9h-1.3zM530.1 371.6h1.3v9h-1.3zM534.1 371.6h1.3v9h-1.3zM575.1 371.6h1.3v9h-1.3zM633 371.6h1.3v9h-1.3zM436.2 380.3h1.3v9h-1.3zM457.2 380.3h1.3v9h-1.3zM490.2 380.3h1.3v9h-1.3zM495.2 380.3h1.3v9h-1.3zM509.1 380.3h1.3v9h-1.3zM573.1 380.3h1.3v9h-1.3zM575.1 380.3h1.3v9h-1.3zM600.1 380.3h1.3v9h-1.3zM620.1 380.3h1.3v9h-1.3zM661 380.3h1.3v9h-1.3zM668 380.3h1.3v9h-1.3zM463.2 389.1h1.3v9h-1.3zM493.2 389.1h1.3v9h-1.3zM550.1 389.1h1.3v9h-1.3zM556.1 389.1h1.3v9h-1.3zM578.1 389.1h1.3v9h-1.3zM461.2 397.8h1.3v9h-1.3zM495.2 397.8h1.3v9h-1.3zM503.1 397.8h1.3v9h-1.3zM505.1 397.8h1.3v9h-1.3zM522.1 397.8h2.3v9h-2.3zM565.1 397.8h1.3v9h-1.3zM589.1 397.8h1.3v9h-1.3zM435.2 406.6h1.3v9h-1.3zM441.2 406.6h1.3v9h-1.3zM444.2 406.6h1.3v9h-1.3zM461.2 406.6h1.3v9h-1.3zM435.2 415.3h1.3v9h-1.3zM439.2 415.3h1.3v9h-1.3zM459.2 415.3h1.3v9h-1.3zM486.2 415.3h1.3v9h-1.3zM500.1 415.3h1.3v9h-1.3zM506.1 415.3h1.3v9h-1.3zM522.1 415.3h1.3v9h-1.3zM566.1 415.3h1.3v9h-1.3zM575.1 415.3h1.3v9h-1.3zM593.1 415.3h1.3v9h-1.3zM637 415.3h1.3v9h-1.3zM657 415.3h1.3v9h-1.3zM443.2 424.1h1.3v9h-1.3zM450.2 424.1h1.3v9h-1.3zM481.2 424.1h1.3v9h-1.3zM487.2 424.1h1.3v9h-1.3zM495.2 424.1h1.3v9h-1.3zM499.1 424.1h1.3v9h-1.3zM561.1 424.1h1.3v9h-1.3zM577.1 424.1h1.3v9h-1.3zM586.1 424.1h1.3v9h-1.3zM588.1 424.1h1.3v9h-1.3zM603.1 424.1h2.3v9h-2.3z" fill="rgb(100, 26, 22)"/><path d="M663 284.1h7.3v9h-7.3zM463.2 292.8h1.3v9h-1.3zM483.2 292.8h1.3v9h-1.3zM513.1 292.8h1.3v9h-1.3zM539.1 292.8h1.3v9h-1.3zM593.1 292.8h1.3v9h-1.3zM624 292.8h1.3v9h-1.3zM627 292.8h1.3v9h-1.3zM632 292.8h1.3v9h-1.3zM653 292.8h1.3v9h-1.3zM657 292.8h1.3v9h-1.3zM501.1 301.6h1.3v9h-1.3zM597.1 301.6h1.3v9h-1.3zM614.1 301.6h1.3v9h-1.3zM620.1 301.6h1.3v9h-1.3zM635 301.6h1.3v9h-1.3zM653 301.6h1.3v9h-1.3zM486.2 310.3h1.3v9h-1.3zM493.2 310.3h1.3v9h-1.3zM539.1 310.3h1.3v9h-1.3zM544.1 310.3h1.3v9h-1.3zM560.1 310.3h1.3v9h-1.3zM578.1 310.3h1.3v9h-1.3zM597.1 310.3h1.3v9h-1.3zM608.1 310.3h1.3v9h-1.3zM628 310.3h1.3v9h-1.3zM635 310.3h1.3v9h-1.3zM644 310.3h1.3v9h-1.3zM651 310.3h1.3v9h-1.3zM670 310.3h2.3v9h-2.3zM506.1 319.1h1.3v9h-1.3zM517.1 319.1h1.3v9h-1.3zM584.1 319.1h1.3v9h-1.3zM597.1 319.1h1.3v9h-1.3zM604.1 319.1h1.3v9h-1.3zM615.1 319.1h1.3v9h-1.3zM627 319.1h1.3v9h-1.3zM629 319.1h1.3v9h-1.3zM632 319.1h1.3v9h-1.3zM636 319.1h1.3v9h-1.3zM659 319.1h1.3v9h-1.3zM676 319.1h1.3v9h-1.3zM678 319.1h1.3v9h-1.3zM573.1 327.8h1.3v9h-1.3zM584.1 327.8h1.3v9h-1.3zM629 327.8h1.3v9h-1.3zM654 327.8h1.3v9h-1.3zM662 327.8h1.3v9h-1.3zM665 327.8h1.3v9h-1.3zM674 327.8h1.3v9h-1.3zM465.2 336.6h1.3v9h-1.3zM500.1 336.6h1.3v9h-1.3zM581.1 336.6h1.3v9h-1.3zM583.1 336.6h1.3v9h-1.3zM587.1 336.6h1.3v9h-1.3zM642 336.6h1.3v9h-1.3zM649 336.6h1.3v9h-1.3zM655 336.6h1.3v9h-1.3zM667 336.6h1.3v9h-1.3zM469.2 345.3h1.3v9h-1.3zM572.1 345.3h1.3v9h-1.3zM578.1 345.3h1.3v9h-1.3zM624 345.3h1.3v9h-1.3zM635 345.3h1.3v9h-1.3zM638 345.3h1.3v9h-1.3zM655 345.3h1.3v9h-1.3zM664 345.3h1.3v9h-1.3zM475.2 354.1h2.3v9h-2.3zM493.2 354.1h1.3v9h-1.3zM539.1 354.1h1.3v9h-1.3zM551.1 354.1h1.3v9h-1.3zM603.1 354.1h1.3v9h-1.3zM633 354.1h1.3v9h-1.3zM440.2 362.8h1.3v9h-1.3zM442.2 362.8h1.3v9h-1.3zM445.2 362.8h1.3v9h-1.3zM461.2 362.8h1.3v9h-1.3zM515.1 362.8h1.3v9h-1.3zM544.1 362.8h1.3v9h-1.3zM592.1 362.8h1.3v9h-1.3zM438.2 371.6h1.3v9h-1.3zM440.2 371.6h1.3v9h-1.3zM450.2 371.6h1.3v9h-1.3zM470.2 371.6h1.3v9h-1.3zM478.2 371.6h1.3v9h-1.3zM532.1 371.6h1.3v9h-1.3zM541.1 371.6h1.3v9h-1.3zM545.1 371.6h1.3v9h-1.3zM554.1 371.6h1.3v9h-1.3zM562.1 371.6h1.3v9h-1.3zM667 371.6h1.3v9h-1.3zM441.2 380.3h1.3v9h-1.3zM446.2 380.3h1.3v9h-1.3zM465.2 380.3h3.3v9h-3.3zM500.1 380.3h1.3v9h-1.3zM523.1 380.3h1.3v9h-1.3zM559.1 380.3h1.3v9h-1.3zM435.2 389.1h1.3v9h-1.3zM442.2 389.1h1.3v9h-1.3zM449.2 389.1h1.3v9h-1.3zM456.2 389.1h1.3v9h-1.3zM491.2 389.1h1.3v9h-1.3zM513.1 389.1h1.3v9h-1.3zM519.1 389.1h1.3v9h-1.3zM539.1 389.1h1.3v9h-1.3zM581.1 389.1h1.3v9h-1.3zM444.2 397.8h2.3v9h-2.3zM449.2 397.8h1.3v9h-1.3zM451.2 397.8h1.3v9h-1.3zM455.2 397.8h1.3v9h-1.3zM507.1 397.8h1.3v9h-1.3zM554.1 397.8h1.3v9h-1.3zM576.1 397.8h1.3v9h-1.3zM581.1 397.8h1.3v9h-1.3zM615.1 397.8h1.3v9h-1.3zM625 397.8h1.3v9h-1.3zM442.2 406.6h1.3v9h-1.3zM469.2 406.6h1.3v9h-1.3zM477.2 406.6h1.3v9h-1.3zM487.2 406.6h1.3v9h-1.3zM565.1 406.6h1.3v9h-1.3zM583.1 406.6h1.3v9h-1.3zM655 406.6h1.3v9h-1.3zM665 406.6h1.3v9h-1.3zM461.2 415.3h1.3v9h-1.3zM465.2 415.3h1.3v9h-1.3zM519.1 415.3h1.3v9h-1.3zM551.1 415.3h1.3v9h-1.3zM562.1 415.3h1.3v9h-1.3zM612.1 415.3h1.3v9h-1.3zM440.2 424.1h1.3v9h-1.3zM469.2 424.1h1.3v9h-1.3zM500.1 424.1h1.3v9h-1.3zM523.1 424.1h1.3v9h-1.3zM614.1 424.1h1.3v9h-1.3z" fill="rgb(126, 28, 25)"/><path d="M670 284.1h4.3v9h-4.3zM461.2 292.8h1.3v9h-1.3zM616.1 292.8h1.3v9h-1.3zM645 292.8h1.3v9h-1.3zM652 292.8h1.3v9h-1.3zM668 292.8h1.3v9h-1.3zM676 292.8h1.3v9h-1.3zM503.1 301.6h1.3v9h-1.3zM524.1 301.6h1.3v9h-1.3zM564.1 301.6h1.3v9h-1.3zM573.1 301.6h1.3v9h-1.3zM647 301.6h1.3v9h-1.3zM651 301.6h1.3v9h-1.3zM447.2 310.3h1.3v9h-1.3zM458.2 310.3h1.3v9h-1.3zM501.1 310.3h1.3v9h-1.3zM515.1 310.3h1.3v9h-1.3zM538.1 310.3h1.3v9h-1.3zM548.1 310.3h1.3v9h-1.3zM558.1 310.3h1.3v9h-1.3zM562.1 310.3h1.3v9h-1.3zM599.1 310.3h1.3v9h-1.3zM604.1 310.3h1.3v9h-1.3zM633 310.3h1.3v9h-1.3zM650 310.3h1.3v9h-1.3zM656 310.3h1.3v9h-1.3zM668 310.3h1.3v9h-1.3zM677 310.3h1.3v9h-1.3zM447.2 319.1h1.3v9h-1.3zM508.1 319.1h1.3v9h-1.3zM512.1 319.1h1.3v9h-1.3zM531.1 319.1h1.3v9h-1.3zM534.1 319.1h1.3v9h-1.3zM545.1 319.1h1.3v9h-1.3zM567.1 319.1h1.3v9h-1.3zM616.1 319.1h1.3v9h-1.3zM628 319.1h1.3v9h-1.3zM633 319.1h1.3v9h-1.3zM656 319.1h1.3v9h-1.3zM664 319.1h1.3v9h-1.3zM680 319.1h1.3v9h-1.3zM474.2 327.8h1.3v9h-1.3zM489.2 327.8h1.3v9h-1.3zM554.1 327.8h1.3v9h-1.3zM574.1 327.8h1.3v9h-1.3zM598.1 327.8h1.3v9h-1.3zM621.1 327.8h1.3v9h-1.3zM630 327.8h1.3v9h-1.3zM634 327.8h1.3v9h-1.3zM446.2 336.6h1.3v9h-1.3zM469.2 336.6h1.3v9h-1.3zM477.2 336.6h1.3v9h-1.3zM483.2 336.6h1.3v9h-1.3zM491.2 336.6h1.3v9h-1.3zM507.1 336.6h1.3v9h-1.3zM516.1 336.6h1.3v9h-1.3zM539.1 336.6h1.3v9h-1.3zM588.1 336.6h2.3v9h-2.3zM594.1 336.6h1.3v9h-1.3zM627 336.6h1.3v9h-1.3zM634 336.6h1.3v9h-1.3zM640 336.6h1.3v9h-1.3zM672 336.6h1.3v9h-1.3zM450.2 345.3h1.3v9h-1.3zM468.2 345.3h1.3v9h-1.3zM486.2 345.3h1.3v9h-1.3zM533.1 345.3h1.3v9h-1.3zM536.1 345.3h1.3v9h-1.3zM556.1 345.3h1.3v9h-1.3zM580.1 345.3h1.3v9h-1.3zM618.1 345.3h1.3v9h-1.3zM630 345.3h1.3v9h-1.3zM632 345.3h1.3v9h-1.3zM671 345.3h1.3v9h-1.3zM681 345.3h1.3v9h-1.3zM462.2 354.1h1.3v9h-1.3zM471.2 354.1h1.3v9h-1.3zM503.1 354.1h1.3v9h-1.3zM510.1 354.1h1.3v9h-1.3zM530.1 354.1h1.3v9h-1.3zM556.1 354.1h1.3v9h-1.3zM579.1 354.1h2.3v9h-2.3zM589.1 354.1h1.3v9h-1.3zM601.1 354.1h1.3v9h-1.3zM613.1 354.1h1.3v9h-1.3zM621.1 354.1h1.3v9h-1.3zM627 354.1h1.3v9h-1.3zM637 354.1h1.3v9h-1.3zM651 354.1h1.3v9h-1.3zM471.2 362.8h1.3v9h-1.3zM491.2 362.8h1.3v9h-1.3zM520.1 362.8h1.3v9h-1.3zM590.1 362.8h1.3v9h-1.3zM441.2 371.6h1.3v9h-1.3zM447.2 371.6h1.3v9h-1.3zM463.2 371.6h1.3v9h-1.3zM484.2 371.6h1.3v9h-1.3zM498.1 371.6h1.3v9h-1.3zM510.1 371.6h1.3v9h-1.3zM533.1 371.6h1.3v9h-1.3zM536.1 371.6h1.3v9h-1.3zM550.1 371.6h1.3v9h-1.3zM647 371.6h1.3v9h-1.3zM435.2 380.3h1.3v9h-1.3zM451.2 380.3h1.3v9h-1.3zM472.2 380.3h1.3v9h-1.3zM478.2 380.3h1.3v9h-1.3zM481.2 380.3h1.3v9h-1.3zM496.2 380.3h1.3v9h-1.3zM514.1 380.3h1.3v9h-1.3zM550.1 380.3h1.3v9h-1.3zM564.1 380.3h1.3v9h-1.3zM644 380.3h1.3v9h-1.3zM653 380.3h1.3v9h-1.3zM656 380.3h1.3v9h-1.3zM441.2 389.1h1.3v9h-1.3zM444.2 389.1h1.3v9h-1.3zM466.2 389.1h1.3v9h-1.3zM489.2 389.1h1.3v9h-1.3zM541.1 389.1h1.3v9h-1.3zM600.1 389.1h1.3v9h-1.3zM665 389.1h1.3v9h-1.3zM452.2 397.8h1.3v9h-1.3zM578.1 397.8h1.3v9h-1.3zM670 397.8h1.3v9h-1.3zM446.2 406.6h1.3v9h-1.3zM467.2 406.6h1.3v9h-1.3zM490.2 406.6h1.3v9h-1.3zM497.2 406.6h1.3v9h-1.3zM512.1 406.6h1.3v9h-1.3zM515.1 406.6h1.3v9h-1.3zM555.1 406.6h1.3v9h-1.3zM560.1 406.6h1.3v9h-1.3zM617.1 406.6h1.3v9h-1.3zM476.2 415.3h1.3v9h-1.3zM530.1 415.3h1.3v9h-1.3zM533.1 415.3h1.3v9h-1.3zM550.1 415.3h1.3v9h-1.3zM555.1 415.3h1.3v9h-1.3zM572.1 415.3h1.3v9h-1.3zM605.1 415.3h1.3v9h-1.3zM650 415.3h1.3v9h-1.3zM663 415.3h1.3v9h-1.3zM678 415.3h1.3v9h-1.3zM455.2 424.1h1.3v9h-1.3zM458.2 424.1h1.3v9h-1.3zM463.2 424.1h1.3v9h-1.3zM539.1 424.1h1.3v9h-1.3zM562.1 424.1h1.3v9h-1.3zM581.1 424.1h1.3v9h-1.3zM602.1 424.1h1.3v9h-1.3zM625 424.1h1.3v9h-1.3z" fill="rgb(153, 31, 28)"/><path d="M674 284.1h5.3v9h-5.3zM438.2 362.8h1.3v9h-1.3zM436.2 415.3h1.3v9h-1.3z" fill="rgb(179, 33, 32)"/><path d="M679 284.1h3.3v9h-3.3zM436.2 362.8h1.3v9h-1.3zM435.2 371.6h1.3v9h-1.3zM439.2 371.6h1.3v9h-1.3zM443.2 397.8h1.3v9h-1.3zM441.2 415.3h1.3v9h-1.3zM437.2 424.1h1.3v9h-1.3z" fill="rgb(206, 36, 35)"/><path d="M682 284.1h3.3v9h-3.3z" fill="rgb(232, 38, 38)"/><path d="M439.2 292.8h1.3v9h-1.3zM532.1 292.8h1.3v9h-1.3zM458.2 301.6h1.3v9h-1.3zM549.1 301.6h1.3v9h-1.3zM605.1 301.6h1.3v9h-1.3zM550.1 310.3h1.3v9h-1.3zM616.1 310.3h1.3v9h-1.3zM456.2 319.1h1.3v9h-1.3zM460.2 319.1h1.3v9h-1.3zM559.1 319.1h1.3v9h-1.3zM573.1 319.1h1.3v9h-1.3zM626 319.1h1.3v9h-1.3zM630 319.1h1.3v9h-1.3zM673 319.1h1.3v9h-1.3zM436.2 327.8h1.3v9h-1.3zM441.2 327.8h2.3v9h-2.3zM449.2 327.8h1.3v9h-1.3zM473.2 327.8h1.3v9h-1.3zM476.2 327.8h1.3v9h-1.3zM481.2 327.8h1.3v9h-1.3zM562.1 327.8h1.3v9h-1.3zM627 327.8h1.3v9h-1.3zM435.2 336.6h1.3v9h-1.3zM437.2 336.6h3.3v9h-3.3zM461.2 336.6h1.3v9h-1.3zM489.2 336.6h1.3v9h-1.3zM670 336.6h1.3v9h-1.3zM481.2 345.3h1.3v9h-1.3zM513.1 345.3h1.3v9h-1.3zM532.1 345.3h1.3v9h-1.3zM544.1 345.3h1.3v9h-1.3zM555.1 345.3h1.3v9h-1.3zM564.1 345.3h1.3v9h-1.3zM573.1 345.3h1.3v9h-1.3zM440.2 354.1h1.3v9h-1.3zM467.2 354.1h1.3v9h-1.3zM473.2 354.1h1.3v9h-1.3zM526.1 354.1h1.3v9h-1.3zM558.1 354.1h1.3v9h-1.3zM567.1 354.1h1.3v9h-1.3zM585.1 354.1h1.3v9h-1.3zM615.1 354.1h1.3v9h-1.3zM636 354.1h1.3v9h-1.3zM657 354.1h1.3v9h-1.3zM669 354.1h1.3v9h-1.3zM457.2 362.8h1.3v9h-1.3zM572.1 362.8h1.3v9h-1.3zM494.2 371.6h1.3v9h-1.3zM564.1 371.6h1.3v9h-1.3zM567.1 371.6h1.3v9h-1.3zM577.1 371.6h1.3v9h-1.3zM588.1 371.6h1.3v9h-1.3zM597.1 371.6h1.3v9h-1.3zM606.1 371.6h1.3v9h-1.3zM610.1 371.6h1.3v9h-1.3zM612.1 371.6h1.3v9h-1.3zM682 371.6h1.3v9h-1.3zM492.2 380.3h1.3v9h-1.3zM609.1 380.3h2.3v9h-2.3zM630 380.3h1.3v9h-1.3zM648 380.3h1.3v9h-1.3zM667 380.3h1.3v9h-1.3zM678 380.3h1.3v9h-1.3zM468.2 389.1h1.3v9h-1.3zM595.1 389.1h1.3v9h-1.3zM610.1 389.1h1.3v9h-1.3zM612.1 389.1h1.3v9h-1.3zM614.1 389.1h1.3v9h-1.3zM617.1 389.1h1.3v9h-1.3zM634 389.1h1.3v9h-1.3zM666 389.1h2.3v9h-2.3zM454.2 397.8h1.3v9h-1.3zM527.1 397.8h1.3v9h-1.3zM570.1 397.8h1.3v9h-1.3zM621.1 397.8h1.3v9h-1.3zM631 397.8h1.3v9h-1.3zM647 397.8h1.3v9h-1.3zM658 397.8h1.3v9h-1.3zM445.2 406.6h1.3v9h-1.3zM475.2 406.6h1.3v9h-1.3zM495.2 406.6h1.3v9h-1.3zM561.1 406.6h1.3v9h-1.3zM582.1 406.6h1.3v9h-1.3zM592.1 406.6h1.3v9h-1.3zM652 406.6h1.3v9h-1.3zM664 406.6h1.3v9h-1.3zM462.2 415.3h1.3v9h-1.3zM483.2 415.3h1.3v9h-1.3zM564.1 415.3h1.3v9h-1.3zM576.1 415.3h2.3v9h-2.3zM594.1 415.3h1.3v9h-1.3zM601.1 415.3h1.3v9h-1.3zM614.1 415.3h1.3v9h-1.3zM621.1 415.3h1.3v9h-1.3zM628 415.3h1.3v9h-1.3zM654 415.3h1.3v9h-1.3zM660 415.3h1.3v9h-1.3zM662 415.3h1.3v9h-1.3zM684 415.3h1.3v9h-1.3zM563.1 424.1h1.3v9h-1.3zM583.1 424.1h1.3v9h-1.3zM598.1 424.1h1.3v9h-1.3zM600.1 424.1h1.3v9h-1.3zM616.1 424.1h1.3v9h-1.3zM628 424.1h1.3v9h-1.3zM647 424.1h1.3v9h-1.3z" fill="rgb(53, 52, 122)"/><path d="M556.1 292.8h1.3v9h-1.3zM472.2 301.6h1.3v9h-1.3zM502.1 301.6h1.3v9h-1.3zM448.2 310.3h1.3v9h-1.3zM471.2 310.3h1.3v9h-1.3zM474.2 310.3h1.3v9h-1.3zM483.2 310.3h2.3v9h-2.3zM516.1 310.3h1.3v9h-1.3zM527.1 310.3h1.3v9h-1.3zM561.1 310.3h1.3v9h-1.3zM589.1 310.3h1.3v9h-1.3zM617.1 310.3h1.3v9h-1.3zM629 310.3h1.3v9h-1.3zM544.1 319.1h1.3v9h-1.3zM553.1 319.1h1.3v9h-1.3zM598.1 319.1h1.3v9h-1.3zM600.1 319.1h1.3v9h-1.3zM682 319.1h1.3v9h-1.3zM437.2 327.8h1.3v9h-1.3zM486.2 327.8h1.3v9h-1.3zM522.1 327.8h1.3v9h-1.3zM570.1 327.8h1.3v9h-1.3zM648 327.8h1.3v9h-1.3zM436.2 336.6h1.3v9h-1.3zM440.2 336.6h3.3v9h-3.3zM462.2 336.6h1.3v9h-1.3zM525.1 336.6h1.3v9h-1.3zM562.1 336.6h1.3v9h-1.3zM591.1 336.6h1.3v9h-1.3zM604.1 336.6h1.3v9h-1.3zM607.1 336.6h1.3v9h-1.3zM638 336.6h1.3v9h-1.3zM455.2 345.3h1.3v9h-1.3zM471.2 345.3h1.3v9h-1.3zM505.1 345.3h1.3v9h-1.3zM510.1 345.3h1.3v9h-1.3zM514.1 345.3h1.3v9h-1.3zM436.2 354.1h2.3v9h-2.3zM439.2 354.1h1.3v9h-1.3zM441.2 354.1h2.3v9h-2.3zM446.2 354.1h1.3v9h-1.3zM460.2 354.1h1.3v9h-1.3zM488.2 354.1h1.3v9h-1.3zM522.1 354.1h1.3v9h-1.3zM553.1 354.1h1.3v9h-1.3zM563.1 354.1h1.3v9h-1.3zM584.1 354.1h1.3v9h-1.3zM608.1 354.1h1.3v9h-1.3zM646 354.1h1.3v9h-1.3zM652 354.1h1.3v9h-1.3zM579.1 362.8h1.3v9h-1.3zM458.2 371.6h1.3v9h-1.3zM476.2 371.6h1.3v9h-1.3zM489.2 371.6h1.3v9h-1.3zM526.1 371.6h1.3v9h-1.3zM557.1 371.6h1.3v9h-1.3zM561.1 371.6h1.3v9h-1.3zM592.1 371.6h1.3v9h-1.3zM602.1 371.6h1.3v9h-1.3zM637 371.6h1.3v9h-1.3zM498.1 380.3h1.3v9h-1.3zM522.1 380.3h1.3v9h-1.3zM524.1 380.3h1.3v9h-1.3zM534.1 380.3h1.3v9h-1.3zM578.1 380.3h1.3v9h-1.3zM580.1 380.3h1.3v9h-1.3zM583.1 380.3h1.3v9h-1.3zM588.1 380.3h1.3v9h-1.3zM598.1 380.3h1.3v9h-1.3zM625 380.3h1.3v9h-1.3zM637 380.3h1.3v9h-1.3zM658 380.3h1.3v9h-1.3zM673 380.3h2.3v9h-2.3zM679 380.3h1.3v9h-1.3zM683 380.3h2.3v9h-2.3zM484.2 389.1h1.3v9h-1.3zM499.1 389.1h1.3v9h-1.3zM522.1 389.1h1.3v9h-1.3zM534.1 389.1h1.3v9h-1.3zM554.1 389.1h1.3v9h-1.3zM622.1 389.1h2.3v9h-2.3zM629 389.1h1.3v9h-1.3zM631 389.1h1.3v9h-1.3zM639 389.1h1.3v9h-1.3zM670 389.1h2.3v9h-2.3zM681 389.1h1.3v9h-1.3zM683 389.1h1.3v9h-1.3zM530.1 397.8h1.3v9h-1.3zM533.1 397.8h1.3v9h-1.3zM538.1 397.8h1.3v9h-1.3zM540.1 397.8h1.3v9h-1.3zM585.1 397.8h1.3v9h-1.3zM595.1 397.8h2.3v9h-2.3zM628 397.8h2.3v9h-2.3zM635 397.8h1.3v9h-1.3zM649 397.8h1.3v9h-1.3zM465.2 406.6h1.3v9h-1.3zM489.2 406.6h1.3v9h-1.3zM531.1 406.6h2.3v9h-2.3zM577.1 406.6h1.3v9h-1.3zM594.1 406.6h1.3v9h-1.3zM622.1 406.6h1.3v9h-1.3zM630 406.6h1.3v9h-1.3zM635 406.6h1.3v9h-1.3zM654 406.6h1.3v9h-1.3zM672 406.6h1.3v9h-1.3zM682 406.6h1.3v9h-1.3zM452.2 415.3h1.3v9h-1.3zM479.2 415.3h1.3v9h-1.3zM482.2 415.3h1.3v9h-1.3zM526.1 415.3h1.3v9h-1.3zM554.1 415.3h1.3v9h-1.3zM586.1 415.3h1.3v9h-1.3zM588.1 415.3h1.3v9h-1.3zM634 415.3h1.3v9h-1.3zM641 415.3h1.3v9h-1.3zM670 415.3h1.3v9h-1.3zM501.1 424.1h1.3v9h-1.3zM534.1 424.1h1.3v9h-1.3zM552.1 424.1h1.3v9h-1.3zM558.1 424.1h1.3v9h-1.3zM590.1 424.1h1.3v9h-1.3zM670 424.1h1.3v9h-1.3zM679 424.1h1.3v9h-1.3zM681 424.1h1.3v9h-1.3zM684 424.1h1.3v9h-1.3z" fill="rgb(50, 59, 137)"/><path d="M573.1 292.8h1.3v9h-1.3zM436.2 310.3h1.3v9h-1.3zM441.2 310.3h2.3v9h-2.3zM459.2 310.3h1.3v9h-1.3zM503.1 310.3h1.3v9h-1.3zM522.1 310.3h1.3v9h-1.3zM540.1 310.3h1.3v9h-1.3zM437.2 319.1h1.3v9h-1.3zM440.2 319.1h1.3v9h-1.3zM442.2 319.1h1.3v9h-1.3zM591.1 327.8h1.3v9h-1.3zM487.2 336.6h1.3v9h-1.3zM498.1 336.6h1.3v9h-1.3zM558.1 336.6h1.3v9h-1.3zM579.1 336.6h1.3v9h-1.3zM585.1 336.6h1.3v9h-1.3zM437.2 345.3h4.3v9h-4.3zM443.2 345.3h1.3v9h-1.3zM473.2 345.3h1.3v9h-1.3zM577.1 345.3h1.3v9h-1.3zM584.1 345.3h1.3v9h-1.3zM448.2 354.1h1.3v9h-1.3zM513.1 354.1h1.3v9h-1.3zM469.2 362.8h1.3v9h-1.3zM488.2 362.8h1.3v9h-1.3zM521.1 371.6h1.3v9h-1.3zM568.1 371.6h1.3v9h-1.3zM617.1 371.6h1.3v9h-1.3zM444.2 380.3h1.3v9h-1.3zM473.2 380.3h1.3v9h-1.3zM497.2 380.3h1.3v9h-1.3zM614.1 380.3h1.3v9h-1.3zM660 380.3h1.3v9h-1.3zM671 380.3h2.3v9h-2.3zM681 380.3h1.3v9h-1.3zM469.2 389.1h1.3v9h-1.3zM655 389.1h1.3v9h-1.3zM674 389.1h1.3v9h-1.3zM680 389.1h1.3v9h-1.3zM435.2 397.8h1.3v9h-1.3zM440.2 397.8h1.3v9h-1.3zM442.2 397.8h1.3v9h-1.3zM509.1 397.8h1.3v9h-1.3zM597.1 397.8h1.3v9h-1.3zM661 397.8h1.3v9h-1.3zM677 397.8h1.3v9h-1.3zM491.2 406.6h1.3v9h-1.3zM489.2 415.3h1.3v9h-1.3zM632 415.3h1.3v9h-1.3zM666 415.3h1.3v9h-1.3zM490.2 424.1h1.3v9h-1.3zM532.1 424.1h1.3v9h-1.3zM634 424.1h1.3v9h-1.3zM672 424.1h2.3v9h-2.3zM677 424.1h1.3v9h-1.3z" fill="rgb(46, 66, 151)"/><path d="M499.1 301.6h1.3v9h-1.3zM521.1 301.6h1.3v9h-1.3zM528.1 301.6h1.3v9h-1.3zM616.1 301.6h1.3v9h-1.3zM682 301.6h1.3v9h-1.3zM494.2 310.3h1.3v9h-1.3zM506.1 310.3h1.3v9h-1.3zM509.1 310.3h1.3v9h-1.3zM642 310.3h1.3v9h-1.3zM475.2 319.1h1.3v9h-1.3zM549.1 319.1h1.3v9h-1.3zM580.1 319.1h1.3v9h-1.3zM435.2 327.8h1.3v9h-1.3zM438.2 327.8h3.3v9h-3.3zM608.1 336.6h1.3v9h-1.3zM597.1 345.3h1.3v9h-1.3zM631 345.3h1.3v9h-1.3zM676 345.3h1.3v9h-1.3zM435.2 354.1h1.3v9h-1.3zM438.2 354.1h1.3v9h-1.3zM497.2 354.1h1.3v9h-1.3zM520.1 354.1h1.3v9h-1.3zM501.1 371.6h1.3v9h-1.3zM616.1 371.6h1.3v9h-1.3zM650 371.6h1.3v9h-1.3zM662 371.6h1.3v9h-1.3zM678 371.6h1.3v9h-1.3zM452.2 380.3h1.3v9h-1.3zM507.1 380.3h1.3v9h-1.3zM586.1 380.3h1.3v9h-1.3zM594.1 380.3h1.3v9h-1.3zM619.1 380.3h1.3v9h-1.3zM649 380.3h1.3v9h-1.3zM533.1 389.1h1.3v9h-1.3zM557.1 389.1h1.3v9h-1.3zM596.1 389.1h1.3v9h-1.3zM653 389.1h1.3v9h-1.3zM470.2 397.8h1.3v9h-1.3zM483.2 397.8h1.3v9h-1.3zM548.1 397.8h1.3v9h-1.3zM552.1 397.8h1.3v9h-1.3zM569.1 397.8h1.3v9h-1.3zM583.1 397.8h1.3v9h-1.3zM644 397.8h1.3v9h-1.3zM513.1 406.6h1.3v9h-1.3zM562.1 406.6h1.3v9h-1.3zM574.1 406.6h1.3v9h-1.3zM591.1 406.6h1.3v9h-1.3zM599.1 406.6h1.3v9h-1.3zM658 406.6h1.3v9h-1.3zM670 406.6h1.3v9h-1.3zM523.1 415.3h1.3v9h-1.3zM596.1 415.3h1.3v9h-1.3zM599.1 415.3h1.3v9h-1.3zM447.2 424.1h2.3v9h-2.3zM479.2 424.1h1.3v9h-1.3zM521.1 424.1h1.3v9h-1.3zM526.1 424.1h1.3v9h-1.3zM528.1 424.1h1.3v9h-1.3zM566.1 424.1h1.3v9h-1.3zM592.1 424.1h1.3v9h-1.3zM594.1 424.1h1.3v9h-1.3zM644 424.1h1.3v9h-1.3z" fill="rgb(56, 45, 108)"/><path d="M435.2 310.3h1.3v9h-1.3zM438.2 310.3h1.3v9h-1.3zM436.2 319.1h1.3v9h-1.3zM438.2 319.1h1.3v9h-1.3zM443.2 319.1h1.3v9h-1.3zM435.2 345.3h1.3v9h-1.3zM441.2 345.3h1.3v9h-1.3zM675 380.3h2.3v9h-2.3zM680 380.3h1.3v9h-1.3zM677 389.1h1.3v9h-1.3zM436.2 397.8h1.3v9h-1.3zM441.2 397.8h1.3v9h-1.3zM671 424.1h1.3v9h-1.3zM678 424.1h1.3v9h-1.3zM680 424.1h1.3v9h-1.3zM682 424.1h2.3v9h-2.3z" fill="rgb(43, 73, 166)"/><path d="M437.2 310.3h1.3v9h-1.3zM439.2 310.3h2.3v9h-2.3zM443.2 310.3h1.3v9h-1.3zM435.2 319.1h1.3v9h-1.3zM439.2 319.1h1.3v9h-1.3zM441.2 319.1h1.3v9h-1.3zM436.2 345.3h1.3v9h-1.3zM442.2 345.3h1.3v9h-1.3zM437.2 397.8h3.3v9h-3.3z" fill="rgb(40, 80, 180)"/><line x1="435.2" y1="310.3" x2="685" y2="310.3" stroke="#d8a03a" stroke-width="0.8"/><line x1="435.2" y1="362.8" x2="685" y2="362.8" stroke="#d8a03a" stroke-width="0.8"/><text x="433.8" y="290.8" font-size="6.9" text-anchor="end" fill="#333" textLength="19.1" lengthAdjust="spacingAndGlyphs">PLOD2</text><text x="433.8" y="299.5" font-size="6.9" text-anchor="end" fill="#333" textLength="43" lengthAdjust="spacingAndGlyphs">DCLK1.Isoform1</text><text x="433.8" y="308.3" font-size="6.9" text-anchor="end" fill="#333" textLength="43" lengthAdjust="spacingAndGlyphs">DCLK1.Isoform2</text><text x="433.8" y="317" font-size="6.9" text-anchor="end" fill="#333" textLength="10.3" lengthAdjust="spacingAndGlyphs">VIM</text><text x="433.8" y="325.8" font-size="6.9" text-anchor="end" fill="#333" textLength="15.8" lengthAdjust="spacingAndGlyphs">CDH2</text><text x="433.8" y="334.5" font-size="6.9" text-anchor="end" fill="#333" textLength="18.7" lengthAdjust="spacingAndGlyphs">CDH11</text><text x="433.8" y="343.3" font-size="6.9" text-anchor="end" fill="#333" textLength="11" lengthAdjust="spacingAndGlyphs">FN1</text><text x="433.8" y="352" font-size="6.9" text-anchor="end" fill="#333" textLength="14.6" lengthAdjust="spacingAndGlyphs">ZEB2</text><text x="433.8" y="360.8" font-size="6.9" text-anchor="end" fill="#333" textLength="16.8" lengthAdjust="spacingAndGlyphs">SNAI2</text><text x="433.8" y="369.5" font-size="6.9" text-anchor="end" fill="#333" textLength="13.6" lengthAdjust="spacingAndGlyphs">TJP3</text><text x="433.8" y="378.2" font-size="6.9" text-anchor="end" fill="#333" textLength="15.8" lengthAdjust="spacingAndGlyphs">CDH1</text><text x="433.8" y="387" font-size="6.9" text-anchor="end" fill="#333" textLength="15.5" lengthAdjust="spacingAndGlyphs">CRB3</text><text x="433.8" y="395.7" font-size="6.9" text-anchor="end" fill="#333" textLength="12" lengthAdjust="spacingAndGlyphs">DSP</text><text x="433.8" y="404.5" font-size="6.9" text-anchor="end" fill="#333" textLength="13.6" lengthAdjust="spacingAndGlyphs">TJP1</text><text x="433.8" y="413.2" font-size="6.9" text-anchor="end" fill="#333" textLength="19.1" lengthAdjust="spacingAndGlyphs">CLDN4</text><text x="433.8" y="422" font-size="6.9" text-anchor="end" fill="#333" textLength="19.1" lengthAdjust="spacingAndGlyphs">CLDN7</text><text x="433.8" y="430.7" font-size="6.9" text-anchor="end" fill="#333" textLength="13.6" lengthAdjust="spacingAndGlyphs">TJP2</text><path d="M412.1 311.6Q410.9 311.6 410.9 312.8V358.5Q410.9 359.7 412.1 359.7M410.9 335.3h-1.6" fill="none" stroke="#666" stroke-width="0.7"/><path d="M412.1 365.2Q410.9 365.2 410.9 366.4V428.8Q410.9 430 412.1 430M410.9 397.4h-1.6" fill="none" stroke="#666" stroke-width="0.7"/><text x="388.4" y="332.8" font-size="6.8" text-anchor="middle" fill="#333" textLength="37.2" lengthAdjust="spacingAndGlyphs">Mesenchymal</text><text x="388" y="339.8" font-size="6.8" text-anchor="middle" fill="#333" textLength="21.5" lengthAdjust="spacingAndGlyphs">markers</text><text x="387.6" y="396.2" font-size="6.8" text-anchor="middle" fill="#333" textLength="24" lengthAdjust="spacingAndGlyphs">Epithelial</text><text x="387.6" y="403.2" font-size="6.8" text-anchor="middle" fill="#333" textLength="21.5" lengthAdjust="spacingAndGlyphs">markers</text><defs><linearGradient id="tg" x1="0" x2="1" y1="0" y2="0"><stop offset="0" stop-color="#26399c"/><stop offset="0.42" stop-color="#3a5fb6"/><stop offset="0.6" stop-color="#6c7896"/><stop offset="0.8" stop-color="#c04a50"/><stop offset="1" stop-color="#e8282a"/></linearGradient><linearGradient id="lg" x1="0" x2="1" y1="0" y2="0"><stop offset="0" stop-color="rgb(40,80,180)"/><stop offset="0.25" stop-color="rgb(55,45,112)"/><stop offset="0.5" stop-color="rgb(10,8,10)"/><stop offset="0.75" stop-color="rgb(100,26,22)"/><stop offset="1" stop-color="rgb(235,38,38)"/></linearGradient></defs><path d="M450.6 282.9L518.8 272.7V282.9Z" fill="url(#tg)"/><text x="522.3" y="280.8" font-size="7.6" font-weight="bold" textLength="114.6" lengthAdjust="spacingAndGlyphs">PLOD2-DCLK1-L axis activation</text><rect x="631" y="438.6" width="44" height="9.1" fill="url(#lg)"/><line x1="632.4" y1="445" x2="632.4" y2="447.7" stroke="#fff" stroke-width="0.8"/><text x="632.4" y="455.7" font-size="7.3" text-anchor="middle" fill="#333">&#8722;2</text><line x1="642.7" y1="445" x2="642.7" y2="447.7" stroke="#fff" stroke-width="0.8"/><text x="642.7" y="455.7" font-size="7.3" text-anchor="middle" fill="#333">&#8722;1</text><line x1="653" y1="445" x2="653" y2="447.7" stroke="#fff" stroke-width="0.8"/><text x="653" y="455.7" font-size="7.3" text-anchor="middle" fill="#333">0</text><line x1="663.3" y1="445" x2="663.3" y2="447.7" stroke="#fff" stroke-width="0.8"/><text x="663.3" y="455.7" font-size="7.3" text-anchor="middle" fill="#333">1</text><line x1="673.6" y1="445" x2="673.6" y2="447.7" stroke="#fff" stroke-width="0.8"/><text x="673.6" y="455.7" font-size="7.3" text-anchor="middle" fill="#333">2</text><text x="609.3" y="445.8" font-size="7.5" fill="#333" textLength="18.2" lengthAdjust="spacingAndGlyphs">group</text><rect x="60.6" y="515.4" width="159.6" height="153" fill="#fff"/><line x1="67.8" y1="515.4" x2="67.8" y2="668.4" stroke="#ebebeb" stroke-width="0.7"/><line x1="85.9" y1="515.4" x2="85.9" y2="668.4" stroke="#f5f5f5" stroke-width="0.5"/><line x1="104.1" y1="515.4" x2="104.1" y2="668.4" stroke="#ebebeb" stroke-width="0.7"/><line x1="122.2" y1="515.4" x2="122.2" y2="668.4" stroke="#f5f5f5" stroke-width="0.5"/><line x1="140.4" y1="515.4" x2="140.4" y2="668.4" stroke="#ebebeb" stroke-width="0.7"/><line x1="158.5" y1="515.4" x2="158.5" y2="668.4" stroke="#f5f5f5" stroke-width="0.5"/><line x1="176.6" y1="515.4" x2="176.6" y2="668.4" stroke="#ebebeb" stroke-width="0.7"/><line x1="194.8" y1="515.4" x2="194.8" y2="668.4" stroke="#f5f5f5" stroke-width="0.5"/><line x1="212.9" y1="515.4" x2="212.9" y2="668.4" stroke="#ebebeb" stroke-width="0.7"/><line x1="60.6" y1="661.5" x2="220.2" y2="661.5" stroke="#ebebeb" stroke-width="0.7"/><line x1="60.6" y1="644.1" x2="220.2" y2="644.1" stroke="#f5f5f5" stroke-width="0.5"/><line x1="60.6" y1="626.7" x2="220.2" y2="626.7" stroke="#ebebeb" stroke-width="0.7"/><line x1="60.6" y1="609.3" x2="220.2" y2="609.3" stroke="#f5f5f5" stroke-width="0.5"/><line x1="60.6" y1="591.9" x2="220.2" y2="591.9" stroke="#ebebeb" stroke-width="0.7"/><line x1="60.6" y1="574.4" x2="220.2" y2="574.4" stroke="#f5f5f5" stroke-width="0.5"/><line x1="60.6" y1="557" x2="220.2" y2="557" stroke="#ebebeb" stroke-width="0.7"/><line x1="60.6" y1="539.6" x2="220.2" y2="539.6" stroke="#f5f5f5" stroke-width="0.5"/><line x1="60.6" y1="522.2" x2="220.2" y2="522.2" stroke="#ebebeb" stroke-width="0.7"/><rect x="60.6" y="515.4" width="159.6" height="153" fill="none" stroke="#d4d4d4" stroke-width="0.9"/><line x1="60.6" y1="668.4" x2="220.2" y2="668.4" stroke="#b8b8b8" stroke-width="0.9"/><line x1="58.8" y1="661.5" x2="60.6" y2="661.5" stroke="#666" stroke-width="0.6"/><text x="59" y="664.2" font-size="6.3" text-anchor="end" fill="#5a5a5a" textLength="11.2" lengthAdjust="spacingAndGlyphs">0.00</text><line x1="58.8" y1="626.7" x2="60.6" y2="626.7" stroke="#666" stroke-width="0.6"/><text x="59" y="629.4" font-size="6.3" text-anchor="end" fill="#5a5a5a" textLength="11.2" lengthAdjust="spacingAndGlyphs">0.25</text><line x1="58.8" y1="591.9" x2="60.6" y2="591.9" stroke="#666" stroke-width="0.6"/><text x="59" y="594.6" font-size="6.3" text-anchor="end" fill="#5a5a5a" textLength="11.2" lengthAdjust="spacingAndGlyphs">0.50</text><line x1="58.8" y1="557" x2="60.6" y2="557" stroke="#666" stroke-width="0.6"/><text x="59" y="559.7" font-size="6.3" text-anchor="end" fill="#5a5a5a" textLength="11.2" lengthAdjust="spacingAndGlyphs">0.75</text><line x1="58.8" y1="522.2" x2="60.6" y2="522.2" stroke="#666" stroke-width="0.6"/><text x="59" y="524.9" font-size="6.3" text-anchor="end" fill="#5a5a5a" textLength="11.2" lengthAdjust="spacingAndGlyphs">1.00</text><line x1="67.8" y1="668.4" x2="67.8" y2="670.2" stroke="#666" stroke-width="0.6"/><text x="67.8" y="674.2" font-size="6.2" text-anchor="middle" fill="#555">0</text><line x1="104.1" y1="668.4" x2="104.1" y2="670.2" stroke="#666" stroke-width="0.6"/><text x="104.1" y="674.2" font-size="6.2" text-anchor="middle" fill="#555">3</text><line x1="140.4" y1="668.4" x2="140.4" y2="670.2" stroke="#666" stroke-width="0.6"/><text x="140.4" y="674.2" font-size="6.2" text-anchor="middle" fill="#555">6</text><line x1="176.6" y1="668.4" x2="176.6" y2="670.2" stroke="#666" stroke-width="0.6"/><text x="176.6" y="674.2" font-size="6.2" text-anchor="middle" fill="#555">9</text><line x1="212.9" y1="668.4" x2="212.9" y2="670.2" stroke="#666" stroke-width="0.6"/><text x="212.9" y="674.2" font-size="6.2" text-anchor="middle" fill="#555">12</text><path d="M67.5 522.2H70.4V523.9H71.6V524.8H74.5V527.1H76.3V530.2H79.2V532.4H87.4V534.7H89.1V535.9H90.6V538.2H97.3V541.1H104.3V544.6H105.1V548.1H124.5V552.2H134.1V557.1H141.1V562.7H192.5V582.4H203" fill="none" stroke="#2c75b2" stroke-width="1.2"/><path d="M69.5 520.9v2.6M71 522.6v2.6M73 523.5v2.6M76.5 528.9v2.6M82 531.1v2.6M84.5 531.1v2.6M92 536.9v2.6M94.5 536.9v2.6M99.5 539.8v2.6M108 546.8v2.6M111 546.8v2.6M114 546.8v2.6M117 546.8v2.6M120 546.8v2.6M129 550.9v2.6M144 561.4v2.6M150 561.4v2.6M158 561.4v2.6M166 561.4v2.6M176 561.4v2.6M184 561.4v2.6M189 561.4v2.6M196 581.1v2.6M199.5 581.1v2.6M202.5 581.1v2.6" stroke="#2c75b2" stroke-width="0.6"/><path d="M67.5 522.2H95.3V526.3H114.5V531.4H198.8" fill="none" stroke="#e2342f" stroke-width="1.2"/><path d="M70.5 520.9v2.6M73 520.9v2.6M76 520.9v2.6M78 520.9v2.6M79.5 520.9v2.6M81 520.9v2.6M82.5 520.9v2.6M84 520.9v2.6M86 520.9v2.6M88 520.9v2.6M90 520.9v2.6M97 525v2.6M100 525v2.6M103 525v2.6M106 525v2.6M108 525v2.6M117.5 530.1v2.6M119 530.1v2.6M121 530.1v2.6M123 530.1v2.6M126 530.1v2.6M129 530.1v2.6M133 530.1v2.6M136 530.1v2.6M139 530.1v2.6M143 530.1v2.6M148 530.1v2.6M153 530.1v2.6M157 530.1v2.6M161 530.1v2.6M166 530.1v2.6M170 530.1v2.6M175 530.1v2.6M180 530.1v2.6M186 530.1v2.6M190 530.1v2.6M194 530.1v2.6M198.5 530.1v2.6" stroke="#e2342f" stroke-width="0.6"/><text x="68.4" y="655.9" font-size="6.5" text-anchor="middle" fill="#2c75b2">61</text><text x="104.7" y="655.9" font-size="6.5" text-anchor="middle" fill="#2c75b2">35</text><text x="141" y="655.9" font-size="6.5" text-anchor="middle" fill="#2c75b2">20</text><text x="177.2" y="655.9" font-size="6.5" text-anchor="middle" fill="#2c75b2">11</text><text x="213.5" y="655.9" font-size="6.5" text-anchor="middle" fill="#2c75b2">0</text><text x="68.4" y="664.6" font-size="6.5" text-anchor="middle" fill="#e2342f">55</text><text x="104.7" y="664.6" font-size="6.5" text-anchor="middle" fill="#e2342f">28</text><text x="141" y="664.6" font-size="6.5" text-anchor="middle" fill="#e2342f">14</text><text x="177.2" y="664.6" font-size="6.5" text-anchor="middle" fill="#e2342f">5</text><text x="213.5" y="664.6" font-size="6.5" text-anchor="middle" fill="#e2342f">0</text><text x="70.4" y="635.8" font-size="7.6" fill="#222" textLength="28.8" lengthAdjust="spacingAndGlyphs">p = 0.015</text><text x="43.4" y="595.6" font-size="10.8" text-anchor="middle" fill="#111" textLength="124.5" lengthAdjust="spacingAndGlyphs" transform="rotate(-90 43.4 595.6)">Disease Free Interval(DFI)</text><text x="139.4" y="688.6" font-size="10" text-anchor="middle" fill="#111" textLength="55.5" lengthAdjust="spacingAndGlyphs">Time(years)</text><rect x="266.8" y="514.5" width="160.8" height="152.8" fill="#fff"/><line x1="274.1" y1="514.5" x2="274.1" y2="667.3" stroke="#ebebeb" stroke-width="0.7"/><line x1="292.4" y1="514.5" x2="292.4" y2="667.3" stroke="#f5f5f5" stroke-width="0.5"/><line x1="310.6" y1="514.5" x2="310.6" y2="667.3" stroke="#ebebeb" stroke-width="0.7"/><line x1="328.9" y1="514.5" x2="328.9" y2="667.3" stroke="#f5f5f5" stroke-width="0.5"/><line x1="347.1" y1="514.5" x2="347.1" y2="667.3" stroke="#ebebeb" stroke-width="0.7"/><line x1="365.4" y1="514.5" x2="365.4" y2="667.3" stroke="#f5f5f5" stroke-width="0.5"/><line x1="383.6" y1="514.5" x2="383.6" y2="667.3" stroke="#ebebeb" stroke-width="0.7"/><line x1="401.9" y1="514.5" x2="401.9" y2="667.3" stroke="#f5f5f5" stroke-width="0.5"/><line x1="420.1" y1="514.5" x2="420.1" y2="667.3" stroke="#ebebeb" stroke-width="0.7"/><line x1="266.8" y1="660.6" x2="427.6" y2="660.6" stroke="#ebebeb" stroke-width="0.7"/><line x1="266.8" y1="643.2" x2="427.6" y2="643.2" stroke="#f5f5f5" stroke-width="0.5"/><line x1="266.8" y1="625.8" x2="427.6" y2="625.8" stroke="#ebebeb" stroke-width="0.7"/><line x1="266.8" y1="608.3" x2="427.6" y2="608.3" stroke="#f5f5f5" stroke-width="0.5"/><line x1="266.8" y1="590.9" x2="427.6" y2="590.9" stroke="#ebebeb" stroke-width="0.7"/><line x1="266.8" y1="573.5" x2="427.6" y2="573.5" stroke="#f5f5f5" stroke-width="0.5"/><line x1="266.8" y1="556.1" x2="427.6" y2="556.1" stroke="#ebebeb" stroke-width="0.7"/><line x1="266.8" y1="538.6" x2="427.6" y2="538.6" stroke="#f5f5f5" stroke-width="0.5"/><line x1="266.8" y1="521.2" x2="427.6" y2="521.2" stroke="#ebebeb" stroke-width="0.7"/><rect x="266.8" y="514.5" width="160.8" height="152.8" fill="none" stroke="#d4d4d4" stroke-width="0.9"/><line x1="266.8" y1="667.3" x2="427.6" y2="667.3" stroke="#b8b8b8" stroke-width="0.9"/><line x1="265" y1="660.6" x2="266.8" y2="660.6" stroke="#666" stroke-width="0.6"/><text x="265.2" y="663.3" font-size="6.3" text-anchor="end" fill="#5a5a5a" textLength="11.2" lengthAdjust="spacingAndGlyphs">0.00</text><line x1="265" y1="625.8" x2="266.8" y2="625.8" stroke="#666" stroke-width="0.6"/><text x="265.2" y="628.5" font-size="6.3" text-anchor="end" fill="#5a5a5a" textLength="11.2" lengthAdjust="spacingAndGlyphs">0.25</text><line x1="265" y1="590.9" x2="266.8" y2="590.9" stroke="#666" stroke-width="0.6"/><text x="265.2" y="593.6" font-size="6.3" text-anchor="end" fill="#5a5a5a" textLength="11.2" lengthAdjust="spacingAndGlyphs">0.50</text><line x1="265" y1="556.1" x2="266.8" y2="556.1" stroke="#666" stroke-width="0.6"/><text x="265.2" y="558.8" font-size="6.3" text-anchor="end" fill="#5a5a5a" textLength="11.2" lengthAdjust="spacingAndGlyphs">0.75</text><line x1="265" y1="521.2" x2="266.8" y2="521.2" stroke="#666" stroke-width="0.6"/><text x="265.2" y="523.9" font-size="6.3" text-anchor="end" fill="#5a5a5a" textLength="11.2" lengthAdjust="spacingAndGlyphs">1.00</text><line x1="274.1" y1="667.3" x2="274.1" y2="669.1" stroke="#666" stroke-width="0.6"/><text x="274.1" y="673.1" font-size="6.2" text-anchor="middle" fill="#555">0</text><line x1="310.6" y1="667.3" x2="310.6" y2="669.1" stroke="#666" stroke-width="0.6"/><text x="310.6" y="673.1" font-size="6.2" text-anchor="middle" fill="#555">3</text><line x1="347.1" y1="667.3" x2="347.1" y2="669.1" stroke="#666" stroke-width="0.6"/><text x="347.1" y="673.1" font-size="6.2" text-anchor="middle" fill="#555">6</text><line x1="383.6" y1="667.3" x2="383.6" y2="669.1" stroke="#666" stroke-width="0.6"/><text x="383.6" y="673.1" font-size="6.2" text-anchor="middle" fill="#555">9</text><line x1="420.1" y1="667.3" x2="420.1" y2="669.1" stroke="#666" stroke-width="0.6"/><text x="420.1" y="673.1" font-size="6.2" text-anchor="middle" fill="#555">12</text><path d="M273.8 521.2H276.6V530.5H281.4V540.8H296.8V552.7H310.8V566.4H321.6V582.3H348.6V597.5H400V618.3H408.5" fill="none" stroke="#2c75b2" stroke-width="1.2"/><path d="M279 529.2v2.6M290 539.5v2.6M293 539.5v2.6M304 551.4v2.6M314 565.1v2.6M391 596.2v2.6M407.5 617v2.6" stroke="#2c75b2" stroke-width="0.6"/><path d="M273.8 521.2H282.3V522H284.8V523.3H286.7V524H293.9V525.9H302.3V528.1H304V529.8H312V532.4H331.3V535.1H340.9V539.4H410.8" fill="none" stroke="#e2342f" stroke-width="1.2"/><path d="M276 519.9v2.6M278 519.9v2.6M280 519.9v2.6M283.5 520.7v2.6M288 522.7v2.6M291 522.7v2.6M296 524.6v2.6M299 524.6v2.6M306 528.5v2.6M309 528.5v2.6M315 531.1v2.6M318 531.1v2.6M321 531.1v2.6M324 531.1v2.6M327 531.1v2.6M334 533.8v2.6M337 533.8v2.6M344 538.1v2.6M347 538.1v2.6M351 538.1v2.6M356 538.1v2.6M360 538.1v2.6M364 538.1v2.6M370 538.1v2.6M376 538.1v2.6M380 538.1v2.6M384 538.1v2.6M388 538.1v2.6M392 538.1v2.6M396 538.1v2.6M399 538.1v2.6M402 538.1v2.6M405 538.1v2.6M408 538.1v2.6" stroke="#e2342f" stroke-width="0.6"/><text x="274.7" y="655.1" font-size="6.5" text-anchor="middle" fill="#2c75b2">17</text><text x="311.2" y="655.1" font-size="6.5" text-anchor="middle" fill="#2c75b2">8</text><text x="347.7" y="655.1" font-size="6.5" text-anchor="middle" fill="#2c75b2">5</text><text x="384.2" y="655.1" font-size="6.5" text-anchor="middle" fill="#2c75b2">4</text><text x="420.7" y="655.1" font-size="6.5" text-anchor="middle" fill="#2c75b2">0</text><text x="274.7" y="663.9" font-size="6.5" text-anchor="middle" fill="#e2342f">99</text><text x="311.2" y="663.9" font-size="6.5" text-anchor="middle" fill="#e2342f">55</text><text x="347.7" y="663.9" font-size="6.5" text-anchor="middle" fill="#e2342f">29</text><text x="384.2" y="663.9" font-size="6.5" text-anchor="middle" fill="#e2342f">12</text><text x="420.7" y="663.9" font-size="6.5" text-anchor="middle" fill="#e2342f">0</text><text x="276.8" y="635.8" font-size="7.6" fill="#222" textLength="35.7" lengthAdjust="spacingAndGlyphs">p = 0.00031</text><text x="247.3" y="595.6" font-size="10.8" text-anchor="middle" fill="#111" textLength="125" lengthAdjust="spacingAndGlyphs" transform="rotate(-90 247.3 595.6)">Disease Free Interval(DFI)</text><text x="345.3" y="688.6" font-size="10" text-anchor="middle" fill="#111" textLength="55.5" lengthAdjust="spacingAndGlyphs">Time(years)</text><rect x="483.1" y="514.8" width="165.7" height="151.7" fill="#fff"/><line x1="490.6" y1="514.8" x2="490.6" y2="666.5" stroke="#ebebeb" stroke-width="0.7"/><line x1="509.5" y1="514.8" x2="509.5" y2="666.5" stroke="#f5f5f5" stroke-width="0.5"/><line x1="528.3" y1="514.8" x2="528.3" y2="666.5" stroke="#ebebeb" stroke-width="0.7"/><line x1="547.1" y1="514.8" x2="547.1" y2="666.5" stroke="#f5f5f5" stroke-width="0.5"/><line x1="566" y1="514.8" x2="566" y2="666.5" stroke="#ebebeb" stroke-width="0.7"/><line x1="584.9" y1="514.8" x2="584.9" y2="666.5" stroke="#f5f5f5" stroke-width="0.5"/><line x1="603.7" y1="514.8" x2="603.7" y2="666.5" stroke="#ebebeb" stroke-width="0.7"/><line x1="622.5" y1="514.8" x2="622.5" y2="666.5" stroke="#f5f5f5" stroke-width="0.5"/><line x1="641.4" y1="514.8" x2="641.4" y2="666.5" stroke="#ebebeb" stroke-width="0.7"/><line x1="483.1" y1="659.6" x2="648.8" y2="659.6" stroke="#ebebeb" stroke-width="0.7"/><line x1="483.1" y1="642.3" x2="648.8" y2="642.3" stroke="#f5f5f5" stroke-width="0.5"/><line x1="483.1" y1="625" x2="648.8" y2="625" stroke="#ebebeb" stroke-width="0.7"/><line x1="483.1" y1="607.7" x2="648.8" y2="607.7" stroke="#f5f5f5" stroke-width="0.5"/><line x1="483.1" y1="590.4" x2="648.8" y2="590.4" stroke="#ebebeb" stroke-width="0.7"/><line x1="483.1" y1="573.1" x2="648.8" y2="573.1" stroke="#f5f5f5" stroke-width="0.5"/><line x1="483.1" y1="555.8" x2="648.8" y2="555.8" stroke="#ebebeb" stroke-width="0.7"/><line x1="483.1" y1="538.5" x2="648.8" y2="538.5" stroke="#f5f5f5" stroke-width="0.5"/><line x1="483.1" y1="521.2" x2="648.8" y2="521.2" stroke="#ebebeb" stroke-width="0.7"/><rect x="483.1" y="514.8" width="165.7" height="151.7" fill="none" stroke="#d4d4d4" stroke-width="0.9"/><line x1="483.1" y1="666.5" x2="648.8" y2="666.5" stroke="#b8b8b8" stroke-width="0.9"/><line x1="481.3" y1="659.6" x2="483.1" y2="659.6" stroke="#666" stroke-width="0.6"/><text x="481.5" y="662.3" font-size="6.3" text-anchor="end" fill="#5a5a5a" textLength="11.2" lengthAdjust="spacingAndGlyphs">0.00</text><line x1="481.3" y1="625" x2="483.1" y2="625" stroke="#666" stroke-width="0.6"/><text x="481.5" y="627.7" font-size="6.3" text-anchor="end" fill="#5a5a5a" textLength="11.2" lengthAdjust="spacingAndGlyphs">0.25</text><line x1="481.3" y1="590.4" x2="483.1" y2="590.4" stroke="#666" stroke-width="0.6"/><text x="481.5" y="593.1" font-size="6.3" text-anchor="end" fill="#5a5a5a" textLength="11.2" lengthAdjust="spacingAndGlyphs">0.50</text><line x1="481.3" y1="555.8" x2="483.1" y2="555.8" stroke="#666" stroke-width="0.6"/><text x="481.5" y="558.5" font-size="6.3" text-anchor="end" fill="#5a5a5a" textLength="11.2" lengthAdjust="spacingAndGlyphs">0.75</text><line x1="481.3" y1="521.2" x2="483.1" y2="521.2" stroke="#666" stroke-width="0.6"/><text x="481.5" y="523.9" font-size="6.3" text-anchor="end" fill="#5a5a5a" textLength="11.2" lengthAdjust="spacingAndGlyphs">1.00</text><line x1="490.6" y1="666.5" x2="490.6" y2="668.3" stroke="#666" stroke-width="0.6"/><text x="490.6" y="672.3" font-size="6.2" text-anchor="middle" fill="#555">0</text><line x1="528.3" y1="666.5" x2="528.3" y2="668.3" stroke="#666" stroke-width="0.6"/><text x="528.3" y="672.3" font-size="6.2" text-anchor="middle" fill="#555">3</text><line x1="566" y1="666.5" x2="566" y2="668.3" stroke="#666" stroke-width="0.6"/><text x="566" y="672.3" font-size="6.2" text-anchor="middle" fill="#555">6</text><line x1="603.7" y1="666.5" x2="603.7" y2="668.3" stroke="#666" stroke-width="0.6"/><text x="603.7" y="672.3" font-size="6.2" text-anchor="middle" fill="#555">9</text><line x1="641.4" y1="666.5" x2="641.4" y2="668.3" stroke="#666" stroke-width="0.6"/><text x="641.4" y="672.3" font-size="6.2" text-anchor="middle" fill="#555">12</text><path d="M490.3 521.2H493.6V532.3H498.1V544H514V556.6H528.4V571H566.8V589.4H620.7V611.7H627.6" fill="none" stroke="#2c75b2" stroke-width="1.2"/><path d="M513 542.7v2.6M522 555.3v2.6M533 569.7v2.6M612 588.1v2.6M627.3 610.4v2.6" stroke="#2c75b2" stroke-width="0.6"/><path d="M490.3 521.2H498.6V524.9H502.3V528.1H511.5V531.6H520.9V535.3H528.9V540.3H549.5V546H559.4V552.2H631.4" fill="none" stroke="#e2342f" stroke-width="1.2"/><path d="M493 519.9v2.6M495 519.9v2.6M505 526.8v2.6M508 526.8v2.6M514 530.3v2.6M517 530.3v2.6M524 534v2.6M527 534v2.6M532 539v2.6M535 539v2.6M538 539v2.6M541 539v2.6M544 539v2.6M547 539v2.6M552 544.7v2.6M556 544.7v2.6M562 550.9v2.6M564 550.9v2.6M566 550.9v2.6M570 550.9v2.6M577 550.9v2.6M585 550.9v2.6M594 550.9v2.6M600 550.9v2.6M610 550.9v2.6M615 550.9v2.6M620 550.9v2.6M624 550.9v2.6M628 550.9v2.6M631 550.9v2.6" stroke="#e2342f" stroke-width="0.6"/><path d="M490.3 521.2H519.7V525.4H626.9" fill="none" stroke="#4daf4a" stroke-width="1.2"/><path d="M492 519.9v2.6M494 519.9v2.6M496 519.9v2.6M498 519.9v2.6M500 519.9v2.6M502 519.9v2.6M504 519.9v2.6M506 519.9v2.6M508 519.9v2.6M510 519.9v2.6M512 519.9v2.6M514 519.9v2.6M516 519.9v2.6M518 519.9v2.6M522 524.1v2.6M525 524.1v2.6M528 524.1v2.6M532 524.1v2.6M536 524.1v2.6M540 524.1v2.6M544 524.1v2.6M548 524.1v2.6M552 524.1v2.6M556 524.1v2.6M562 524.1v2.6M568 524.1v2.6M574 524.1v2.6M580 524.1v2.6M586 524.1v2.6M592 524.1v2.6M598 524.1v2.6M604 524.1v2.6M610 524.1v2.6M616 524.1v2.6M622 524.1v2.6M626.5 524.1v2.6" stroke="#4daf4a" stroke-width="0.6"/><text x="491.2" y="646.1" font-size="6.5" text-anchor="middle" fill="#2c75b2">14</text><text x="528.9" y="646.1" font-size="6.5" text-anchor="middle" fill="#2c75b2">7</text><text x="566.6" y="646.1" font-size="6.5" text-anchor="middle" fill="#2c75b2">5</text><text x="604.3" y="646.1" font-size="6.5" text-anchor="middle" fill="#2c75b2">4</text><text x="642" y="646.1" font-size="6.5" text-anchor="middle" fill="#2c75b2">0</text><text x="491.2" y="654.7" font-size="6.5" text-anchor="middle" fill="#e2342f">47</text><text x="528.9" y="654.7" font-size="6.5" text-anchor="middle" fill="#e2342f">28</text><text x="566.6" y="654.7" font-size="6.5" text-anchor="middle" fill="#e2342f">15</text><text x="604.3" y="654.7" font-size="6.5" text-anchor="middle" fill="#e2342f">7</text><text x="642" y="654.7" font-size="6.5" text-anchor="middle" fill="#e2342f">0</text><text x="491.2" y="662.9" font-size="6.5" text-anchor="middle" fill="#4daf4a">52</text><text x="528.9" y="662.9" font-size="6.5" text-anchor="middle" fill="#4daf4a">27</text><text x="566.6" y="662.9" font-size="6.5" text-anchor="middle" fill="#4daf4a">14</text><text x="604.3" y="662.9" font-size="6.5" text-anchor="middle" fill="#4daf4a">5</text><text x="642" y="662.9" font-size="6.5" text-anchor="middle" fill="#4daf4a">0</text><text x="493" y="634.2" font-size="7.6" fill="#222" textLength="29.5" lengthAdjust="spacingAndGlyphs">p = 0.001</text><text x="465.5" y="595.6" font-size="10.8" text-anchor="middle" fill="#111" textLength="124.5" lengthAdjust="spacingAndGlyphs" transform="rotate(-90 465.5 595.6)">Disease Free Interval(DFI)</text><text x="562.2" y="688.6" font-size="10" text-anchor="middle" fill="#111" textLength="55.5" lengthAdjust="spacingAndGlyphs">Time(years)</text><text x="74" y="505.1" font-size="10.3" fill="#222" textLength="30.7" lengthAdjust="spacingAndGlyphs">PLOD2</text><line x1="112" y1="501.1" x2="125.1" y2="501.1" stroke="#2c75b2" stroke-width="1.9"/><line x1="118.5" y1="497.7" x2="118.5" y2="504.5" stroke="#2c75b2" stroke-width="1.2"/><text x="131.7" y="505.1" font-size="10.3" fill="#222" textLength="18" lengthAdjust="spacingAndGlyphs">high</text><line x1="155.8" y1="501.1" x2="169.5" y2="501.1" stroke="#e2342f" stroke-width="1.9"/><line x1="162.7" y1="497.7" x2="162.7" y2="504.5" stroke="#e2342f" stroke-width="1.2"/><text x="176.4" y="505.1" font-size="10.3" fill="#222" textLength="14" lengthAdjust="spacingAndGlyphs">low</text><text x="281" y="504.8" font-size="9.3" fill="#222" textLength="37.4" lengthAdjust="spacingAndGlyphs">DCLK1&#8722;L</text><line x1="324.3" y1="500.9" x2="336.1" y2="500.9" stroke="#2c75b2" stroke-width="1.9"/><line x1="330.2" y1="498.3" x2="330.2" y2="502.3" stroke="#2c75b2" stroke-width="1.2"/><text x="342.2" y="504.8" font-size="9.3" fill="#222" textLength="16.7" lengthAdjust="spacingAndGlyphs">high</text><line x1="365.3" y1="500.9" x2="377.2" y2="500.9" stroke="#e2342f" stroke-width="1.9"/><line x1="371.2" y1="498.3" x2="371.2" y2="502.3" stroke="#e2342f" stroke-width="1.2"/><text x="383.9" y="504.8" font-size="9.3" fill="#222" textLength="12.5" lengthAdjust="spacingAndGlyphs">low</text><line x1="512.2" y1="487.6" x2="521.4" y2="487.6" stroke="#2c75b2" stroke-width="1.9"/><line x1="516.8" y1="485" x2="516.8" y2="489" stroke="#2c75b2" stroke-width="1.2"/><text x="526.7" y="490.4" font-size="8.2" fill="#222" textLength="84.3" lengthAdjust="spacingAndGlyphs">PLOD2&#8722;high+DCLK1&#8722;high</text><line x1="512.2" y1="497.8" x2="521.4" y2="497.8" stroke="#e2342f" stroke-width="1.9"/><line x1="516.8" y1="495.2" x2="516.8" y2="499.2" stroke="#e2342f" stroke-width="1.2"/><text x="526.7" y="500.6" font-size="8.2" fill="#222" textLength="81.1" lengthAdjust="spacingAndGlyphs">PLOD2&#8722;high+DCLK1&#8722;low</text><line x1="512.2" y1="507.4" x2="521.4" y2="507.4" stroke="#4daf4a" stroke-width="1.9"/><line x1="516.8" y1="504.8" x2="516.8" y2="508.8" stroke="#4daf4a" stroke-width="1.2"/><text x="526.7" y="510.2" font-size="8.2" fill="#222" textLength="78.7" lengthAdjust="spacingAndGlyphs">PLOD2&#8722;low+DCLK1&#8722;low</text></svg></body></html>
